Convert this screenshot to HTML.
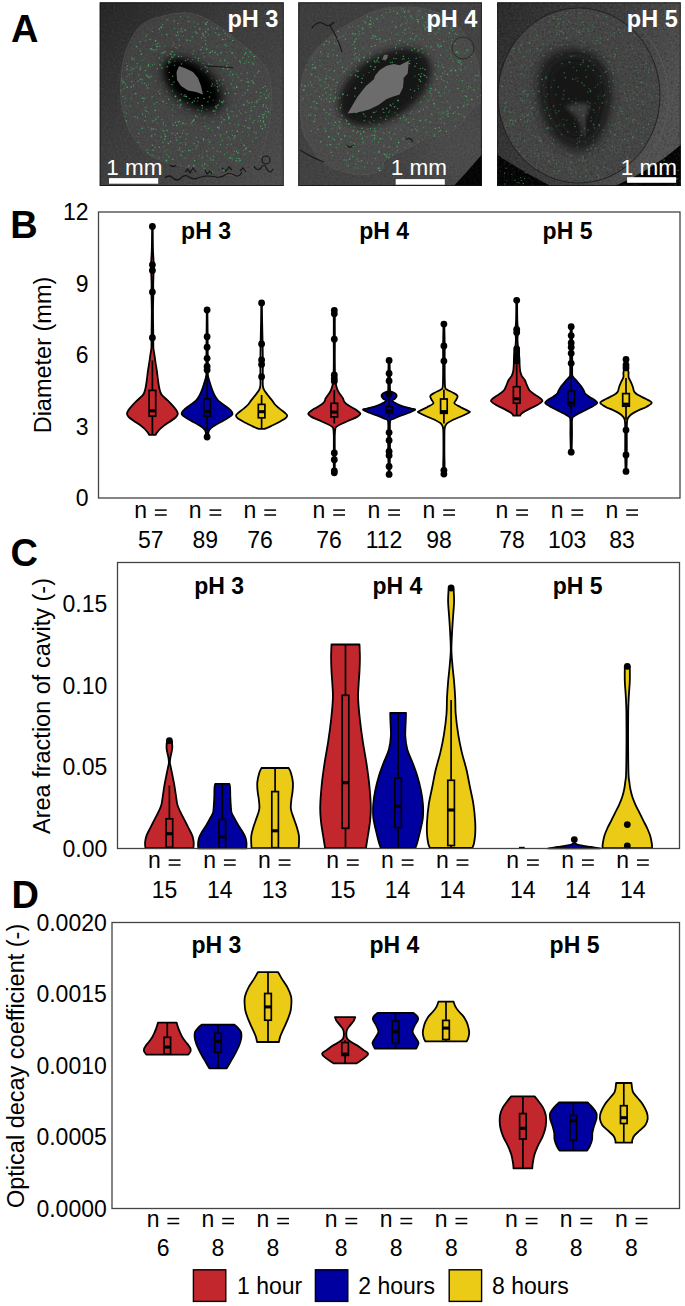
<!DOCTYPE html>
<html><head><meta charset="utf-8"><title>Figure</title>
<style>
html,body{margin:0;padding:0;background:#fff;overflow:hidden;}
svg{display:block;}
text{font-family:"Liberation Sans", sans-serif;}
</style></head>
<body>
<svg width="685" height="1306" viewBox="0 0 685 1306">
<rect width="685" height="1306" fill="#fff"/>
<defs>
<filter id="bl2" x="-50%" y="-50%" width="200%" height="200%"><feGaussianBlur stdDeviation="2"/></filter>
<filter id="bl3" x="-50%" y="-50%" width="200%" height="200%"><feGaussianBlur stdDeviation="3"/></filter>
<filter id="bl5" x="-50%" y="-50%" width="200%" height="200%"><feGaussianBlur stdDeviation="5"/></filter>
<filter id="bl8" x="-50%" y="-50%" width="200%" height="200%"><feGaussianBlur stdDeviation="8"/></filter>
<filter id="bl12" x="-50%" y="-50%" width="200%" height="200%"><feGaussianBlur stdDeviation="12"/></filter>
<filter id="bl1" x="-50%" y="-50%" width="200%" height="200%"><feGaussianBlur stdDeviation="1"/></filter>
<filter id="noise" x="0" y="0" width="100%" height="100%">
 <feTurbulence type="fractalNoise" baseFrequency="0.45" numOctaves="2" seed="3" result="t"/>
 <feColorMatrix type="matrix" values="0 0 0 0 0  0 0 0 0 0  0 0 0 0 0  0 0 0 -1.2 0.62"/>
</filter>
<filter id="noiseL" x="0" y="0" width="100%" height="100%">
 <feTurbulence type="fractalNoise" baseFrequency="0.5" numOctaves="2" seed="9" result="t"/>
 <feColorMatrix type="matrix" values="0 0 0 0 1  0 0 0 0 1  0 0 0 0 1  0 0 0 -1.2 0.62"/>
</filter>
<clipPath id="ca1"><rect x="99.6" y="2.3" width="184.2" height="183.7"/></clipPath>
<clipPath id="ca2"><rect x="298.2" y="2.3" width="183.7" height="183.7"/></clipPath>
<clipPath id="ca3"><rect x="497.1" y="2.3" width="183.7" height="183.7"/></clipPath>
<linearGradient id="g1" x1="0" y1="0" x2="1" y2="1"><stop offset="0" stop-color="#262626"/><stop offset="0.4" stop-color="#3c3c3c"/><stop offset="1" stop-color="#4e4e4e"/></linearGradient>
<linearGradient id="g2" x1="0" y1="0" x2="1" y2="1"><stop offset="0" stop-color="#3e3e3e"/><stop offset="1" stop-color="#474747"/></linearGradient>
<linearGradient id="g3" x1="0" y1="0" x2="1" y2="0.4"><stop offset="0" stop-color="#2c2c2c"/><stop offset="0.6" stop-color="#3e3e3e"/><stop offset="1" stop-color="#525252"/></linearGradient>
<radialGradient id="rd1" cx="0.5" cy="0.5" r="0.5"><stop offset="0" stop-color="#4a4a4a"/><stop offset="1" stop-color="#444"/></radialGradient>
</defs>
<g clip-path="url(#ca1)">
<rect x="99" y="2" width="186" height="185" fill="url(#g1)"/>
<path d="M163.40,16.10 C171.68,14.27 182.53,11.62 192.00,13.50 C201.47,15.38 212.45,22.75 220.20,27.40 C227.95,32.05 232.63,36.72 238.50,41.40 C244.37,46.08 250.70,50.80 255.40,55.50 C260.10,60.20 264.12,64.43 266.70,69.60 C269.28,74.77 270.20,80.15 270.90,86.50 C271.60,92.85 271.37,100.65 270.90,107.70 C270.43,114.75 269.52,121.77 268.10,128.80 C266.68,135.83 264.52,144.03 262.40,149.90 C260.28,155.77 260.08,159.77 255.40,164.00 C250.72,168.23 241.87,173.97 234.30,175.30 C226.73,176.63 218.30,173.42 210.00,172.00 C201.70,170.58 192.27,168.60 184.50,166.80 C176.73,165.00 169.73,163.55 163.40,161.20 C157.07,158.85 151.67,156.93 146.50,152.70 C141.33,148.47 135.92,141.43 132.40,135.80 C128.88,130.17 127.28,124.77 125.40,118.90 C123.52,113.03 121.82,107.17 121.10,100.60 C120.38,94.03 120.62,86.53 121.10,79.50 C121.58,72.47 122.35,64.98 124.00,58.40 C125.65,51.82 127.95,45.65 131.00,40.00 C134.05,34.35 136.90,28.48 142.30,24.50 C147.70,20.52 155.12,17.93 163.40,16.10 Z" fill="#484848" opacity="0.75" filter="url(#bl1)"/>
<path d="M163.40,16.10 C171.68,14.27 182.53,11.62 192.00,13.50 C201.47,15.38 212.45,22.75 220.20,27.40 C227.95,32.05 232.63,36.72 238.50,41.40 C244.37,46.08 250.70,50.80 255.40,55.50 C260.10,60.20 264.12,64.43 266.70,69.60 C269.28,74.77 270.20,80.15 270.90,86.50 C271.60,92.85 271.37,100.65 270.90,107.70 C270.43,114.75 269.52,121.77 268.10,128.80 C266.68,135.83 264.52,144.03 262.40,149.90 C260.28,155.77 260.08,159.77 255.40,164.00 C250.72,168.23 241.87,173.97 234.30,175.30 C226.73,176.63 218.30,173.42 210.00,172.00 C201.70,170.58 192.27,168.60 184.50,166.80 C176.73,165.00 169.73,163.55 163.40,161.20 C157.07,158.85 151.67,156.93 146.50,152.70 C141.33,148.47 135.92,141.43 132.40,135.80 C128.88,130.17 127.28,124.77 125.40,118.90 C123.52,113.03 121.82,107.17 121.10,100.60 C120.38,94.03 120.62,86.53 121.10,79.50 C121.58,72.47 122.35,64.98 124.00,58.40 C125.65,51.82 127.95,45.65 131.00,40.00 C134.05,34.35 136.90,28.48 142.30,24.50 C147.70,20.52 155.12,17.93 163.40,16.10 Z" fill="none" stroke="#5c5c5c" stroke-width="1" opacity="0.6"/>
<rect x="99" y="2" width="186" height="185" filter="url(#noise)" opacity="0.3"/>
<rect x="99" y="2" width="186" height="185" filter="url(#noiseL)" opacity="0.12"/>
<ellipse cx="193" cy="85" rx="38" ry="23" transform="rotate(40 193 85)" fill="#222222" filter="url(#bl5)"/>
<ellipse cx="192" cy="84" rx="32" ry="17" transform="rotate(40 192 84)" fill="#060606" filter="url(#bl3)"/>
<path d="M179,66 L186,68.5 L193,72 L198,78 L201,86 L203,94.5 L196,92 L188,90.5 L181,86 L177,80 L176.5,72 Z" fill="#6a6a6a"/>
<path d="M205,66 L233,67.5" stroke="#151515" stroke-width="1" fill="none"/>
<path d="M165,178 q4,-4 8,0 t8,0 t8,-1 t9,1 t9,-2 t9,1 t9,-2 t9,0 t8,-3 M254,166 q3,6 7,2 q3,-6 6,1 q3,6 6,0 M170,165 q3,3 6,0 M185,172 l3,-3 l2,4 l3,-5 l3,4 M205,170 l2,4 l3,-3 l2,3 M222,168 l4,3 l3,-4 l3,3 M240,171 l3,-3 l3,4 M262,160 a4,4 0 1,0 8,0 a4,4 0 1,0 -8,0" stroke="#0e0e0e" stroke-width="1.2" fill="none" opacity="0.85"/>
<g opacity="0.80"><circle cx="182.8" cy="123.5" r="0.56" fill="rgb(68,181,99)"/><circle cx="206.1" cy="72.3" r="0.57" fill="rgb(67,177,97)"/><circle cx="181.3" cy="94.3" r="0.68" fill="rgb(63,167,91)"/><circle cx="199.3" cy="155.8" r="0.80" fill="rgb(54,143,78)"/><circle cx="221.6" cy="122.2" r="0.72" fill="rgb(68,180,99)"/><circle cx="249.8" cy="118.8" r="0.84" fill="rgb(54,143,78)"/><circle cx="263.4" cy="116.9" r="0.68" fill="rgb(60,158,86)"/><circle cx="140.4" cy="79.3" r="0.79" fill="rgb(66,175,96)"/><circle cx="220.4" cy="151.7" r="0.61" fill="rgb(68,180,99)"/><circle cx="248.5" cy="134.8" r="0.57" fill="rgb(66,176,96)"/><circle cx="213.1" cy="160.1" r="0.78" fill="rgb(63,167,91)"/><circle cx="124.7" cy="111.9" r="0.64" fill="rgb(61,163,89)"/><circle cx="213.5" cy="29.1" r="0.57" fill="rgb(58,155,85)"/><circle cx="179.4" cy="149.8" r="0.77" fill="rgb(61,161,88)"/><circle cx="232.2" cy="130.8" r="0.65" fill="rgb(71,188,103)"/><circle cx="241.1" cy="73.3" r="0.57" fill="rgb(69,182,100)"/><circle cx="132.9" cy="69.0" r="0.64" fill="rgb(72,192,105)"/><circle cx="176.3" cy="35.5" r="0.79" fill="rgb(67,177,97)"/><circle cx="217.1" cy="105.5" r="0.69" fill="rgb(59,157,86)"/><circle cx="177.7" cy="32.1" r="0.80" fill="rgb(69,183,100)"/><circle cx="185.8" cy="144.7" r="0.65" fill="rgb(69,182,100)"/><circle cx="238.2" cy="77.2" r="0.59" fill="rgb(68,179,98)"/><circle cx="258.1" cy="121.0" r="0.77" fill="rgb(56,148,81)"/><circle cx="137.7" cy="142.0" r="0.57" fill="rgb(64,171,94)"/><circle cx="142.5" cy="114.1" r="0.59" fill="rgb(74,196,107)"/><circle cx="144.9" cy="120.7" r="0.67" fill="rgb(70,185,101)"/><circle cx="150.9" cy="154.8" r="0.60" fill="rgb(58,154,84)"/><circle cx="212.4" cy="130.3" r="0.55" fill="rgb(58,154,84)"/><circle cx="211.8" cy="64.4" r="0.55" fill="rgb(60,158,86)"/><circle cx="155.7" cy="119.3" r="0.65" fill="rgb(66,176,96)"/><circle cx="245.7" cy="148.9" r="0.74" fill="rgb(76,200,110)"/><circle cx="250.2" cy="52.3" r="0.75" fill="rgb(74,195,107)"/><circle cx="151.3" cy="76.2" r="0.58" fill="rgb(62,165,90)"/><circle cx="227.7" cy="110.4" r="0.58" fill="rgb(57,150,82)"/><circle cx="145.2" cy="70.5" r="0.66" fill="rgb(76,200,110)"/><circle cx="266.2" cy="107.2" r="0.66" fill="rgb(68,179,98)"/><circle cx="146.7" cy="35.1" r="0.66" fill="rgb(67,178,97)"/><circle cx="246.2" cy="147.7" r="0.69" fill="rgb(64,169,92)"/><circle cx="185.1" cy="123.8" r="0.65" fill="rgb(71,187,102)"/><circle cx="202.1" cy="105.6" r="0.84" fill="rgb(76,200,110)"/><circle cx="155.2" cy="147.0" r="0.56" fill="rgb(75,198,108)"/><circle cx="122.0" cy="80.7" r="0.58" fill="rgb(74,195,107)"/><circle cx="226.9" cy="46.3" r="0.60" fill="rgb(75,198,108)"/><circle cx="203.6" cy="35.7" r="0.70" fill="rgb(71,189,103)"/><circle cx="157.0" cy="46.5" r="0.85" fill="rgb(72,190,104)"/><circle cx="223.2" cy="30.9" r="0.61" fill="rgb(58,154,84)"/><circle cx="131.1" cy="98.2" r="0.79" fill="rgb(53,141,77)"/><circle cx="163.1" cy="101.3" r="0.84" fill="rgb(67,178,97)"/><circle cx="126.4" cy="120.8" r="0.84" fill="rgb(61,162,89)"/><circle cx="172.5" cy="123.9" r="0.69" fill="rgb(58,154,84)"/><circle cx="168.3" cy="143.5" r="0.73" fill="rgb(74,197,108)"/><circle cx="268.5" cy="95.9" r="0.79" fill="rgb(61,162,89)"/><circle cx="249.2" cy="128.8" r="0.67" fill="rgb(75,198,108)"/><circle cx="187.9" cy="59.5" r="0.60" fill="rgb(74,196,107)"/><circle cx="206.7" cy="49.1" r="0.83" fill="rgb(72,191,105)"/><circle cx="186.9" cy="40.1" r="0.83" fill="rgb(71,187,102)"/><circle cx="191.1" cy="61.6" r="0.56" fill="rgb(56,148,81)"/><circle cx="152.4" cy="64.8" r="0.59" fill="rgb(68,181,99)"/><circle cx="171.2" cy="54.5" r="0.71" fill="rgb(66,175,96)"/><circle cx="263.3" cy="104.8" r="0.74" fill="rgb(70,186,102)"/><circle cx="123.6" cy="81.8" r="0.85" fill="rgb(63,167,91)"/><circle cx="220.1" cy="167.1" r="0.63" fill="rgb(53,141,77)"/><circle cx="186.1" cy="133.8" r="0.65" fill="rgb(67,177,97)"/><circle cx="129.3" cy="74.4" r="0.82" fill="rgb(54,143,78)"/><circle cx="164.8" cy="139.1" r="0.79" fill="rgb(67,177,97)"/><circle cx="127.3" cy="87.2" r="0.70" fill="rgb(74,196,107)"/><circle cx="142.1" cy="83.2" r="0.81" fill="rgb(53,141,77)"/><circle cx="205.8" cy="31.9" r="0.79" fill="rgb(71,189,103)"/><circle cx="220.5" cy="144.8" r="0.59" fill="rgb(70,186,102)"/><circle cx="254.1" cy="120.6" r="0.72" fill="rgb(65,173,95)"/><circle cx="201.3" cy="68.9" r="0.57" fill="rgb(66,175,96)"/><circle cx="201.6" cy="110.7" r="0.70" fill="rgb(55,146,80)"/><circle cx="134.7" cy="68.0" r="0.57" fill="rgb(75,198,108)"/><circle cx="169.3" cy="72.4" r="0.69" fill="rgb(59,157,86)"/><circle cx="144.6" cy="83.2" r="0.62" fill="rgb(76,200,110)"/><circle cx="125.6" cy="83.8" r="0.63" fill="rgb(75,199,109)"/><circle cx="127.3" cy="65.9" r="0.68" fill="rgb(73,193,106)"/><circle cx="154.8" cy="120.7" r="0.57" fill="rgb(60,160,88)"/><circle cx="197.2" cy="117.1" r="0.64" fill="rgb(69,182,100)"/><circle cx="244.2" cy="145.3" r="0.76" fill="rgb(76,200,110)"/><circle cx="153.4" cy="129.1" r="0.80" fill="rgb(69,182,100)"/><circle cx="222.4" cy="140.7" r="0.67" fill="rgb(65,172,94)"/><circle cx="156.1" cy="118.2" r="0.77" fill="rgb(55,145,79)"/><circle cx="252.1" cy="102.5" r="0.76" fill="rgb(63,168,92)"/><circle cx="155.1" cy="134.2" r="0.70" fill="rgb(60,158,86)"/><circle cx="265.4" cy="127.0" r="0.62" fill="rgb(72,190,104)"/><circle cx="211.7" cy="78.3" r="0.56" fill="rgb(59,157,86)"/><circle cx="203.2" cy="53.1" r="0.80" fill="rgb(56,148,81)"/><circle cx="232.6" cy="40.4" r="0.63" fill="rgb(76,200,110)"/><circle cx="239.1" cy="158.4" r="0.70" fill="rgb(66,176,96)"/><circle cx="177.3" cy="133.3" r="0.76" fill="rgb(72,191,105)"/><circle cx="177.8" cy="105.0" r="0.56" fill="rgb(76,200,110)"/><circle cx="228.9" cy="117.1" r="0.81" fill="rgb(67,178,97)"/><circle cx="260.5" cy="126.0" r="0.55" fill="rgb(64,169,92)"/><circle cx="245.1" cy="93.1" r="0.63" fill="rgb(75,198,108)"/><circle cx="234.0" cy="138.2" r="0.83" fill="rgb(58,155,85)"/><circle cx="234.2" cy="86.9" r="0.61" fill="rgb(57,151,83)"/><circle cx="180.1" cy="136.9" r="0.61" fill="rgb(71,188,103)"/><circle cx="137.3" cy="117.5" r="0.65" fill="rgb(59,157,86)"/><circle cx="233.8" cy="99.7" r="0.56" fill="rgb(53,140,77)"/><circle cx="158.5" cy="91.4" r="0.58" fill="rgb(63,168,92)"/><circle cx="217.0" cy="46.1" r="0.71" fill="rgb(64,171,94)"/><circle cx="183.5" cy="130.6" r="0.65" fill="rgb(58,154,84)"/><circle cx="227.6" cy="35.1" r="0.59" fill="rgb(68,180,99)"/><circle cx="145.7" cy="40.5" r="0.60" fill="rgb(63,167,91)"/><circle cx="256.1" cy="133.1" r="0.70" fill="rgb(74,195,107)"/><circle cx="253.8" cy="83.5" r="0.64" fill="rgb(69,184,101)"/><circle cx="166.8" cy="103.2" r="0.55" fill="rgb(63,168,92)"/><circle cx="167.4" cy="130.4" r="0.65" fill="rgb(66,175,96)"/><circle cx="265.7" cy="111.5" r="0.66" fill="rgb(58,153,84)"/><circle cx="242.9" cy="95.3" r="0.63" fill="rgb(64,170,93)"/><circle cx="174.9" cy="61.1" r="0.55" fill="rgb(71,189,103)"/><circle cx="194.0" cy="119.5" r="0.73" fill="rgb(62,165,90)"/><circle cx="163.3" cy="122.7" r="0.62" fill="rgb(68,180,99)"/><circle cx="148.5" cy="64.4" r="0.60" fill="rgb(71,188,103)"/><circle cx="141.4" cy="54.1" r="0.85" fill="rgb(70,186,102)"/><circle cx="234.2" cy="151.3" r="0.59" fill="rgb(68,181,99)"/><circle cx="225.1" cy="33.2" r="0.74" fill="rgb(65,172,94)"/><circle cx="189.1" cy="21.5" r="0.82" fill="rgb(56,148,81)"/><circle cx="197.0" cy="33.2" r="0.79" fill="rgb(72,192,105)"/><circle cx="222.8" cy="39.4" r="0.76" fill="rgb(74,197,108)"/><circle cx="254.6" cy="77.1" r="0.56" fill="rgb(55,145,79)"/><circle cx="226.6" cy="131.5" r="0.66" fill="rgb(55,146,80)"/><circle cx="179.7" cy="100.6" r="0.74" fill="rgb(53,141,77)"/><circle cx="173.6" cy="43.0" r="0.69" fill="rgb(53,140,77)"/><circle cx="262.4" cy="128.8" r="0.71" fill="rgb(74,197,108)"/><circle cx="192.8" cy="54.0" r="0.80" fill="rgb(54,144,79)"/><circle cx="202.3" cy="166.0" r="0.77" fill="rgb(58,154,84)"/><circle cx="248.8" cy="86.2" r="0.57" fill="rgb(62,164,90)"/><circle cx="230.5" cy="71.6" r="0.74" fill="rgb(53,142,78)"/><circle cx="219.0" cy="128.0" r="0.76" fill="rgb(71,187,102)"/><circle cx="143.4" cy="101.3" r="0.58" fill="rgb(69,183,100)"/><circle cx="206.7" cy="151.2" r="0.70" fill="rgb(70,185,101)"/><circle cx="145.4" cy="107.3" r="0.85" fill="rgb(55,147,80)"/><circle cx="155.6" cy="81.1" r="0.83" fill="rgb(55,145,79)"/><circle cx="247.2" cy="101.1" r="0.70" fill="rgb(72,192,105)"/><circle cx="214.8" cy="85.5" r="0.59" fill="rgb(55,145,79)"/><circle cx="122.7" cy="82.9" r="0.73" fill="rgb(56,148,81)"/><circle cx="168.8" cy="63.1" r="0.76" fill="rgb(55,147,80)"/><circle cx="184.1" cy="96.1" r="0.83" fill="rgb(53,140,77)"/><circle cx="175.8" cy="47.5" r="0.59" fill="rgb(70,186,102)"/><circle cx="172.2" cy="133.3" r="0.65" fill="rgb(73,193,106)"/><circle cx="176.0" cy="137.6" r="0.59" fill="rgb(62,165,90)"/><circle cx="253.4" cy="64.1" r="0.77" fill="rgb(74,197,108)"/><circle cx="195.6" cy="115.9" r="0.85" fill="rgb(62,164,90)"/><circle cx="157.3" cy="68.8" r="0.78" fill="rgb(63,167,91)"/><circle cx="220.5" cy="60.6" r="0.80" fill="rgb(54,143,78)"/><circle cx="196.2" cy="137.3" r="0.64" fill="rgb(65,172,94)"/><circle cx="205.8" cy="23.1" r="0.82" fill="rgb(63,167,91)"/><circle cx="218.9" cy="34.7" r="0.81" fill="rgb(75,198,108)"/><circle cx="163.7" cy="82.7" r="0.56" fill="rgb(55,145,79)"/><circle cx="190.4" cy="40.3" r="0.59" fill="rgb(71,188,103)"/><circle cx="232.1" cy="53.2" r="0.83" fill="rgb(75,198,108)"/><circle cx="232.4" cy="135.4" r="0.63" fill="rgb(61,161,88)"/><circle cx="193.6" cy="165.4" r="0.63" fill="rgb(68,181,99)"/><circle cx="172.8" cy="57.6" r="0.75" fill="rgb(66,175,96)"/><circle cx="240.5" cy="139.9" r="0.61" fill="rgb(54,144,79)"/><circle cx="240.5" cy="62.8" r="0.69" fill="rgb(58,154,84)"/><circle cx="163.1" cy="157.0" r="0.59" fill="rgb(63,167,91)"/><circle cx="204.1" cy="118.1" r="0.72" fill="rgb(61,161,88)"/><circle cx="176.5" cy="140.1" r="0.72" fill="rgb(72,191,105)"/><circle cx="246.0" cy="48.8" r="0.66" fill="rgb(63,166,91)"/><circle cx="195.1" cy="57.4" r="0.65" fill="rgb(59,157,86)"/><circle cx="233.0" cy="111.4" r="0.59" fill="rgb(61,163,89)"/><circle cx="135.7" cy="93.6" r="0.80" fill="rgb(74,195,107)"/><circle cx="256.1" cy="137.7" r="0.67" fill="rgb(62,164,90)"/><circle cx="209.5" cy="97.0" r="0.78" fill="rgb(70,185,101)"/><circle cx="175.5" cy="96.4" r="0.83" fill="rgb(75,199,109)"/><circle cx="233.3" cy="87.9" r="0.62" fill="rgb(55,146,80)"/><circle cx="239.2" cy="161.0" r="0.83" fill="rgb(55,146,80)"/><circle cx="185.2" cy="30.1" r="0.82" fill="rgb(71,188,103)"/><circle cx="253.7" cy="131.8" r="0.78" fill="rgb(53,140,77)"/><circle cx="170.4" cy="59.2" r="0.74" fill="rgb(56,148,81)"/><circle cx="146.5" cy="85.4" r="0.58" fill="rgb(71,188,103)"/><circle cx="245.7" cy="120.4" r="0.61" fill="rgb(67,177,97)"/><circle cx="191.4" cy="167.7" r="0.55" fill="rgb(53,140,77)"/><circle cx="179.6" cy="147.8" r="0.74" fill="rgb(60,160,88)"/><circle cx="235.0" cy="57.3" r="0.71" fill="rgb(58,155,85)"/><circle cx="243.9" cy="104.6" r="0.64" fill="rgb(68,181,99)"/><circle cx="249.1" cy="102.9" r="0.74" fill="rgb(69,183,100)"/><circle cx="227.7" cy="114.1" r="0.83" fill="rgb(63,167,91)"/><circle cx="198.0" cy="110.0" r="0.77" fill="rgb(61,161,88)"/><circle cx="165.0" cy="134.3" r="0.79" fill="rgb(53,140,77)"/><circle cx="192.3" cy="36.9" r="0.70" fill="rgb(58,153,84)"/><circle cx="216.4" cy="163.3" r="0.62" fill="rgb(57,152,83)"/><circle cx="207.8" cy="165.4" r="0.58" fill="rgb(60,158,86)"/><circle cx="153.7" cy="50.1" r="0.62" fill="rgb(74,197,108)"/><circle cx="142.2" cy="128.3" r="0.73" fill="rgb(76,200,110)"/><circle cx="211.6" cy="86.0" r="0.84" fill="rgb(53,141,77)"/><circle cx="206.9" cy="109.5" r="0.61" fill="rgb(54,143,78)"/><circle cx="135.1" cy="116.5" r="0.77" fill="rgb(60,160,88)"/><circle cx="269.3" cy="93.8" r="0.61" fill="rgb(61,161,88)"/><circle cx="164.3" cy="46.4" r="0.56" fill="rgb(64,169,92)"/><circle cx="172.1" cy="51.7" r="0.85" fill="rgb(61,163,89)"/><circle cx="172.5" cy="104.6" r="0.63" fill="rgb(55,145,79)"/><circle cx="249.2" cy="151.5" r="0.66" fill="rgb(58,153,84)"/><circle cx="201.0" cy="49.8" r="0.68" fill="rgb(72,191,105)"/><circle cx="245.8" cy="112.2" r="0.71" fill="rgb(61,163,89)"/><circle cx="155.2" cy="110.4" r="0.82" fill="rgb(71,187,102)"/><circle cx="243.8" cy="104.9" r="0.74" fill="rgb(72,191,105)"/><circle cx="157.5" cy="123.3" r="0.57" fill="rgb(64,169,92)"/><circle cx="229.8" cy="75.0" r="0.57" fill="rgb(71,187,102)"/><circle cx="159.9" cy="64.6" r="0.84" fill="rgb(61,161,88)"/><circle cx="167.1" cy="66.8" r="0.76" fill="rgb(70,185,101)"/><circle cx="232.8" cy="74.5" r="0.78" fill="rgb(70,186,102)"/><circle cx="248.4" cy="62.3" r="0.57" fill="rgb(76,200,110)"/><circle cx="207.4" cy="71.1" r="0.84" fill="rgb(70,185,101)"/><circle cx="241.3" cy="80.4" r="0.82" fill="rgb(59,156,85)"/><circle cx="207.0" cy="67.6" r="0.60" fill="rgb(64,171,94)"/><circle cx="217.2" cy="28.3" r="0.76" fill="rgb(72,192,105)"/><circle cx="217.5" cy="127.4" r="0.65" fill="rgb(74,195,107)"/><circle cx="152.6" cy="150.3" r="0.70" fill="rgb(55,145,79)"/><circle cx="172.4" cy="115.6" r="0.57" fill="rgb(63,166,91)"/><circle cx="251.2" cy="107.9" r="0.60" fill="rgb(60,160,88)"/><circle cx="173.9" cy="106.8" r="0.63" fill="rgb(54,144,79)"/><circle cx="216.4" cy="107.8" r="0.85" fill="rgb(64,171,94)"/><circle cx="227.1" cy="89.1" r="0.68" fill="rgb(56,148,81)"/><circle cx="150.6" cy="48.8" r="0.71" fill="rgb(71,187,102)"/><circle cx="205.9" cy="24.3" r="0.80" fill="rgb(71,189,103)"/><circle cx="180.5" cy="154.4" r="0.63" fill="rgb(61,163,89)"/><circle cx="192.7" cy="149.2" r="0.62" fill="rgb(57,151,83)"/><circle cx="236.8" cy="158.3" r="0.61" fill="rgb(67,177,97)"/><circle cx="231.0" cy="111.3" r="0.70" fill="rgb(58,155,85)"/><circle cx="204.0" cy="168.2" r="0.69" fill="rgb(68,181,99)"/><circle cx="223.1" cy="68.5" r="0.82" fill="rgb(63,168,92)"/><circle cx="235.9" cy="106.1" r="0.57" fill="rgb(55,147,80)"/><circle cx="140.2" cy="51.0" r="0.83" fill="rgb(57,152,83)"/><circle cx="146.9" cy="149.9" r="0.73" fill="rgb(63,168,92)"/><circle cx="205.7" cy="29.0" r="0.58" fill="rgb(53,140,77)"/><circle cx="146.8" cy="58.3" r="0.56" fill="rgb(58,153,84)"/><circle cx="187.4" cy="109.5" r="0.56" fill="rgb(59,156,85)"/><circle cx="187.9" cy="17.1" r="0.55" fill="rgb(72,192,105)"/><circle cx="166.8" cy="154.7" r="0.74" fill="rgb(57,151,83)"/><circle cx="207.9" cy="101.8" r="0.71" fill="rgb(64,171,94)"/><circle cx="218.3" cy="105.1" r="0.75" fill="rgb(62,165,90)"/><circle cx="227.3" cy="144.5" r="0.60" fill="rgb(68,181,99)"/><circle cx="179.6" cy="45.6" r="0.75" fill="rgb(60,158,86)"/><circle cx="181.0" cy="104.2" r="0.72" fill="rgb(71,187,102)"/><circle cx="165.4" cy="136.4" r="0.78" fill="rgb(74,195,107)"/><circle cx="215.7" cy="32.7" r="0.77" fill="rgb(62,165,90)"/><circle cx="197.7" cy="101.0" r="0.60" fill="rgb(74,197,108)"/><circle cx="213.3" cy="111.1" r="0.81" fill="rgb(66,176,96)"/><circle cx="166.3" cy="103.0" r="0.57" fill="rgb(53,140,77)"/><circle cx="238.7" cy="152.5" r="0.58" fill="rgb(62,165,90)"/><circle cx="162.7" cy="60.3" r="0.60" fill="rgb(65,172,94)"/><circle cx="178.4" cy="121.9" r="0.83" fill="rgb(57,150,82)"/><circle cx="237.3" cy="131.3" r="0.79" fill="rgb(72,191,105)"/><circle cx="210.1" cy="52.6" r="0.83" fill="rgb(73,193,106)"/><circle cx="248.2" cy="86.3" r="0.73" fill="rgb(54,143,78)"/><circle cx="181.2" cy="28.9" r="0.60" fill="rgb(74,197,108)"/><circle cx="204.0" cy="57.3" r="0.73" fill="rgb(62,165,90)"/><circle cx="213.4" cy="148.2" r="0.62" fill="rgb(66,176,96)"/><circle cx="151.8" cy="129.8" r="0.66" fill="rgb(62,164,90)"/><circle cx="240.2" cy="160.2" r="0.82" fill="rgb(72,192,105)"/><circle cx="251.1" cy="110.7" r="0.75" fill="rgb(71,188,103)"/><circle cx="174.7" cy="54.4" r="0.73" fill="rgb(62,164,90)"/><circle cx="138.8" cy="74.9" r="0.74" fill="rgb(60,159,87)"/><circle cx="182.4" cy="133.2" r="0.75" fill="rgb(62,164,90)"/><circle cx="148.5" cy="112.8" r="0.55" fill="rgb(53,141,77)"/><circle cx="247.6" cy="90.1" r="0.78" fill="rgb(63,168,92)"/><circle cx="205.6" cy="40.5" r="0.79" fill="rgb(57,151,83)"/><circle cx="180.0" cy="107.5" r="0.68" fill="rgb(61,162,89)"/><circle cx="238.4" cy="124.7" r="0.75" fill="rgb(65,172,94)"/><circle cx="222.5" cy="102.5" r="0.77" fill="rgb(75,199,109)"/><circle cx="205.4" cy="37.2" r="0.78" fill="rgb(54,143,78)"/><circle cx="244.5" cy="54.4" r="0.59" fill="rgb(72,190,104)"/><circle cx="188.3" cy="21.4" r="0.59" fill="rgb(57,152,83)"/><circle cx="226.7" cy="66.0" r="0.82" fill="rgb(72,191,105)"/><circle cx="230.3" cy="157.7" r="0.62" fill="rgb(75,199,109)"/><circle cx="225.6" cy="39.5" r="0.60" fill="rgb(59,156,85)"/><circle cx="227.7" cy="69.0" r="0.69" fill="rgb(72,192,105)"/><circle cx="138.0" cy="102.9" r="0.70" fill="rgb(68,179,98)"/><circle cx="189.9" cy="109.3" r="0.67" fill="rgb(57,151,83)"/><circle cx="169.8" cy="62.3" r="0.82" fill="rgb(60,160,88)"/><circle cx="228.9" cy="158.4" r="0.78" fill="rgb(55,147,80)"/><circle cx="263.2" cy="117.8" r="0.69" fill="rgb(74,195,107)"/><circle cx="133.5" cy="85.9" r="0.58" fill="rgb(74,197,108)"/><circle cx="256.3" cy="92.1" r="0.77" fill="rgb(62,165,90)"/><circle cx="163.8" cy="131.3" r="0.72" fill="rgb(61,163,89)"/><circle cx="153.6" cy="150.2" r="0.62" fill="rgb(63,168,92)"/><circle cx="140.3" cy="41.8" r="0.80" fill="rgb(60,158,86)"/><circle cx="194.6" cy="160.5" r="0.73" fill="rgb(74,195,107)"/><circle cx="174.1" cy="55.7" r="0.77" fill="rgb(53,140,77)"/><circle cx="203.3" cy="138.5" r="0.68" fill="rgb(68,180,99)"/><circle cx="124.3" cy="88.8" r="0.70" fill="rgb(56,148,81)"/><circle cx="249.9" cy="115.7" r="0.58" fill="rgb(60,159,87)"/><circle cx="173.6" cy="125.4" r="0.64" fill="rgb(67,177,97)"/><circle cx="226.7" cy="132.0" r="0.69" fill="rgb(73,193,106)"/><circle cx="244.7" cy="154.4" r="0.76" fill="rgb(58,155,85)"/><circle cx="177.7" cy="101.3" r="0.81" fill="rgb(56,149,81)"/><circle cx="205.7" cy="44.1" r="0.84" fill="rgb(59,156,85)"/><circle cx="260.6" cy="120.7" r="0.66" fill="rgb(74,197,108)"/><circle cx="165.1" cy="51.7" r="0.71" fill="rgb(75,199,109)"/><circle cx="165.2" cy="96.5" r="0.56" fill="rgb(53,140,77)"/><circle cx="148.5" cy="84.7" r="0.60" fill="rgb(58,155,85)"/><circle cx="216.9" cy="81.0" r="0.72" fill="rgb(68,179,98)"/><circle cx="222.7" cy="83.8" r="0.71" fill="rgb(57,152,83)"/><circle cx="157.8" cy="43.5" r="0.79" fill="rgb(63,166,91)"/><circle cx="215.3" cy="135.6" r="0.74" fill="rgb(60,159,87)"/><circle cx="260.6" cy="92.4" r="0.76" fill="rgb(64,170,93)"/><circle cx="265.8" cy="98.0" r="0.82" fill="rgb(71,187,102)"/><circle cx="249.8" cy="127.2" r="0.62" fill="rgb(57,151,83)"/><circle cx="224.9" cy="119.3" r="0.59" fill="rgb(53,142,78)"/><circle cx="232.5" cy="80.2" r="0.63" fill="rgb(54,143,78)"/><circle cx="148.7" cy="77.0" r="0.83" fill="rgb(72,190,104)"/><circle cx="236.7" cy="87.2" r="0.84" fill="rgb(75,199,109)"/><circle cx="210.7" cy="170.3" r="0.60" fill="rgb(53,140,77)"/><circle cx="204.9" cy="126.3" r="0.65" fill="rgb(75,198,108)"/><circle cx="227.8" cy="62.9" r="0.66" fill="rgb(58,155,85)"/><circle cx="265.3" cy="86.4" r="0.69" fill="rgb(66,174,95)"/><circle cx="229.9" cy="37.1" r="0.56" fill="rgb(73,194,106)"/><circle cx="231.3" cy="84.1" r="0.64" fill="rgb(74,196,107)"/><circle cx="210.2" cy="157.9" r="0.72" fill="rgb(54,144,79)"/><circle cx="202.5" cy="108.1" r="0.58" fill="rgb(55,147,80)"/><circle cx="236.3" cy="74.2" r="0.76" fill="rgb(56,149,81)"/><circle cx="223.7" cy="100.9" r="0.74" fill="rgb(68,181,99)"/><circle cx="174.7" cy="28.5" r="0.81" fill="rgb(54,144,79)"/><circle cx="198.5" cy="58.5" r="0.71" fill="rgb(72,192,105)"/><circle cx="159.4" cy="29.0" r="0.82" fill="rgb(71,188,103)"/><circle cx="219.4" cy="85.8" r="0.61" fill="rgb(58,153,84)"/><circle cx="268.4" cy="111.9" r="0.79" fill="rgb(75,198,108)"/><circle cx="150.1" cy="39.4" r="0.74" fill="rgb(68,180,99)"/><circle cx="168.6" cy="99.3" r="0.78" fill="rgb(72,190,104)"/><circle cx="208.0" cy="139.5" r="0.63" fill="rgb(63,167,91)"/><circle cx="259.2" cy="116.4" r="0.65" fill="rgb(75,198,108)"/><circle cx="248.6" cy="81.9" r="0.64" fill="rgb(73,194,106)"/><circle cx="194.2" cy="22.2" r="0.68" fill="rgb(53,141,77)"/><circle cx="202.5" cy="47.2" r="0.56" fill="rgb(70,185,101)"/><circle cx="137.2" cy="67.0" r="0.58" fill="rgb(72,192,105)"/><circle cx="209.3" cy="64.4" r="0.71" fill="rgb(53,140,77)"/><circle cx="180.3" cy="164.0" r="0.55" fill="rgb(54,143,78)"/><circle cx="142.8" cy="98.3" r="0.80" fill="rgb(72,190,104)"/><circle cx="253.3" cy="82.1" r="0.70" fill="rgb(73,193,106)"/><circle cx="169.3" cy="79.6" r="0.61" fill="rgb(72,192,105)"/><circle cx="179.3" cy="40.0" r="0.83" fill="rgb(55,147,80)"/><circle cx="201.6" cy="37.9" r="0.72" fill="rgb(69,184,101)"/><circle cx="230.4" cy="123.6" r="0.67" fill="rgb(55,146,80)"/><circle cx="139.4" cy="142.6" r="0.68" fill="rgb(55,145,79)"/><circle cx="167.8" cy="55.3" r="0.63" fill="rgb(60,159,87)"/><circle cx="239.8" cy="61.2" r="0.84" fill="rgb(62,164,90)"/><circle cx="145.7" cy="36.7" r="0.71" fill="rgb(56,148,81)"/><circle cx="197.9" cy="23.9" r="0.56" fill="rgb(68,181,99)"/><circle cx="148.2" cy="66.0" r="0.80" fill="rgb(74,195,107)"/><circle cx="161.7" cy="34.9" r="0.69" fill="rgb(57,150,82)"/><circle cx="181.6" cy="56.4" r="0.59" fill="rgb(58,154,84)"/><circle cx="126.5" cy="113.2" r="0.70" fill="rgb(58,155,85)"/><circle cx="188.8" cy="165.8" r="0.80" fill="rgb(72,192,105)"/><circle cx="212.9" cy="121.7" r="0.77" fill="rgb(58,155,85)"/><circle cx="160.2" cy="65.8" r="0.65" fill="rgb(58,155,85)"/><circle cx="223.9" cy="170.2" r="0.85" fill="rgb(70,186,102)"/><circle cx="227.5" cy="152.2" r="0.67" fill="rgb(57,152,83)"/><circle cx="263.4" cy="87.6" r="0.64" fill="rgb(70,186,102)"/><circle cx="192.3" cy="121.8" r="0.58" fill="rgb(75,198,108)"/><circle cx="208.8" cy="144.2" r="0.55" fill="rgb(53,142,78)"/><circle cx="226.6" cy="52.1" r="0.70" fill="rgb(58,154,84)"/><circle cx="161.2" cy="53.7" r="0.63" fill="rgb(56,149,81)"/><circle cx="178.4" cy="35.1" r="0.68" fill="rgb(68,181,99)"/><circle cx="204.7" cy="164.1" r="0.81" fill="rgb(74,196,107)"/><circle cx="159.5" cy="46.3" r="0.75" fill="rgb(58,154,84)"/><circle cx="163.7" cy="52.1" r="0.63" fill="rgb(60,160,88)"/><circle cx="174.1" cy="21.1" r="0.78" fill="rgb(58,155,85)"/><circle cx="182.2" cy="31.7" r="0.80" fill="rgb(59,156,85)"/><circle cx="185.4" cy="96.2" r="0.67" fill="rgb(73,194,106)"/><circle cx="162.8" cy="24.5" r="0.82" fill="rgb(57,151,83)"/><circle cx="192.3" cy="102.5" r="0.70" fill="rgb(73,193,106)"/><circle cx="210.7" cy="92.5" r="0.62" fill="rgb(66,174,95)"/><circle cx="180.4" cy="16.8" r="0.71" fill="rgb(57,152,83)"/><circle cx="242.4" cy="131.9" r="0.61" fill="rgb(66,174,95)"/><circle cx="186.5" cy="96.6" r="0.80" fill="rgb(72,190,104)"/><circle cx="147.8" cy="87.9" r="0.69" fill="rgb(76,200,110)"/><circle cx="228.5" cy="92.9" r="0.78" fill="rgb(65,172,94)"/><circle cx="250.2" cy="151.6" r="0.74" fill="rgb(61,162,89)"/><circle cx="195.3" cy="145.7" r="0.55" fill="rgb(54,143,78)"/><circle cx="153.0" cy="121.0" r="0.75" fill="rgb(69,184,101)"/><circle cx="174.0" cy="81.9" r="0.77" fill="rgb(60,159,87)"/><circle cx="247.3" cy="73.1" r="0.85" fill="rgb(58,154,84)"/><circle cx="246.1" cy="81.4" r="0.59" fill="rgb(57,150,82)"/><circle cx="207.4" cy="22.2" r="0.61" fill="rgb(68,180,99)"/><circle cx="155.6" cy="40.8" r="0.84" fill="rgb(72,192,105)"/><circle cx="159.3" cy="147.3" r="0.79" fill="rgb(72,192,105)"/><circle cx="199.8" cy="29.0" r="0.80" fill="rgb(71,189,103)"/><circle cx="153.1" cy="154.8" r="0.76" fill="rgb(59,157,86)"/><circle cx="167.1" cy="19.9" r="0.61" fill="rgb(69,183,100)"/><circle cx="260.6" cy="96.2" r="0.66" fill="rgb(59,157,86)"/><circle cx="171.7" cy="56.7" r="0.68" fill="rgb(64,171,94)"/><circle cx="155.9" cy="44.4" r="0.60" fill="rgb(61,163,89)"/><circle cx="180.5" cy="143.1" r="0.80" fill="rgb(55,145,79)"/><circle cx="251.8" cy="54.5" r="0.71" fill="rgb(56,148,81)"/><circle cx="163.4" cy="146.7" r="0.55" fill="rgb(69,182,100)"/><circle cx="254.7" cy="75.2" r="0.73" fill="rgb(59,156,85)"/><circle cx="134.1" cy="59.1" r="0.78" fill="rgb(57,151,83)"/><circle cx="179.1" cy="121.3" r="0.67" fill="rgb(74,197,108)"/><circle cx="138.1" cy="81.2" r="0.73" fill="rgb(69,184,101)"/><circle cx="208.1" cy="29.2" r="0.71" fill="rgb(74,197,108)"/><circle cx="168.9" cy="61.2" r="0.76" fill="rgb(64,171,94)"/><circle cx="131.8" cy="81.4" r="0.75" fill="rgb(63,168,92)"/><circle cx="215.4" cy="113.9" r="0.62" fill="rgb(63,166,91)"/><circle cx="230.2" cy="139.2" r="0.70" fill="rgb(54,143,78)"/><circle cx="248.7" cy="56.6" r="0.70" fill="rgb(58,155,85)"/><circle cx="127.6" cy="76.3" r="0.60" fill="rgb(53,140,77)"/><circle cx="168.8" cy="156.8" r="0.75" fill="rgb(64,171,94)"/><circle cx="221.1" cy="52.7" r="0.85" fill="rgb(63,166,91)"/><circle cx="181.5" cy="63.9" r="0.74" fill="rgb(61,163,89)"/><circle cx="254.4" cy="106.4" r="0.77" fill="rgb(69,183,100)"/><circle cx="264.3" cy="94.5" r="0.70" fill="rgb(55,146,80)"/><circle cx="124.3" cy="102.5" r="0.61" fill="rgb(53,142,78)"/><circle cx="172.6" cy="109.8" r="0.81" fill="rgb(55,146,80)"/><circle cx="161.1" cy="137.1" r="0.72" fill="rgb(65,173,95)"/><circle cx="230.5" cy="72.1" r="0.68" fill="rgb(61,161,88)"/><circle cx="130.8" cy="70.2" r="0.66" fill="rgb(60,158,86)"/><circle cx="152.1" cy="96.9" r="0.81" fill="rgb(59,157,86)"/><circle cx="176.8" cy="125.6" r="0.79" fill="rgb(64,171,94)"/><circle cx="175.2" cy="135.3" r="0.59" fill="rgb(60,159,87)"/><circle cx="218.2" cy="90.9" r="0.67" fill="rgb(53,142,78)"/><circle cx="150.4" cy="77.5" r="0.56" fill="rgb(66,176,96)"/><circle cx="194.1" cy="101.1" r="0.80" fill="rgb(57,152,83)"/><circle cx="130.3" cy="106.2" r="0.79" fill="rgb(54,143,78)"/><circle cx="246.2" cy="60.6" r="0.59" fill="rgb(68,179,98)"/><circle cx="166.9" cy="34.6" r="0.75" fill="rgb(74,196,107)"/><circle cx="210.5" cy="160.1" r="0.74" fill="rgb(64,169,92)"/><circle cx="224.5" cy="154.3" r="0.56" fill="rgb(74,195,107)"/><circle cx="170.2" cy="53.7" r="0.59" fill="rgb(72,192,105)"/><circle cx="172.7" cy="159.4" r="0.64" fill="rgb(74,195,107)"/><circle cx="158.2" cy="116.8" r="0.72" fill="rgb(63,167,91)"/><circle cx="132.0" cy="58.0" r="0.72" fill="rgb(64,171,94)"/><circle cx="221.4" cy="101.9" r="0.68" fill="rgb(72,191,105)"/><circle cx="179.8" cy="45.8" r="0.55" fill="rgb(54,144,79)"/><circle cx="151.6" cy="136.1" r="0.75" fill="rgb(76,200,110)"/><circle cx="233.4" cy="154.6" r="0.58" fill="rgb(66,175,96)"/><circle cx="174.5" cy="65.2" r="0.74" fill="rgb(56,149,81)"/><circle cx="189.4" cy="98.5" r="0.59" fill="rgb(69,182,100)"/><circle cx="218.1" cy="89.9" r="0.59" fill="rgb(74,195,107)"/><circle cx="156.7" cy="102.4" r="0.62" fill="rgb(66,176,96)"/><circle cx="192.6" cy="59.7" r="0.66" fill="rgb(54,143,78)"/><circle cx="194.9" cy="26.7" r="0.77" fill="rgb(56,149,81)"/><circle cx="248.0" cy="127.8" r="0.70" fill="rgb(70,185,101)"/><circle cx="161.3" cy="27.3" r="0.84" fill="rgb(75,198,108)"/><circle cx="257.0" cy="101.1" r="0.74" fill="rgb(72,192,105)"/><circle cx="163.4" cy="124.5" r="0.60" fill="rgb(67,178,97)"/><circle cx="230.0" cy="51.2" r="0.64" fill="rgb(54,143,78)"/><circle cx="257.5" cy="72.9" r="0.75" fill="rgb(64,170,93)"/><circle cx="237.6" cy="152.8" r="0.84" fill="rgb(61,163,89)"/><circle cx="231.0" cy="158.0" r="0.67" fill="rgb(64,170,93)"/><circle cx="208.3" cy="34.7" r="0.63" fill="rgb(60,158,86)"/><circle cx="151.8" cy="49.2" r="0.80" fill="rgb(72,191,105)"/><circle cx="166.8" cy="150.5" r="0.80" fill="rgb(53,140,77)"/><circle cx="162.0" cy="68.0" r="0.84" fill="rgb(63,167,91)"/><circle cx="197.2" cy="146.0" r="0.73" fill="rgb(62,164,90)"/><circle cx="195.4" cy="98.3" r="0.63" fill="rgb(59,156,85)"/><circle cx="236.1" cy="160.7" r="0.82" fill="rgb(71,188,103)"/><circle cx="262.9" cy="114.7" r="0.82" fill="rgb(72,191,105)"/><circle cx="225.1" cy="93.6" r="0.79" fill="rgb(73,194,106)"/><circle cx="132.0" cy="73.6" r="0.65" fill="rgb(64,171,94)"/><circle cx="244.7" cy="126.1" r="0.66" fill="rgb(72,191,105)"/><circle cx="211.2" cy="27.3" r="0.64" fill="rgb(58,154,84)"/><circle cx="240.7" cy="113.2" r="0.61" fill="rgb(70,185,101)"/><circle cx="194.0" cy="166.0" r="0.67" fill="rgb(72,190,104)"/><circle cx="142.1" cy="79.9" r="0.78" fill="rgb(61,162,89)"/><circle cx="202.2" cy="157.1" r="0.63" fill="rgb(74,197,108)"/><circle cx="217.5" cy="54.8" r="0.73" fill="rgb(65,172,94)"/><circle cx="208.4" cy="128.4" r="0.79" fill="rgb(57,151,83)"/><circle cx="181.7" cy="155.4" r="0.67" fill="rgb(61,162,89)"/><circle cx="166.8" cy="91.6" r="0.83" fill="rgb(53,142,78)"/><circle cx="125.3" cy="98.2" r="0.74" fill="rgb(61,163,89)"/><circle cx="203.0" cy="63.5" r="0.56" fill="rgb(67,178,97)"/><circle cx="184.7" cy="157.7" r="0.56" fill="rgb(55,146,80)"/><circle cx="266.6" cy="90.4" r="0.73" fill="rgb(64,171,94)"/><circle cx="212.6" cy="171.8" r="0.68" fill="rgb(59,157,86)"/><circle cx="258.8" cy="71.3" r="0.73" fill="rgb(72,192,105)"/><circle cx="243.5" cy="150.2" r="0.61" fill="rgb(61,161,88)"/><circle cx="205.3" cy="116.5" r="0.56" fill="rgb(54,143,78)"/><circle cx="152.4" cy="145.3" r="0.83" fill="rgb(64,171,94)"/><circle cx="212.3" cy="83.9" r="0.74" fill="rgb(67,178,97)"/><circle cx="252.4" cy="62.6" r="0.63" fill="rgb(55,145,79)"/><circle cx="140.1" cy="69.1" r="0.75" fill="rgb(75,198,108)"/><circle cx="156.2" cy="129.2" r="0.66" fill="rgb(57,150,82)"/><circle cx="202.0" cy="164.3" r="0.56" fill="rgb(57,151,83)"/><circle cx="194.3" cy="143.6" r="0.72" fill="rgb(74,197,108)"/><circle cx="267.8" cy="108.7" r="0.79" fill="rgb(59,156,85)"/><circle cx="180.7" cy="31.2" r="0.57" fill="rgb(64,170,93)"/><circle cx="236.5" cy="151.2" r="0.61" fill="rgb(76,200,110)"/><circle cx="195.3" cy="32.0" r="0.78" fill="rgb(63,168,92)"/><circle cx="230.1" cy="123.7" r="0.67" fill="rgb(59,156,85)"/><circle cx="162.9" cy="130.7" r="0.62" fill="rgb(63,168,92)"/><circle cx="234.9" cy="147.9" r="0.69" fill="rgb(53,140,77)"/><circle cx="253.9" cy="56.7" r="0.83" fill="rgb(57,150,82)"/><circle cx="228.5" cy="137.2" r="0.83" fill="rgb(55,146,80)"/><circle cx="187.6" cy="103.0" r="0.69" fill="rgb(54,144,79)"/><circle cx="159.1" cy="157.9" r="0.58" fill="rgb(64,170,93)"/><circle cx="166.8" cy="130.2" r="0.57" fill="rgb(71,187,102)"/><circle cx="183.2" cy="35.6" r="0.68" fill="rgb(56,149,81)"/><circle cx="225.0" cy="137.8" r="0.60" fill="rgb(58,155,85)"/><circle cx="180.2" cy="124.0" r="0.58" fill="rgb(64,171,94)"/><circle cx="145.2" cy="110.5" r="0.84" fill="rgb(56,149,81)"/><circle cx="263.4" cy="122.1" r="0.83" fill="rgb(69,182,100)"/><circle cx="131.4" cy="67.4" r="0.63" fill="rgb(55,147,80)"/><circle cx="209.7" cy="142.2" r="0.85" fill="rgb(59,156,85)"/><circle cx="217.2" cy="83.4" r="0.67" fill="rgb(60,158,86)"/><circle cx="232.3" cy="158.7" r="0.59" fill="rgb(60,158,86)"/><circle cx="163.7" cy="53.0" r="0.65" fill="rgb(65,172,94)"/><circle cx="198.1" cy="97.8" r="0.83" fill="rgb(73,193,106)"/><circle cx="185.7" cy="142.9" r="0.82" fill="rgb(53,142,78)"/><circle cx="207.4" cy="155.8" r="0.80" fill="rgb(56,148,81)"/><circle cx="159.9" cy="89.7" r="0.61" fill="rgb(57,151,83)"/><circle cx="215.7" cy="106.6" r="0.77" fill="rgb(67,178,97)"/><circle cx="198.3" cy="60.8" r="0.73" fill="rgb(56,148,81)"/><circle cx="178.0" cy="23.7" r="0.64" fill="rgb(67,177,97)"/><circle cx="259.1" cy="99.3" r="0.67" fill="rgb(65,173,95)"/><circle cx="212.4" cy="50.9" r="0.74" fill="rgb(73,193,106)"/><circle cx="217.5" cy="86.7" r="0.82" fill="rgb(63,166,91)"/><circle cx="125.8" cy="106.2" r="0.62" fill="rgb(59,157,86)"/><circle cx="126.4" cy="63.5" r="0.60" fill="rgb(53,142,78)"/><circle cx="155.6" cy="140.8" r="0.66" fill="rgb(53,140,77)"/><circle cx="236.9" cy="116.2" r="0.79" fill="rgb(58,155,85)"/><circle cx="224.6" cy="60.2" r="0.81" fill="rgb(70,185,101)"/><circle cx="132.1" cy="59.2" r="0.81" fill="rgb(60,158,86)"/><circle cx="247.2" cy="78.6" r="0.56" fill="rgb(65,172,94)"/><circle cx="205.4" cy="66.7" r="0.84" fill="rgb(58,155,85)"/><circle cx="201.3" cy="129.5" r="0.64" fill="rgb(55,146,80)"/><circle cx="126.2" cy="67.7" r="0.58" fill="rgb(53,141,77)"/><circle cx="185.4" cy="60.6" r="0.80" fill="rgb(53,141,77)"/><circle cx="162.2" cy="52.7" r="0.76" fill="rgb(58,155,85)"/><circle cx="252.6" cy="141.1" r="0.60" fill="rgb(70,185,101)"/><circle cx="188.5" cy="150.3" r="0.70" fill="rgb(67,177,97)"/><circle cx="191.1" cy="123.2" r="0.82" fill="rgb(62,165,90)"/><circle cx="161.0" cy="84.9" r="0.59" fill="rgb(58,154,84)"/><circle cx="137.1" cy="63.7" r="0.83" fill="rgb(57,150,82)"/><circle cx="256.2" cy="102.6" r="0.68" fill="rgb(69,184,101)"/><circle cx="225.4" cy="44.7" r="0.84" fill="rgb(62,165,90)"/><circle cx="239.4" cy="110.9" r="0.62" fill="rgb(62,165,90)"/><circle cx="170.4" cy="141.6" r="0.79" fill="rgb(66,176,96)"/><circle cx="254.6" cy="56.4" r="0.72" fill="rgb(73,194,106)"/><circle cx="182.8" cy="123.0" r="0.83" fill="rgb(69,183,100)"/><circle cx="196.2" cy="148.3" r="0.55" fill="rgb(68,180,99)"/><circle cx="221.5" cy="117.5" r="0.68" fill="rgb(60,160,88)"/><circle cx="185.0" cy="94.6" r="0.68" fill="rgb(56,148,81)"/><circle cx="180.3" cy="100.1" r="0.84" fill="rgb(74,196,107)"/><circle cx="264.5" cy="114.1" r="0.63" fill="rgb(68,179,98)"/><circle cx="178.7" cy="56.4" r="0.79" fill="rgb(66,174,95)"/><circle cx="219.5" cy="100.8" r="0.71" fill="rgb(55,147,80)"/><circle cx="186.2" cy="139.1" r="0.60" fill="rgb(68,181,99)"/><circle cx="265.1" cy="124.7" r="0.70" fill="rgb(75,198,108)"/><circle cx="190.0" cy="150.6" r="0.83" fill="rgb(66,174,95)"/><circle cx="145.5" cy="116.6" r="0.64" fill="rgb(74,196,107)"/><circle cx="162.0" cy="119.4" r="0.77" fill="rgb(58,155,85)"/><circle cx="193.5" cy="51.1" r="0.73" fill="rgb(64,169,92)"/><circle cx="140.6" cy="66.8" r="0.71" fill="rgb(57,152,83)"/><circle cx="147.9" cy="152.5" r="0.73" fill="rgb(60,159,87)"/><circle cx="154.5" cy="103.9" r="0.65" fill="rgb(58,155,85)"/><circle cx="217.1" cy="151.2" r="0.67" fill="rgb(67,177,97)"/><circle cx="223.2" cy="79.9" r="0.62" fill="rgb(76,200,110)"/><circle cx="146.1" cy="75.0" r="0.81" fill="rgb(60,158,86)"/><circle cx="199.8" cy="114.1" r="0.60" fill="rgb(53,141,77)"/><circle cx="260.8" cy="126.2" r="0.75" fill="rgb(63,168,92)"/><circle cx="127.0" cy="87.0" r="0.77" fill="rgb(61,162,89)"/><circle cx="223.9" cy="119.7" r="0.77" fill="rgb(69,183,100)"/><circle cx="220.9" cy="134.3" r="0.59" fill="rgb(61,162,89)"/><circle cx="213.5" cy="156.2" r="0.80" fill="rgb(59,157,86)"/><circle cx="131.1" cy="87.1" r="0.83" fill="rgb(71,187,102)"/><circle cx="235.4" cy="93.8" r="0.76" fill="rgb(68,180,99)"/><circle cx="219.3" cy="80.1" r="0.58" fill="rgb(74,195,107)"/><circle cx="148.3" cy="127.4" r="0.70" fill="rgb(55,147,80)"/><circle cx="251.9" cy="80.6" r="0.80" fill="rgb(63,166,91)"/><circle cx="185.0" cy="158.5" r="0.66" fill="rgb(55,147,80)"/><circle cx="146.9" cy="111.4" r="0.66" fill="rgb(70,186,102)"/><circle cx="162.8" cy="142.5" r="0.67" fill="rgb(67,178,97)"/><circle cx="166.5" cy="160.4" r="0.85" fill="rgb(73,194,106)"/><circle cx="165.5" cy="125.6" r="0.64" fill="rgb(66,174,95)"/><circle cx="231.3" cy="144.1" r="0.62" fill="rgb(67,177,97)"/><circle cx="215.0" cy="52.6" r="0.73" fill="rgb(73,193,106)"/><circle cx="198.0" cy="141.8" r="0.82" fill="rgb(63,167,91)"/><circle cx="207.7" cy="91.4" r="0.72" fill="rgb(59,156,85)"/><circle cx="123.1" cy="96.3" r="0.64" fill="rgb(71,189,103)"/><circle cx="159.4" cy="57.9" r="0.71" fill="rgb(72,192,105)"/><circle cx="177.2" cy="48.0" r="0.56" fill="rgb(61,162,89)"/><circle cx="173.1" cy="45.6" r="0.75" fill="rgb(53,140,77)"/><circle cx="172.4" cy="90.9" r="0.70" fill="rgb(61,163,89)"/><circle cx="152.4" cy="31.5" r="0.81" fill="rgb(56,149,81)"/><circle cx="247.7" cy="82.3" r="0.78" fill="rgb(63,168,92)"/><circle cx="242.9" cy="57.8" r="0.71" fill="rgb(69,184,101)"/><circle cx="208.6" cy="64.0" r="0.66" fill="rgb(60,160,88)"/><circle cx="233.7" cy="115.8" r="0.58" fill="rgb(57,151,83)"/><circle cx="245.8" cy="53.1" r="0.83" fill="rgb(72,192,105)"/><circle cx="121.2" cy="90.5" r="0.60" fill="rgb(68,180,99)"/><circle cx="182.5" cy="151.8" r="0.82" fill="rgb(65,172,94)"/><circle cx="180.1" cy="105.5" r="0.73" fill="rgb(66,176,96)"/><circle cx="138.7" cy="133.4" r="0.76" fill="rgb(60,159,87)"/><circle cx="127.2" cy="69.4" r="0.80" fill="rgb(62,165,90)"/><circle cx="142.8" cy="60.4" r="0.60" fill="rgb(57,152,83)"/><circle cx="202.8" cy="33.7" r="0.74" fill="rgb(74,195,107)"/><circle cx="121.6" cy="78.9" r="0.61" fill="rgb(66,176,96)"/><circle cx="172.7" cy="76.3" r="0.78" fill="rgb(65,173,95)"/><circle cx="214.8" cy="111.1" r="0.83" fill="rgb(57,150,82)"/><circle cx="144.1" cy="98.4" r="0.79" fill="rgb(63,167,91)"/><circle cx="203.9" cy="98.5" r="0.72" fill="rgb(71,189,103)"/><circle cx="218.9" cy="126.5" r="0.60" fill="rgb(59,157,86)"/><circle cx="193.5" cy="120.7" r="0.83" fill="rgb(74,197,108)"/><circle cx="226.7" cy="108.8" r="0.67" fill="rgb(68,179,98)"/><circle cx="263.5" cy="121.1" r="0.78" fill="rgb(67,177,97)"/><circle cx="213.1" cy="100.2" r="0.62" fill="rgb(58,155,85)"/><circle cx="266.5" cy="116.6" r="0.60" fill="rgb(73,194,106)"/><circle cx="266.7" cy="98.0" r="0.64" fill="rgb(64,169,92)"/><circle cx="136.5" cy="46.7" r="0.84" fill="rgb(64,171,94)"/><circle cx="253.0" cy="122.8" r="0.77" fill="rgb(69,183,100)"/><circle cx="203.6" cy="139.9" r="0.76" fill="rgb(74,196,107)"/><circle cx="266.1" cy="105.7" r="0.60" fill="rgb(55,145,79)"/><circle cx="175.3" cy="122.5" r="0.64" fill="rgb(74,196,107)"/><circle cx="172.1" cy="84.5" r="0.81" fill="rgb(66,174,95)"/><circle cx="164.5" cy="151.8" r="0.68" fill="rgb(55,147,80)"/><circle cx="244.3" cy="63.3" r="0.61" fill="rgb(62,164,90)"/><circle cx="188.2" cy="134.0" r="0.63" fill="rgb(53,142,78)"/><circle cx="263.3" cy="106.6" r="0.76" fill="rgb(58,155,85)"/><circle cx="229.0" cy="118.4" r="0.79" fill="rgb(73,193,106)"/><circle cx="147.1" cy="76.0" r="0.79" fill="rgb(72,190,104)"/><circle cx="220.4" cy="136.0" r="0.67" fill="rgb(70,186,102)"/><circle cx="156.2" cy="49.6" r="0.84" fill="rgb(60,159,87)"/><circle cx="159.8" cy="93.8" r="0.75" fill="rgb(63,168,92)"/><circle cx="154.5" cy="64.1" r="0.71" fill="rgb(61,163,89)"/><circle cx="151.3" cy="128.2" r="0.81" fill="rgb(56,148,81)"/><circle cx="235.0" cy="135.9" r="0.81" fill="rgb(66,174,95)"/></g>
<rect x="100.1" y="2.8" width="183.2" height="182.7" fill="none" stroke="#111" stroke-width="1" opacity="0.8"/>
</g>
<g clip-path="url(#ca2)">
<rect x="297.5" y="2" width="186" height="185" fill="url(#g2)"/>
<ellipse cx="462" cy="150" rx="40" ry="32" fill="#4c4c4c" filter="url(#bl12)"/>
<path d="M390.00,7.40 C396.90,7.05 410.17,6.23 420.00,8.00 C429.83,9.77 441.00,12.67 449.00,18.00 C457.00,23.33 463.17,32.17 468.00,40.00 C472.83,47.83 475.67,55.33 478.00,65.00 C480.33,74.67 482.33,91.15 482.00,98.00 C481.67,104.85 478.35,103.42 476.00,106.10 C473.65,108.78 470.60,110.97 467.90,114.10 C465.20,117.23 462.93,121.77 459.80,124.90 C456.67,128.03 452.90,130.88 449.10,132.90 C445.30,134.92 440.58,136.55 437.00,137.00 C433.42,137.45 430.52,134.72 427.60,135.60 C424.68,136.48 423.53,139.83 419.50,142.30 C415.47,144.77 408.32,147.93 403.40,150.40 C398.48,152.87 393.23,155.08 390.00,157.10 C386.77,159.12 385.45,160.25 384.00,162.50 C382.55,164.75 384.45,168.58 381.30,170.60 C378.15,172.62 371.15,174.38 365.10,174.60 C359.05,174.82 351.70,173.70 345.00,171.90 C338.30,170.10 330.50,167.83 324.90,163.80 C319.30,159.77 315.22,153.73 311.40,147.70 C307.58,141.67 303.78,137.55 302.00,127.60 C300.22,117.65 300.02,98.18 300.70,88.00 C301.38,77.82 303.87,72.55 306.10,66.50 C308.33,60.45 310.97,55.97 314.10,51.70 C317.23,47.43 320.87,44.48 324.90,40.90 C328.93,37.32 333.83,33.33 338.30,30.20 C342.77,27.07 346.78,24.78 351.70,22.10 C356.62,19.42 363.32,16.10 367.80,14.10 C372.28,12.10 374.90,11.22 378.60,10.10 C382.30,8.98 383.10,7.75 390.00,7.40 Z" fill="#4b4b4b"/>
<path d="M390.00,7.40 C396.90,7.05 410.17,6.23 420.00,8.00 C429.83,9.77 441.00,12.67 449.00,18.00 C457.00,23.33 463.17,32.17 468.00,40.00 C472.83,47.83 475.67,55.33 478.00,65.00 C480.33,74.67 482.33,91.15 482.00,98.00 C481.67,104.85 478.35,103.42 476.00,106.10 C473.65,108.78 470.60,110.97 467.90,114.10 C465.20,117.23 462.93,121.77 459.80,124.90 C456.67,128.03 452.90,130.88 449.10,132.90 C445.30,134.92 440.58,136.55 437.00,137.00 C433.42,137.45 430.52,134.72 427.60,135.60 C424.68,136.48 423.53,139.83 419.50,142.30 C415.47,144.77 408.32,147.93 403.40,150.40 C398.48,152.87 393.23,155.08 390.00,157.10 C386.77,159.12 385.45,160.25 384.00,162.50 C382.55,164.75 384.45,168.58 381.30,170.60 C378.15,172.62 371.15,174.38 365.10,174.60 C359.05,174.82 351.70,173.70 345.00,171.90 C338.30,170.10 330.50,167.83 324.90,163.80 C319.30,159.77 315.22,153.73 311.40,147.70 C307.58,141.67 303.78,137.55 302.00,127.60 C300.22,117.65 300.02,98.18 300.70,88.00 C301.38,77.82 303.87,72.55 306.10,66.50 C308.33,60.45 310.97,55.97 314.10,51.70 C317.23,47.43 320.87,44.48 324.90,40.90 C328.93,37.32 333.83,33.33 338.30,30.20 C342.77,27.07 346.78,24.78 351.70,22.10 C356.62,19.42 363.32,16.10 367.80,14.10 C372.28,12.10 374.90,11.22 378.60,10.10 C382.30,8.98 383.10,7.75 390.00,7.40 Z" fill="none" stroke="#5a5a5a" stroke-width="0.9" opacity="0.7"/>
<path d="M483,153 Q467,172 452,188 L484,188 Z" fill="#050505"/>
<rect x="297.5" y="2" width="186" height="185" filter="url(#noise)" opacity="0.3"/>
<rect x="297.5" y="2" width="186" height="185" filter="url(#noiseL)" opacity="0.12"/>
<ellipse cx="385" cy="87" rx="52" ry="32" transform="rotate(-34 385 87)" fill="#1c1c1c" filter="url(#bl3)"/>
<ellipse cx="385" cy="87" rx="45" ry="25" transform="rotate(-34 385 87)" fill="#151515" filter="url(#bl2)"/>
<path d="M347.6,113.6 L357.5,96.7 L365.7,86.2 L373.9,79.2 L375,75.7 L379.7,69.9 L386.7,65.8 L393.7,64 L399.6,65.2 L402,64 L408.9,60.5 L407.7,73.4 L403.6,78 L403.6,80.4 L403,87.4 L399.6,94.4 L392.6,96.7 L386.7,99.1 L378.5,104.9 L369.2,109.6 L357.5,112.5 Z" fill="#6c6c6c"/>
<path d="M382,60 L384,55 L388,54.7 L387,59 Z" fill="#666"/>
<path d="M312,28 q6,-8 12,-4 q5,4 10,-2 M330,26 q8,12 12,26 M300,150 q12,8 24,12 M405,140 q5,-4 8,2 M346,145 q4,4 8,0" stroke="#141414" stroke-width="1.3" fill="none" opacity="0.85"/>
<circle cx="463" cy="48" r="11" fill="none" stroke="#1e1e1e" stroke-width="0.9" opacity="0.8"/>
<g opacity="0.80"><circle cx="383.9" cy="17.0" r="0.75" fill="rgb(53,141,77)"/><circle cx="344.3" cy="71.5" r="0.76" fill="rgb(62,164,90)"/><circle cx="363.4" cy="20.6" r="0.65" fill="rgb(58,154,84)"/><circle cx="375.2" cy="67.1" r="0.82" fill="rgb(66,175,96)"/><circle cx="418.2" cy="21.4" r="0.57" fill="rgb(57,152,83)"/><circle cx="374.6" cy="128.5" r="0.80" fill="rgb(56,148,81)"/><circle cx="346.8" cy="121.1" r="0.82" fill="rgb(73,194,106)"/><circle cx="404.5" cy="12.1" r="0.81" fill="rgb(74,195,107)"/><circle cx="426.6" cy="77.2" r="0.75" fill="rgb(61,163,89)"/><circle cx="362.8" cy="47.9" r="0.56" fill="rgb(63,166,91)"/><circle cx="373.1" cy="35.6" r="0.67" fill="rgb(73,194,106)"/><circle cx="414.9" cy="76.2" r="0.58" fill="rgb(60,158,86)"/><circle cx="458.3" cy="53.0" r="0.75" fill="rgb(70,185,101)"/><circle cx="331.7" cy="128.4" r="0.61" fill="rgb(63,167,91)"/><circle cx="372.4" cy="140.6" r="0.72" fill="rgb(53,142,78)"/><circle cx="350.7" cy="75.0" r="0.76" fill="rgb(64,171,94)"/><circle cx="389.2" cy="147.0" r="0.72" fill="rgb(69,183,100)"/><circle cx="419.3" cy="79.8" r="0.78" fill="rgb(71,188,103)"/><circle cx="386.7" cy="108.2" r="0.73" fill="rgb(73,194,106)"/><circle cx="357.1" cy="159.1" r="0.77" fill="rgb(61,162,89)"/><circle cx="328.6" cy="136.5" r="0.62" fill="rgb(73,193,106)"/><circle cx="337.4" cy="82.4" r="0.68" fill="rgb(76,200,110)"/><circle cx="460.3" cy="61.0" r="0.76" fill="rgb(71,187,102)"/><circle cx="429.6" cy="34.0" r="0.57" fill="rgb(65,172,94)"/><circle cx="371.8" cy="38.3" r="0.80" fill="rgb(65,172,94)"/><circle cx="402.4" cy="32.5" r="0.56" fill="rgb(57,152,83)"/><circle cx="366.8" cy="18.0" r="0.60" fill="rgb(59,156,85)"/><circle cx="395.1" cy="134.2" r="0.60" fill="rgb(54,143,78)"/><circle cx="374.9" cy="112.2" r="0.64" fill="rgb(68,180,99)"/><circle cx="369.5" cy="54.6" r="0.55" fill="rgb(58,155,85)"/><circle cx="378.9" cy="62.1" r="0.66" fill="rgb(68,181,99)"/><circle cx="364.6" cy="167.1" r="0.73" fill="rgb(56,149,81)"/><circle cx="435.2" cy="128.4" r="0.60" fill="rgb(76,200,110)"/><circle cx="355.4" cy="34.1" r="0.80" fill="rgb(64,169,92)"/><circle cx="356.3" cy="112.5" r="0.64" fill="rgb(69,184,101)"/><circle cx="364.3" cy="120.7" r="0.82" fill="rgb(54,143,78)"/><circle cx="380.8" cy="117.7" r="0.68" fill="rgb(60,159,87)"/><circle cx="430.7" cy="122.6" r="0.72" fill="rgb(64,169,92)"/><circle cx="374.1" cy="152.5" r="0.55" fill="rgb(53,142,78)"/><circle cx="470.6" cy="87.4" r="0.77" fill="rgb(55,145,79)"/><circle cx="352.2" cy="154.6" r="0.58" fill="rgb(59,156,85)"/><circle cx="330.5" cy="94.9" r="0.79" fill="rgb(57,152,83)"/><circle cx="367.0" cy="136.9" r="0.74" fill="rgb(55,145,79)"/><circle cx="364.5" cy="56.1" r="0.57" fill="rgb(58,155,85)"/><circle cx="363.3" cy="110.8" r="0.61" fill="rgb(61,163,89)"/><circle cx="424.8" cy="75.5" r="0.77" fill="rgb(72,190,104)"/><circle cx="364.3" cy="153.0" r="0.61" fill="rgb(62,164,90)"/><circle cx="414.7" cy="48.2" r="0.59" fill="rgb(61,163,89)"/><circle cx="464.7" cy="53.4" r="0.62" fill="rgb(59,156,85)"/><circle cx="458.0" cy="107.4" r="0.83" fill="rgb(68,180,99)"/><circle cx="449.4" cy="91.0" r="0.83" fill="rgb(54,143,78)"/><circle cx="326.0" cy="93.1" r="0.85" fill="rgb(57,150,82)"/><circle cx="332.8" cy="50.6" r="0.76" fill="rgb(56,149,81)"/><circle cx="422.6" cy="139.5" r="0.58" fill="rgb(62,165,90)"/><circle cx="450.1" cy="105.0" r="0.62" fill="rgb(57,152,83)"/><circle cx="326.5" cy="41.3" r="0.68" fill="rgb(65,172,94)"/><circle cx="375.5" cy="158.6" r="0.76" fill="rgb(65,172,94)"/><circle cx="480.8" cy="95.6" r="0.82" fill="rgb(57,151,83)"/><circle cx="416.6" cy="130.7" r="0.79" fill="rgb(63,168,92)"/><circle cx="359.6" cy="33.9" r="0.58" fill="rgb(64,170,93)"/><circle cx="363.1" cy="142.6" r="0.82" fill="rgb(66,174,95)"/><circle cx="451.2" cy="28.2" r="0.74" fill="rgb(67,178,97)"/><circle cx="359.0" cy="31.6" r="0.72" fill="rgb(60,159,87)"/><circle cx="341.9" cy="115.5" r="0.74" fill="rgb(69,182,100)"/><circle cx="374.6" cy="138.4" r="0.74" fill="rgb(74,196,107)"/><circle cx="416.1" cy="58.3" r="0.68" fill="rgb(71,187,102)"/><circle cx="455.3" cy="126.2" r="0.72" fill="rgb(61,163,89)"/><circle cx="442.7" cy="73.2" r="0.72" fill="rgb(58,155,85)"/><circle cx="361.6" cy="82.5" r="0.80" fill="rgb(74,195,107)"/><circle cx="367.5" cy="61.3" r="0.63" fill="rgb(69,182,100)"/><circle cx="322.7" cy="95.3" r="0.71" fill="rgb(58,154,84)"/><circle cx="365.1" cy="22.1" r="0.73" fill="rgb(75,198,108)"/><circle cx="442.5" cy="117.2" r="0.79" fill="rgb(54,144,79)"/><circle cx="434.4" cy="136.0" r="0.76" fill="rgb(65,172,94)"/><circle cx="392.3" cy="62.3" r="0.70" fill="rgb(70,186,102)"/><circle cx="317.2" cy="108.5" r="0.60" fill="rgb(66,174,95)"/><circle cx="457.9" cy="75.2" r="0.58" fill="rgb(71,189,103)"/><circle cx="340.4" cy="138.8" r="0.62" fill="rgb(62,165,90)"/><circle cx="355.8" cy="69.1" r="0.59" fill="rgb(60,159,87)"/><circle cx="400.3" cy="118.5" r="0.81" fill="rgb(70,186,102)"/><circle cx="347.3" cy="153.4" r="0.55" fill="rgb(69,183,100)"/><circle cx="389.4" cy="132.6" r="0.77" fill="rgb(65,172,94)"/><circle cx="465.0" cy="67.8" r="0.79" fill="rgb(53,142,78)"/><circle cx="357.8" cy="131.4" r="0.79" fill="rgb(60,160,88)"/><circle cx="370.0" cy="52.8" r="0.76" fill="rgb(57,152,83)"/><circle cx="314.9" cy="118.9" r="0.58" fill="rgb(64,171,94)"/><circle cx="403.4" cy="56.3" r="0.83" fill="rgb(66,175,96)"/><circle cx="443.8" cy="41.4" r="0.59" fill="rgb(73,193,106)"/><circle cx="438.9" cy="47.0" r="0.78" fill="rgb(69,184,101)"/><circle cx="383.8" cy="147.3" r="0.65" fill="rgb(53,141,77)"/><circle cx="448.5" cy="36.6" r="0.57" fill="rgb(53,142,78)"/><circle cx="337.3" cy="44.1" r="0.67" fill="rgb(67,178,97)"/><circle cx="354.8" cy="96.1" r="0.68" fill="rgb(73,194,106)"/><circle cx="336.0" cy="85.6" r="0.61" fill="rgb(65,173,95)"/><circle cx="446.5" cy="50.7" r="0.61" fill="rgb(53,142,78)"/><circle cx="424.0" cy="25.3" r="0.72" fill="rgb(61,161,88)"/><circle cx="349.3" cy="123.7" r="0.65" fill="rgb(53,140,77)"/><circle cx="347.4" cy="95.2" r="0.69" fill="rgb(58,155,85)"/><circle cx="410.5" cy="89.5" r="0.77" fill="rgb(56,149,81)"/><circle cx="426.3" cy="132.4" r="0.70" fill="rgb(54,144,79)"/><circle cx="385.7" cy="154.9" r="0.73" fill="rgb(65,173,95)"/><circle cx="466.3" cy="49.9" r="0.81" fill="rgb(55,146,80)"/><circle cx="402.1" cy="24.2" r="0.58" fill="rgb(68,180,99)"/><circle cx="412.3" cy="17.9" r="0.81" fill="rgb(58,155,85)"/><circle cx="461.4" cy="64.6" r="0.84" fill="rgb(60,159,87)"/><circle cx="360.9" cy="134.0" r="0.74" fill="rgb(73,194,106)"/><circle cx="350.7" cy="141.9" r="0.65" fill="rgb(62,165,90)"/><circle cx="369.6" cy="24.2" r="0.85" fill="rgb(74,196,107)"/><circle cx="335.6" cy="97.0" r="0.79" fill="rgb(58,155,85)"/><circle cx="426.7" cy="90.3" r="0.55" fill="rgb(58,153,84)"/><circle cx="433.7" cy="49.5" r="0.67" fill="rgb(63,168,92)"/><circle cx="403.4" cy="9.9" r="0.57" fill="rgb(67,177,97)"/><circle cx="374.8" cy="135.8" r="0.72" fill="rgb(70,186,102)"/><circle cx="426.9" cy="107.5" r="0.57" fill="rgb(75,199,109)"/><circle cx="445.8" cy="87.0" r="0.76" fill="rgb(71,189,103)"/><circle cx="418.5" cy="50.2" r="0.63" fill="rgb(57,151,83)"/><circle cx="415.4" cy="128.8" r="0.56" fill="rgb(70,185,101)"/><circle cx="449.8" cy="107.8" r="0.73" fill="rgb(74,197,108)"/><circle cx="439.7" cy="39.4" r="0.62" fill="rgb(57,152,83)"/><circle cx="422.0" cy="101.7" r="0.57" fill="rgb(54,143,78)"/><circle cx="422.4" cy="17.0" r="0.77" fill="rgb(61,161,88)"/><circle cx="438.8" cy="92.4" r="0.81" fill="rgb(68,181,99)"/><circle cx="403.4" cy="138.2" r="0.56" fill="rgb(71,187,102)"/><circle cx="319.4" cy="96.7" r="0.65" fill="rgb(72,191,105)"/><circle cx="446.4" cy="110.3" r="0.58" fill="rgb(53,142,78)"/><circle cx="329.5" cy="42.3" r="0.67" fill="rgb(67,178,97)"/><circle cx="471.0" cy="61.9" r="0.83" fill="rgb(53,141,77)"/><circle cx="458.7" cy="114.0" r="0.80" fill="rgb(70,186,102)"/><circle cx="397.9" cy="100.7" r="0.59" fill="rgb(58,153,84)"/><circle cx="414.4" cy="40.1" r="0.75" fill="rgb(66,174,95)"/><circle cx="415.0" cy="66.2" r="0.72" fill="rgb(67,178,97)"/><circle cx="415.7" cy="36.9" r="0.78" fill="rgb(53,142,78)"/><circle cx="361.6" cy="160.6" r="0.69" fill="rgb(70,185,101)"/><circle cx="379.2" cy="151.5" r="0.63" fill="rgb(76,200,110)"/><circle cx="389.7" cy="154.5" r="0.75" fill="rgb(55,146,80)"/><circle cx="399.4" cy="40.4" r="0.62" fill="rgb(68,180,99)"/><circle cx="424.2" cy="96.4" r="0.71" fill="rgb(54,143,78)"/><circle cx="386.9" cy="157.1" r="0.59" fill="rgb(71,187,102)"/><circle cx="423.6" cy="74.8" r="0.66" fill="rgb(53,141,77)"/><circle cx="375.7" cy="36.3" r="0.70" fill="rgb(74,195,107)"/><circle cx="355.6" cy="53.4" r="0.67" fill="rgb(72,191,105)"/><circle cx="464.7" cy="102.4" r="0.57" fill="rgb(53,140,77)"/><circle cx="355.4" cy="48.3" r="0.66" fill="rgb(74,195,107)"/><circle cx="398.7" cy="142.6" r="0.83" fill="rgb(75,198,108)"/><circle cx="459.5" cy="68.2" r="0.56" fill="rgb(58,154,84)"/><circle cx="467.8" cy="100.3" r="0.62" fill="rgb(58,155,85)"/><circle cx="359.6" cy="54.7" r="0.61" fill="rgb(64,171,94)"/><circle cx="358.0" cy="76.8" r="0.83" fill="rgb(74,195,107)"/><circle cx="401.8" cy="8.6" r="0.80" fill="rgb(56,148,81)"/><circle cx="380.2" cy="138.9" r="0.81" fill="rgb(64,171,94)"/><circle cx="391.1" cy="139.1" r="0.73" fill="rgb(68,179,98)"/><circle cx="324.0" cy="109.8" r="0.78" fill="rgb(74,196,107)"/><circle cx="437.9" cy="32.4" r="0.78" fill="rgb(53,142,78)"/><circle cx="416.7" cy="63.5" r="0.59" fill="rgb(74,195,107)"/><circle cx="461.1" cy="63.5" r="0.58" fill="rgb(72,191,105)"/><circle cx="421.4" cy="73.6" r="0.66" fill="rgb(71,187,102)"/><circle cx="391.5" cy="33.1" r="0.58" fill="rgb(62,165,90)"/><circle cx="344.0" cy="159.9" r="0.67" fill="rgb(70,185,101)"/><circle cx="346.4" cy="160.0" r="0.62" fill="rgb(67,177,97)"/><circle cx="411.0" cy="22.9" r="0.59" fill="rgb(53,142,78)"/><circle cx="333.4" cy="54.7" r="0.58" fill="rgb(69,184,101)"/><circle cx="356.0" cy="163.8" r="0.84" fill="rgb(55,147,80)"/><circle cx="456.6" cy="79.7" r="0.60" fill="rgb(53,140,77)"/><circle cx="377.0" cy="61.0" r="0.71" fill="rgb(71,187,102)"/><circle cx="457.9" cy="88.4" r="0.70" fill="rgb(73,193,106)"/><circle cx="438.4" cy="66.4" r="0.81" fill="rgb(58,153,84)"/><circle cx="433.9" cy="84.0" r="0.63" fill="rgb(54,144,79)"/><circle cx="411.9" cy="130.2" r="0.84" fill="rgb(54,144,79)"/><circle cx="397.6" cy="108.6" r="0.72" fill="rgb(72,190,104)"/><circle cx="362.8" cy="27.4" r="0.63" fill="rgb(66,174,95)"/><circle cx="362.4" cy="138.6" r="0.77" fill="rgb(74,195,107)"/><circle cx="384.0" cy="145.8" r="0.68" fill="rgb(66,174,95)"/><circle cx="447.4" cy="82.1" r="0.81" fill="rgb(62,164,90)"/><circle cx="419.9" cy="15.0" r="0.55" fill="rgb(68,180,99)"/><circle cx="388.9" cy="157.4" r="0.85" fill="rgb(62,164,90)"/><circle cx="425.3" cy="29.4" r="0.80" fill="rgb(55,145,79)"/><circle cx="409.6" cy="11.8" r="0.67" fill="rgb(54,143,78)"/><circle cx="320.0" cy="65.7" r="0.71" fill="rgb(63,168,92)"/><circle cx="354.7" cy="167.8" r="0.69" fill="rgb(53,140,77)"/><circle cx="353.1" cy="44.4" r="0.73" fill="rgb(61,161,88)"/><circle cx="435.5" cy="89.6" r="0.79" fill="rgb(68,180,99)"/><circle cx="428.4" cy="53.9" r="0.67" fill="rgb(54,144,79)"/><circle cx="320.0" cy="80.1" r="0.80" fill="rgb(69,183,100)"/><circle cx="395.5" cy="47.7" r="0.69" fill="rgb(73,193,106)"/><circle cx="379.2" cy="30.6" r="0.72" fill="rgb(64,170,93)"/><circle cx="414.6" cy="90.9" r="0.71" fill="rgb(71,188,103)"/><circle cx="324.9" cy="81.8" r="0.66" fill="rgb(72,192,105)"/><circle cx="374.4" cy="61.6" r="0.69" fill="rgb(69,182,100)"/><circle cx="337.9" cy="31.3" r="0.75" fill="rgb(74,197,108)"/><circle cx="435.2" cy="65.3" r="0.80" fill="rgb(61,163,89)"/><circle cx="417.2" cy="126.1" r="0.66" fill="rgb(55,146,80)"/><circle cx="356.4" cy="38.5" r="0.69" fill="rgb(60,159,87)"/><circle cx="440.2" cy="119.1" r="0.76" fill="rgb(63,168,92)"/><circle cx="330.6" cy="109.4" r="0.60" fill="rgb(72,191,105)"/><circle cx="434.9" cy="134.5" r="0.62" fill="rgb(69,182,100)"/><circle cx="354.1" cy="127.0" r="0.63" fill="rgb(62,164,90)"/><circle cx="386.7" cy="156.2" r="0.77" fill="rgb(60,159,87)"/><circle cx="382.9" cy="138.8" r="0.63" fill="rgb(58,155,85)"/><circle cx="329.3" cy="114.4" r="0.81" fill="rgb(64,171,94)"/><circle cx="408.9" cy="143.8" r="0.64" fill="rgb(72,190,104)"/><circle cx="408.1" cy="11.0" r="0.68" fill="rgb(70,185,101)"/><circle cx="338.9" cy="144.2" r="0.84" fill="rgb(60,158,86)"/><circle cx="325.9" cy="118.8" r="0.66" fill="rgb(59,156,85)"/><circle cx="338.4" cy="133.7" r="0.74" fill="rgb(75,199,109)"/><circle cx="475.1" cy="80.0" r="0.66" fill="rgb(67,177,97)"/><circle cx="364.3" cy="48.9" r="0.57" fill="rgb(54,144,79)"/><circle cx="336.7" cy="108.9" r="0.70" fill="rgb(63,166,91)"/><circle cx="456.1" cy="48.0" r="0.58" fill="rgb(53,141,77)"/><circle cx="372.6" cy="37.5" r="0.60" fill="rgb(64,170,93)"/><circle cx="444.2" cy="112.3" r="0.70" fill="rgb(56,148,81)"/><circle cx="425.1" cy="28.9" r="0.61" fill="rgb(71,187,102)"/><circle cx="305.5" cy="69.8" r="0.72" fill="rgb(60,158,86)"/><circle cx="400.7" cy="17.0" r="0.58" fill="rgb(55,147,80)"/><circle cx="431.1" cy="38.5" r="0.58" fill="rgb(53,140,77)"/><circle cx="358.4" cy="26.0" r="0.81" fill="rgb(64,170,93)"/><circle cx="315.4" cy="68.1" r="0.73" fill="rgb(73,193,106)"/><circle cx="474.1" cy="90.1" r="0.74" fill="rgb(74,195,107)"/><circle cx="373.8" cy="124.5" r="0.61" fill="rgb(53,140,77)"/><circle cx="326.6" cy="76.2" r="0.64" fill="rgb(55,145,79)"/><circle cx="329.2" cy="70.2" r="0.75" fill="rgb(63,166,91)"/><circle cx="375.0" cy="130.7" r="0.79" fill="rgb(62,164,90)"/><circle cx="420.0" cy="57.2" r="0.59" fill="rgb(57,152,83)"/><circle cx="458.9" cy="62.6" r="0.73" fill="rgb(70,185,101)"/><circle cx="336.3" cy="147.8" r="0.69" fill="rgb(57,152,83)"/><circle cx="371.0" cy="24.3" r="0.64" fill="rgb(70,186,102)"/><circle cx="333.4" cy="79.8" r="0.80" fill="rgb(66,176,96)"/><circle cx="433.1" cy="99.8" r="0.64" fill="rgb(63,168,92)"/><circle cx="370.8" cy="17.2" r="0.73" fill="rgb(67,177,97)"/><circle cx="325.8" cy="131.4" r="0.81" fill="rgb(58,153,84)"/><circle cx="447.6" cy="110.9" r="0.59" fill="rgb(68,180,99)"/><circle cx="416.5" cy="35.9" r="0.83" fill="rgb(53,140,77)"/><circle cx="314.7" cy="62.5" r="0.62" fill="rgb(64,171,94)"/><circle cx="376.3" cy="18.7" r="0.61" fill="rgb(72,191,105)"/><circle cx="409.5" cy="63.4" r="0.76" fill="rgb(75,198,108)"/><circle cx="328.5" cy="85.1" r="0.79" fill="rgb(57,152,83)"/><circle cx="447.4" cy="74.4" r="0.80" fill="rgb(69,182,100)"/><circle cx="374.4" cy="36.6" r="0.60" fill="rgb(63,167,91)"/><circle cx="462.9" cy="115.7" r="0.60" fill="rgb(53,142,78)"/><circle cx="315.4" cy="115.5" r="0.72" fill="rgb(74,195,107)"/><circle cx="362.2" cy="148.8" r="0.64" fill="rgb(56,149,81)"/><circle cx="387.6" cy="153.9" r="0.60" fill="rgb(58,153,84)"/><circle cx="418.8" cy="10.9" r="0.84" fill="rgb(62,165,90)"/><circle cx="374.0" cy="120.7" r="0.62" fill="rgb(60,158,86)"/><circle cx="314.4" cy="107.1" r="0.65" fill="rgb(63,167,91)"/><circle cx="346.5" cy="146.3" r="0.85" fill="rgb(58,153,84)"/><circle cx="453.0" cy="68.1" r="0.70" fill="rgb(60,158,86)"/><circle cx="471.8" cy="99.4" r="0.83" fill="rgb(74,196,107)"/><circle cx="444.4" cy="123.6" r="0.64" fill="rgb(74,195,107)"/><circle cx="321.9" cy="53.8" r="0.59" fill="rgb(57,152,83)"/><circle cx="379.5" cy="170.6" r="0.82" fill="rgb(73,194,106)"/><circle cx="346.7" cy="68.9" r="0.73" fill="rgb(67,177,97)"/><circle cx="443.9" cy="80.8" r="0.60" fill="rgb(76,200,110)"/><circle cx="379.2" cy="124.5" r="0.68" fill="rgb(61,162,89)"/><circle cx="383.8" cy="112.4" r="0.69" fill="rgb(66,175,96)"/><circle cx="390.4" cy="62.4" r="0.73" fill="rgb(57,150,82)"/><circle cx="370.8" cy="66.4" r="0.80" fill="rgb(66,176,96)"/><circle cx="385.5" cy="40.3" r="0.83" fill="rgb(69,182,100)"/><circle cx="349.6" cy="159.0" r="0.80" fill="rgb(74,195,107)"/><circle cx="375.5" cy="132.0" r="0.81" fill="rgb(55,146,80)"/><circle cx="439.0" cy="131.2" r="0.71" fill="rgb(66,174,95)"/><circle cx="370.5" cy="128.6" r="0.71" fill="rgb(66,176,96)"/><circle cx="335.3" cy="88.8" r="0.64" fill="rgb(57,152,83)"/><circle cx="456.8" cy="51.6" r="0.70" fill="rgb(66,174,95)"/><circle cx="451.3" cy="70.3" r="0.76" fill="rgb(72,190,104)"/><circle cx="423.5" cy="109.3" r="0.63" fill="rgb(73,193,106)"/><circle cx="447.6" cy="101.3" r="0.58" fill="rgb(65,173,95)"/><circle cx="362.1" cy="78.5" r="0.72" fill="rgb(69,182,100)"/><circle cx="407.5" cy="21.0" r="0.80" fill="rgb(54,143,78)"/><circle cx="438.9" cy="112.9" r="0.56" fill="rgb(55,146,80)"/><circle cx="334.6" cy="43.2" r="0.64" fill="rgb(72,192,105)"/><circle cx="358.0" cy="71.2" r="0.83" fill="rgb(60,160,88)"/><circle cx="341.1" cy="119.5" r="0.79" fill="rgb(55,145,79)"/><circle cx="396.3" cy="52.9" r="0.62" fill="rgb(75,199,109)"/><circle cx="346.7" cy="164.3" r="0.79" fill="rgb(53,140,77)"/><circle cx="326.6" cy="98.6" r="0.65" fill="rgb(71,189,103)"/><circle cx="455.9" cy="118.8" r="0.61" fill="rgb(54,144,79)"/><circle cx="380.0" cy="41.8" r="0.79" fill="rgb(57,150,82)"/><circle cx="310.2" cy="94.5" r="0.59" fill="rgb(64,171,94)"/><circle cx="433.1" cy="18.5" r="0.57" fill="rgb(74,197,108)"/><circle cx="311.1" cy="106.9" r="0.73" fill="rgb(69,183,100)"/><circle cx="314.2" cy="121.5" r="0.83" fill="rgb(72,190,104)"/><circle cx="311.7" cy="85.0" r="0.71" fill="rgb(67,177,97)"/><circle cx="420.5" cy="81.4" r="0.79" fill="rgb(72,190,104)"/><circle cx="395.6" cy="128.6" r="0.72" fill="rgb(64,169,92)"/><circle cx="441.1" cy="46.2" r="0.76" fill="rgb(75,199,109)"/><circle cx="376.8" cy="39.4" r="0.67" fill="rgb(72,190,104)"/><circle cx="334.4" cy="37.5" r="0.80" fill="rgb(61,161,88)"/><circle cx="353.1" cy="146.4" r="0.68" fill="rgb(73,193,106)"/><circle cx="374.0" cy="134.9" r="0.55" fill="rgb(67,178,97)"/><circle cx="328.6" cy="123.3" r="0.59" fill="rgb(64,169,92)"/><circle cx="341.7" cy="126.9" r="0.64" fill="rgb(53,142,78)"/><circle cx="431.8" cy="114.2" r="0.82" fill="rgb(69,184,101)"/><circle cx="334.6" cy="125.3" r="0.59" fill="rgb(58,155,85)"/><circle cx="408.5" cy="58.3" r="0.65" fill="rgb(59,157,86)"/><circle cx="413.0" cy="119.3" r="0.82" fill="rgb(61,162,89)"/><circle cx="339.8" cy="128.0" r="0.70" fill="rgb(74,196,107)"/><circle cx="430.9" cy="88.3" r="0.84" fill="rgb(73,193,106)"/><circle cx="392.8" cy="154.9" r="0.63" fill="rgb(69,182,100)"/><circle cx="373.5" cy="112.6" r="0.77" fill="rgb(66,175,96)"/><circle cx="392.5" cy="21.6" r="0.83" fill="rgb(56,148,81)"/><circle cx="450.0" cy="48.1" r="0.70" fill="rgb(54,144,79)"/><circle cx="367.8" cy="129.3" r="0.66" fill="rgb(60,158,86)"/><circle cx="352.3" cy="33.7" r="0.83" fill="rgb(62,164,90)"/><circle cx="354.5" cy="41.7" r="0.84" fill="rgb(69,184,101)"/><circle cx="363.1" cy="33.0" r="0.64" fill="rgb(63,168,92)"/><circle cx="355.2" cy="88.4" r="0.77" fill="rgb(67,178,97)"/><circle cx="442.2" cy="101.6" r="0.55" fill="rgb(56,148,81)"/><circle cx="435.2" cy="73.8" r="0.73" fill="rgb(57,152,83)"/><circle cx="329.0" cy="137.0" r="0.84" fill="rgb(68,181,99)"/><circle cx="359.5" cy="61.0" r="0.71" fill="rgb(71,189,103)"/><circle cx="311.1" cy="131.2" r="0.58" fill="rgb(68,181,99)"/><circle cx="461.0" cy="70.0" r="0.84" fill="rgb(64,171,94)"/><circle cx="371.8" cy="22.6" r="0.65" fill="rgb(59,157,86)"/><circle cx="423.4" cy="39.2" r="0.79" fill="rgb(54,143,78)"/><circle cx="371.3" cy="117.0" r="0.79" fill="rgb(65,173,95)"/><circle cx="438.3" cy="108.8" r="0.60" fill="rgb(65,173,95)"/><circle cx="382.9" cy="109.2" r="0.84" fill="rgb(60,159,87)"/><circle cx="400.3" cy="40.7" r="0.61" fill="rgb(69,184,101)"/><circle cx="358.4" cy="167.9" r="0.74" fill="rgb(57,152,83)"/><circle cx="443.5" cy="67.4" r="0.63" fill="rgb(69,183,100)"/><circle cx="346.1" cy="123.6" r="0.63" fill="rgb(64,170,93)"/><circle cx="310.9" cy="114.9" r="0.60" fill="rgb(68,180,99)"/><circle cx="378.8" cy="152.2" r="0.72" fill="rgb(69,182,100)"/><circle cx="352.8" cy="26.2" r="0.67" fill="rgb(59,157,86)"/><circle cx="379.2" cy="38.7" r="0.64" fill="rgb(72,191,105)"/><circle cx="358.9" cy="59.4" r="0.55" fill="rgb(71,189,103)"/><circle cx="315.7" cy="76.7" r="0.66" fill="rgb(60,159,87)"/><circle cx="435.1" cy="74.9" r="0.82" fill="rgb(58,155,85)"/><circle cx="324.1" cy="44.5" r="0.79" fill="rgb(73,193,106)"/><circle cx="430.0" cy="121.3" r="0.60" fill="rgb(68,181,99)"/><circle cx="377.6" cy="18.8" r="0.78" fill="rgb(55,147,80)"/><circle cx="320.7" cy="141.7" r="0.80" fill="rgb(71,187,102)"/><circle cx="338.4" cy="126.3" r="0.65" fill="rgb(61,161,88)"/><circle cx="325.9" cy="78.8" r="0.83" fill="rgb(69,182,100)"/><circle cx="380.8" cy="129.1" r="0.57" fill="rgb(69,183,100)"/><circle cx="335.3" cy="122.2" r="0.72" fill="rgb(73,194,106)"/><circle cx="396.5" cy="146.7" r="0.72" fill="rgb(58,153,84)"/><circle cx="378.4" cy="168.3" r="0.81" fill="rgb(72,190,104)"/><circle cx="420.2" cy="120.6" r="0.78" fill="rgb(73,194,106)"/><circle cx="303.8" cy="90.7" r="0.56" fill="rgb(74,197,108)"/><circle cx="478.1" cy="75.6" r="0.81" fill="rgb(62,164,90)"/><circle cx="370.4" cy="27.3" r="0.76" fill="rgb(59,157,86)"/><circle cx="400.6" cy="25.5" r="0.63" fill="rgb(65,172,94)"/><circle cx="401.0" cy="130.1" r="0.66" fill="rgb(55,146,80)"/><circle cx="312.3" cy="57.3" r="0.66" fill="rgb(55,145,79)"/><circle cx="418.7" cy="49.8" r="0.69" fill="rgb(53,140,77)"/><circle cx="396.4" cy="34.4" r="0.57" fill="rgb(65,172,94)"/><circle cx="326.4" cy="112.2" r="0.56" fill="rgb(72,191,105)"/><circle cx="329.9" cy="77.3" r="0.62" fill="rgb(64,170,93)"/><circle cx="354.1" cy="55.0" r="0.71" fill="rgb(61,161,88)"/><circle cx="411.9" cy="50.2" r="0.72" fill="rgb(72,191,105)"/><circle cx="381.0" cy="51.9" r="0.56" fill="rgb(57,151,83)"/><circle cx="331.1" cy="89.4" r="0.84" fill="rgb(54,144,79)"/><circle cx="386.9" cy="116.1" r="0.67" fill="rgb(55,147,80)"/><circle cx="320.6" cy="86.1" r="0.75" fill="rgb(58,154,84)"/><circle cx="344.7" cy="135.8" r="0.85" fill="rgb(69,182,100)"/><circle cx="448.3" cy="116.5" r="0.68" fill="rgb(56,148,81)"/><circle cx="475.7" cy="75.7" r="0.69" fill="rgb(68,179,98)"/><circle cx="369.2" cy="122.1" r="0.60" fill="rgb(62,165,90)"/><circle cx="405.0" cy="16.6" r="0.61" fill="rgb(71,187,102)"/><circle cx="384.3" cy="154.3" r="0.80" fill="rgb(69,184,101)"/><circle cx="367.6" cy="163.2" r="0.83" fill="rgb(53,141,77)"/><circle cx="377.6" cy="20.0" r="0.66" fill="rgb(54,144,79)"/><circle cx="317.8" cy="129.3" r="0.77" fill="rgb(68,181,99)"/><circle cx="358.7" cy="59.1" r="0.74" fill="rgb(61,162,89)"/><circle cx="343.6" cy="71.9" r="0.64" fill="rgb(61,162,89)"/><circle cx="428.0" cy="100.8" r="0.68" fill="rgb(61,162,89)"/><circle cx="467.4" cy="104.2" r="0.58" fill="rgb(71,189,103)"/><circle cx="419.3" cy="111.7" r="0.82" fill="rgb(71,189,103)"/><circle cx="363.8" cy="131.9" r="0.80" fill="rgb(74,197,108)"/><circle cx="412.0" cy="111.2" r="0.63" fill="rgb(66,176,96)"/><circle cx="349.1" cy="123.5" r="0.56" fill="rgb(69,182,100)"/><circle cx="456.2" cy="52.2" r="0.79" fill="rgb(76,200,110)"/><circle cx="310.6" cy="82.1" r="0.67" fill="rgb(70,186,102)"/><circle cx="423.0" cy="18.8" r="0.59" fill="rgb(56,148,81)"/><circle cx="426.1" cy="13.7" r="0.69" fill="rgb(55,145,79)"/><circle cx="358.7" cy="151.2" r="0.69" fill="rgb(74,196,107)"/><circle cx="401.4" cy="10.8" r="0.62" fill="rgb(53,140,77)"/><circle cx="438.2" cy="61.7" r="0.58" fill="rgb(55,146,80)"/><circle cx="455.3" cy="33.5" r="0.69" fill="rgb(63,168,92)"/><circle cx="328.0" cy="56.3" r="0.82" fill="rgb(70,185,101)"/><circle cx="396.1" cy="27.0" r="0.57" fill="rgb(70,186,102)"/><circle cx="333.8" cy="100.9" r="0.81" fill="rgb(69,183,100)"/><circle cx="468.7" cy="86.4" r="0.76" fill="rgb(64,170,93)"/><circle cx="450.9" cy="55.4" r="0.76" fill="rgb(54,144,79)"/><circle cx="417.8" cy="14.8" r="0.67" fill="rgb(53,140,77)"/><circle cx="410.8" cy="16.0" r="0.77" fill="rgb(68,180,99)"/><circle cx="363.9" cy="57.5" r="0.84" fill="rgb(75,198,108)"/><circle cx="434.0" cy="103.6" r="0.84" fill="rgb(75,199,109)"/><circle cx="325.4" cy="68.7" r="0.63" fill="rgb(63,166,91)"/><circle cx="398.1" cy="100.4" r="0.84" fill="rgb(71,188,103)"/><circle cx="396.2" cy="11.3" r="0.61" fill="rgb(55,146,80)"/><circle cx="404.0" cy="58.9" r="0.65" fill="rgb(65,172,94)"/><circle cx="327.5" cy="145.0" r="0.81" fill="rgb(54,144,79)"/><circle cx="312.7" cy="64.5" r="0.72" fill="rgb(65,172,94)"/><circle cx="328.9" cy="41.8" r="0.57" fill="rgb(66,174,95)"/><circle cx="455.0" cy="112.0" r="0.69" fill="rgb(60,158,86)"/><circle cx="358.1" cy="35.1" r="0.56" fill="rgb(58,153,84)"/><circle cx="430.8" cy="23.8" r="0.61" fill="rgb(64,169,92)"/><circle cx="370.5" cy="20.6" r="0.68" fill="rgb(69,182,100)"/><circle cx="338.7" cy="76.6" r="0.58" fill="rgb(55,146,80)"/><circle cx="418.4" cy="88.4" r="0.64" fill="rgb(59,157,86)"/><circle cx="393.8" cy="58.4" r="0.72" fill="rgb(67,178,97)"/><circle cx="370.5" cy="123.1" r="0.57" fill="rgb(55,145,79)"/><circle cx="337.0" cy="55.4" r="0.85" fill="rgb(64,169,92)"/><circle cx="452.9" cy="61.3" r="0.82" fill="rgb(58,153,84)"/><circle cx="382.1" cy="15.6" r="0.56" fill="rgb(75,198,108)"/><circle cx="464.2" cy="117.3" r="0.75" fill="rgb(69,182,100)"/><circle cx="426.5" cy="45.9" r="0.57" fill="rgb(74,196,107)"/><circle cx="354.4" cy="59.8" r="0.76" fill="rgb(59,156,85)"/><circle cx="390.2" cy="137.6" r="0.56" fill="rgb(61,162,89)"/><circle cx="363.6" cy="114.1" r="0.84" fill="rgb(57,150,82)"/><circle cx="397.5" cy="13.5" r="0.78" fill="rgb(71,188,103)"/><circle cx="384.0" cy="133.0" r="0.71" fill="rgb(63,166,91)"/><circle cx="354.4" cy="143.8" r="0.83" fill="rgb(61,162,89)"/><circle cx="352.7" cy="156.7" r="0.62" fill="rgb(71,189,103)"/><circle cx="376.8" cy="111.0" r="0.58" fill="rgb(57,150,82)"/><circle cx="414.5" cy="48.6" r="0.65" fill="rgb(68,180,99)"/><circle cx="420.5" cy="102.7" r="0.60" fill="rgb(64,169,92)"/><circle cx="318.2" cy="77.8" r="0.62" fill="rgb(66,174,95)"/><circle cx="468.1" cy="50.3" r="0.76" fill="rgb(65,173,95)"/><circle cx="418.0" cy="85.8" r="0.62" fill="rgb(58,153,84)"/><circle cx="393.8" cy="11.0" r="0.63" fill="rgb(70,185,101)"/><circle cx="418.2" cy="141.3" r="0.60" fill="rgb(69,183,100)"/><circle cx="437.5" cy="76.5" r="0.62" fill="rgb(62,165,90)"/><circle cx="390.3" cy="105.1" r="0.81" fill="rgb(69,184,101)"/><circle cx="345.3" cy="39.2" r="0.74" fill="rgb(68,181,99)"/><circle cx="328.4" cy="53.7" r="0.57" fill="rgb(67,178,97)"/><circle cx="382.4" cy="29.3" r="0.66" fill="rgb(54,144,79)"/><circle cx="410.4" cy="113.3" r="0.74" fill="rgb(64,171,94)"/><circle cx="305.0" cy="85.9" r="0.78" fill="rgb(75,198,108)"/><circle cx="403.7" cy="115.2" r="0.67" fill="rgb(60,159,87)"/><circle cx="378.4" cy="57.6" r="0.81" fill="rgb(70,186,102)"/><circle cx="431.2" cy="46.9" r="0.80" fill="rgb(60,160,88)"/><circle cx="473.2" cy="105.8" r="0.58" fill="rgb(58,154,84)"/><circle cx="404.9" cy="139.7" r="0.63" fill="rgb(61,161,88)"/><circle cx="431.0" cy="93.3" r="0.58" fill="rgb(74,197,108)"/><circle cx="406.1" cy="23.3" r="0.75" fill="rgb(60,159,87)"/><circle cx="405.7" cy="120.2" r="0.80" fill="rgb(55,146,80)"/><circle cx="434.4" cy="106.1" r="0.72" fill="rgb(55,145,79)"/><circle cx="394.9" cy="112.3" r="0.63" fill="rgb(53,140,77)"/><circle cx="471.7" cy="56.3" r="0.66" fill="rgb(61,162,89)"/><circle cx="385.1" cy="59.8" r="0.77" fill="rgb(72,190,104)"/><circle cx="365.2" cy="116.2" r="0.58" fill="rgb(69,182,100)"/><circle cx="378.5" cy="142.2" r="0.56" fill="rgb(71,188,103)"/><circle cx="397.7" cy="12.7" r="0.74" fill="rgb(58,155,85)"/><circle cx="306.5" cy="105.0" r="0.58" fill="rgb(54,143,78)"/><circle cx="350.9" cy="127.0" r="0.56" fill="rgb(60,158,86)"/><circle cx="315.8" cy="108.9" r="0.67" fill="rgb(55,145,79)"/><circle cx="303.0" cy="98.7" r="0.62" fill="rgb(75,198,108)"/><circle cx="441.3" cy="112.1" r="0.62" fill="rgb(64,170,93)"/><circle cx="327.1" cy="87.5" r="0.72" fill="rgb(58,153,84)"/><circle cx="452.9" cy="30.3" r="0.66" fill="rgb(73,194,106)"/><circle cx="447.2" cy="111.5" r="0.62" fill="rgb(54,143,78)"/><circle cx="397.2" cy="114.8" r="0.69" fill="rgb(59,156,85)"/><circle cx="467.9" cy="66.0" r="0.57" fill="rgb(56,148,81)"/><circle cx="341.4" cy="104.9" r="0.63" fill="rgb(58,153,84)"/><circle cx="372.7" cy="34.9" r="0.60" fill="rgb(59,156,85)"/><circle cx="465.2" cy="95.7" r="0.82" fill="rgb(65,172,94)"/><circle cx="343.7" cy="35.7" r="0.71" fill="rgb(53,142,78)"/><circle cx="397.5" cy="150.7" r="0.59" fill="rgb(67,178,97)"/><circle cx="353.3" cy="130.8" r="0.83" fill="rgb(74,196,107)"/><circle cx="385.9" cy="12.4" r="0.75" fill="rgb(61,163,89)"/><circle cx="346.1" cy="33.3" r="0.73" fill="rgb(53,141,77)"/><circle cx="394.6" cy="106.8" r="0.84" fill="rgb(63,168,92)"/><circle cx="418.0" cy="51.3" r="0.72" fill="rgb(60,160,88)"/><circle cx="445.2" cy="71.0" r="0.60" fill="rgb(69,183,100)"/><circle cx="350.2" cy="136.6" r="0.69" fill="rgb(54,144,79)"/><circle cx="301.6" cy="84.9" r="0.75" fill="rgb(64,171,94)"/><circle cx="361.1" cy="161.0" r="0.62" fill="rgb(59,157,86)"/><circle cx="441.6" cy="79.4" r="0.60" fill="rgb(63,166,91)"/><circle cx="324.8" cy="128.2" r="0.66" fill="rgb(66,176,96)"/><circle cx="462.7" cy="91.1" r="0.73" fill="rgb(59,156,85)"/><circle cx="323.7" cy="100.8" r="0.59" fill="rgb(62,164,90)"/><circle cx="392.9" cy="120.5" r="0.59" fill="rgb(63,166,91)"/><circle cx="315.5" cy="51.8" r="0.60" fill="rgb(54,143,78)"/><circle cx="425.5" cy="22.5" r="0.82" fill="rgb(59,156,85)"/><circle cx="437.0" cy="79.2" r="0.76" fill="rgb(76,200,110)"/><circle cx="441.3" cy="122.5" r="0.58" fill="rgb(72,192,105)"/><circle cx="440.2" cy="96.0" r="0.78" fill="rgb(60,158,86)"/><circle cx="406.5" cy="119.2" r="0.71" fill="rgb(54,144,79)"/><circle cx="439.1" cy="28.9" r="0.76" fill="rgb(68,181,99)"/><circle cx="337.7" cy="62.7" r="0.75" fill="rgb(64,171,94)"/><circle cx="320.5" cy="51.7" r="0.71" fill="rgb(74,197,108)"/><circle cx="334.3" cy="70.9" r="0.82" fill="rgb(67,177,97)"/><circle cx="355.6" cy="75.5" r="0.84" fill="rgb(69,184,101)"/><circle cx="354.4" cy="48.2" r="0.63" fill="rgb(65,173,95)"/><circle cx="424.7" cy="27.0" r="0.74" fill="rgb(54,143,78)"/><circle cx="316.8" cy="103.3" r="0.83" fill="rgb(72,191,105)"/><circle cx="340.5" cy="107.8" r="0.76" fill="rgb(71,188,103)"/><circle cx="367.6" cy="62.1" r="0.79" fill="rgb(60,160,88)"/><circle cx="397.5" cy="146.5" r="0.71" fill="rgb(58,153,84)"/><circle cx="390.0" cy="39.2" r="0.66" fill="rgb(70,185,101)"/><circle cx="349.3" cy="27.3" r="0.85" fill="rgb(56,148,81)"/><circle cx="440.8" cy="130.6" r="0.67" fill="rgb(74,196,107)"/><circle cx="342.4" cy="67.4" r="0.78" fill="rgb(70,185,101)"/><circle cx="358.3" cy="161.4" r="0.56" fill="rgb(69,184,101)"/><circle cx="374.4" cy="60.5" r="0.59" fill="rgb(61,163,89)"/><circle cx="356.8" cy="57.6" r="0.74" fill="rgb(66,175,96)"/><circle cx="339.8" cy="37.6" r="0.61" fill="rgb(71,189,103)"/><circle cx="396.1" cy="44.6" r="0.60" fill="rgb(59,156,85)"/><circle cx="448.0" cy="113.7" r="0.81" fill="rgb(69,182,100)"/><circle cx="356.2" cy="71.0" r="0.73" fill="rgb(53,140,77)"/><circle cx="332.3" cy="124.3" r="0.57" fill="rgb(53,141,77)"/><circle cx="429.3" cy="92.1" r="0.62" fill="rgb(69,184,101)"/><circle cx="408.8" cy="122.5" r="0.76" fill="rgb(74,197,108)"/><circle cx="425.8" cy="84.9" r="0.57" fill="rgb(61,161,88)"/><circle cx="362.1" cy="128.3" r="0.69" fill="rgb(71,187,102)"/><circle cx="389.8" cy="110.9" r="0.63" fill="rgb(55,145,79)"/><circle cx="388.7" cy="112.3" r="0.76" fill="rgb(54,143,78)"/><circle cx="383.8" cy="41.8" r="0.59" fill="rgb(64,171,94)"/><circle cx="418.1" cy="21.7" r="0.76" fill="rgb(73,193,106)"/><circle cx="332.5" cy="138.5" r="0.64" fill="rgb(58,154,84)"/><circle cx="447.8" cy="116.6" r="0.73" fill="rgb(54,144,79)"/><circle cx="418.2" cy="19.7" r="0.74" fill="rgb(58,154,84)"/><circle cx="419.6" cy="38.9" r="0.59" fill="rgb(63,167,91)"/><circle cx="393.7" cy="134.1" r="0.71" fill="rgb(63,167,91)"/><circle cx="392.9" cy="103.9" r="0.64" fill="rgb(65,172,94)"/><circle cx="342.2" cy="36.6" r="0.61" fill="rgb(68,179,98)"/><circle cx="478.2" cy="88.6" r="0.60" fill="rgb(56,148,81)"/><circle cx="427.2" cy="27.3" r="0.79" fill="rgb(69,184,101)"/><circle cx="372.1" cy="135.4" r="0.64" fill="rgb(70,186,102)"/><circle cx="399.0" cy="43.8" r="0.56" fill="rgb(60,158,86)"/><circle cx="355.4" cy="88.1" r="0.74" fill="rgb(75,199,109)"/><circle cx="391.5" cy="105.8" r="0.59" fill="rgb(60,160,88)"/><circle cx="324.6" cy="88.4" r="0.76" fill="rgb(61,163,89)"/><circle cx="340.3" cy="98.0" r="0.58" fill="rgb(54,144,79)"/><circle cx="442.8" cy="113.5" r="0.57" fill="rgb(64,170,93)"/><circle cx="412.8" cy="33.5" r="0.65" fill="rgb(63,168,92)"/><circle cx="314.2" cy="101.4" r="0.76" fill="rgb(71,189,103)"/><circle cx="311.7" cy="74.6" r="0.83" fill="rgb(70,186,102)"/><circle cx="369.1" cy="72.3" r="0.58" fill="rgb(64,169,92)"/><circle cx="420.7" cy="76.5" r="0.84" fill="rgb(73,194,106)"/><circle cx="418.9" cy="74.6" r="0.76" fill="rgb(64,169,92)"/><circle cx="463.8" cy="106.1" r="0.78" fill="rgb(73,194,106)"/><circle cx="398.9" cy="35.3" r="0.59" fill="rgb(55,145,79)"/><circle cx="365.8" cy="23.0" r="0.57" fill="rgb(71,187,102)"/><circle cx="371.9" cy="163.4" r="0.71" fill="rgb(56,148,81)"/><circle cx="375.1" cy="45.5" r="0.71" fill="rgb(72,192,105)"/><circle cx="409.9" cy="60.7" r="0.67" fill="rgb(57,151,83)"/><circle cx="418.1" cy="24.0" r="0.59" fill="rgb(61,163,89)"/><circle cx="425.8" cy="120.0" r="0.83" fill="rgb(71,187,102)"/><circle cx="380.3" cy="39.1" r="0.84" fill="rgb(58,154,84)"/><circle cx="351.8" cy="63.2" r="0.67" fill="rgb(64,169,92)"/><circle cx="390.4" cy="9.7" r="0.58" fill="rgb(64,171,94)"/><circle cx="411.8" cy="45.4" r="0.56" fill="rgb(58,155,85)"/><circle cx="308.3" cy="84.8" r="0.59" fill="rgb(69,184,101)"/><circle cx="422.8" cy="52.8" r="0.77" fill="rgb(57,151,83)"/><circle cx="435.2" cy="33.8" r="0.68" fill="rgb(69,182,100)"/><circle cx="428.2" cy="19.9" r="0.65" fill="rgb(66,176,96)"/><circle cx="401.8" cy="49.3" r="0.82" fill="rgb(53,142,78)"/><circle cx="441.2" cy="76.6" r="0.65" fill="rgb(73,194,106)"/><circle cx="456.8" cy="34.7" r="0.66" fill="rgb(60,159,87)"/><circle cx="356.9" cy="132.7" r="0.83" fill="rgb(55,147,80)"/><circle cx="466.4" cy="96.5" r="0.74" fill="rgb(71,188,103)"/><circle cx="451.7" cy="42.9" r="0.80" fill="rgb(58,155,85)"/><circle cx="420.3" cy="68.5" r="0.79" fill="rgb(56,149,81)"/><circle cx="329.3" cy="144.1" r="0.62" fill="rgb(56,148,81)"/><circle cx="373.8" cy="23.2" r="0.65" fill="rgb(54,143,78)"/><circle cx="438.1" cy="26.0" r="0.78" fill="rgb(74,196,107)"/><circle cx="447.1" cy="26.1" r="0.75" fill="rgb(74,195,107)"/><circle cx="437.7" cy="45.2" r="0.83" fill="rgb(64,169,92)"/><circle cx="329.6" cy="101.7" r="0.81" fill="rgb(71,187,102)"/><circle cx="403.0" cy="139.3" r="0.57" fill="rgb(58,155,85)"/><circle cx="341.6" cy="139.6" r="0.77" fill="rgb(64,171,94)"/><circle cx="410.9" cy="145.8" r="0.64" fill="rgb(62,165,90)"/><circle cx="335.0" cy="98.6" r="0.74" fill="rgb(68,180,99)"/><circle cx="440.8" cy="55.2" r="0.65" fill="rgb(74,197,108)"/><circle cx="432.9" cy="29.0" r="0.72" fill="rgb(61,162,89)"/><circle cx="446.5" cy="131.2" r="0.82" fill="rgb(73,193,106)"/><circle cx="446.9" cy="114.7" r="0.81" fill="rgb(53,140,77)"/><circle cx="369.8" cy="57.6" r="0.71" fill="rgb(61,163,89)"/><circle cx="458.1" cy="60.7" r="0.59" fill="rgb(74,195,107)"/><circle cx="340.1" cy="60.8" r="0.59" fill="rgb(70,185,101)"/><circle cx="430.4" cy="90.7" r="0.80" fill="rgb(60,158,86)"/><circle cx="404.3" cy="41.7" r="0.79" fill="rgb(58,154,84)"/><circle cx="331.2" cy="152.3" r="0.68" fill="rgb(71,187,102)"/><circle cx="334.3" cy="139.8" r="0.68" fill="rgb(75,199,109)"/><circle cx="348.3" cy="165.9" r="0.77" fill="rgb(65,172,94)"/><circle cx="315.8" cy="90.9" r="0.73" fill="rgb(56,149,81)"/><circle cx="330.6" cy="144.8" r="0.79" fill="rgb(74,197,108)"/><circle cx="315.0" cy="67.5" r="0.72" fill="rgb(74,195,107)"/><circle cx="411.5" cy="97.6" r="0.56" fill="rgb(65,172,94)"/><circle cx="303.8" cy="89.8" r="0.76" fill="rgb(74,197,108)"/><circle cx="404.6" cy="147.4" r="0.72" fill="rgb(56,149,81)"/><circle cx="410.7" cy="38.7" r="0.76" fill="rgb(67,178,97)"/><circle cx="355.7" cy="66.0" r="0.70" fill="rgb(58,153,84)"/><circle cx="444.6" cy="92.8" r="0.60" fill="rgb(70,185,101)"/><circle cx="404.8" cy="29.9" r="0.71" fill="rgb(58,154,84)"/><circle cx="425.1" cy="69.4" r="0.77" fill="rgb(67,177,97)"/><circle cx="439.2" cy="127.8" r="0.76" fill="rgb(67,178,97)"/><circle cx="379.1" cy="168.0" r="0.70" fill="rgb(75,199,109)"/><circle cx="449.4" cy="33.0" r="0.79" fill="rgb(74,197,108)"/><circle cx="375.8" cy="62.2" r="0.60" fill="rgb(64,169,92)"/><circle cx="325.5" cy="130.4" r="0.62" fill="rgb(57,152,83)"/><circle cx="428.4" cy="53.8" r="0.64" fill="rgb(63,167,91)"/><circle cx="413.6" cy="124.8" r="0.59" fill="rgb(55,145,79)"/><circle cx="363.6" cy="75.0" r="0.61" fill="rgb(60,158,86)"/><circle cx="330.5" cy="98.2" r="0.70" fill="rgb(67,177,97)"/><circle cx="450.4" cy="71.2" r="0.69" fill="rgb(57,152,83)"/><circle cx="326.0" cy="87.6" r="0.57" fill="rgb(58,154,84)"/><circle cx="346.0" cy="119.9" r="0.65" fill="rgb(63,167,91)"/><circle cx="367.5" cy="16.2" r="0.60" fill="rgb(68,181,99)"/><circle cx="436.8" cy="42.6" r="0.56" fill="rgb(53,140,77)"/><circle cx="404.6" cy="33.7" r="0.74" fill="rgb(65,172,94)"/><circle cx="442.1" cy="65.1" r="0.74" fill="rgb(63,167,91)"/><circle cx="362.7" cy="29.0" r="0.81" fill="rgb(69,183,100)"/><circle cx="409.0" cy="27.9" r="0.62" fill="rgb(69,183,100)"/><circle cx="402.5" cy="59.1" r="0.67" fill="rgb(66,175,96)"/><circle cx="403.9" cy="117.3" r="0.82" fill="rgb(74,197,108)"/><circle cx="462.4" cy="80.8" r="0.69" fill="rgb(72,191,105)"/><circle cx="335.6" cy="92.4" r="0.56" fill="rgb(74,197,108)"/><circle cx="313.0" cy="68.1" r="0.74" fill="rgb(60,160,88)"/><circle cx="338.5" cy="98.1" r="0.73" fill="rgb(62,164,90)"/><circle cx="312.9" cy="59.6" r="0.66" fill="rgb(53,141,77)"/><circle cx="348.8" cy="124.2" r="0.74" fill="rgb(75,198,108)"/><circle cx="477.6" cy="97.0" r="0.80" fill="rgb(60,158,86)"/><circle cx="431.1" cy="96.1" r="0.77" fill="rgb(54,143,78)"/><circle cx="423.6" cy="127.6" r="0.57" fill="rgb(58,154,84)"/><circle cx="455.5" cy="70.4" r="0.84" fill="rgb(75,199,109)"/><circle cx="396.1" cy="58.6" r="0.61" fill="rgb(73,193,106)"/><circle cx="390.0" cy="12.2" r="0.68" fill="rgb(62,164,90)"/><circle cx="337.8" cy="39.0" r="0.73" fill="rgb(57,151,83)"/><circle cx="421.4" cy="101.3" r="0.65" fill="rgb(53,141,77)"/><circle cx="378.1" cy="58.2" r="0.60" fill="rgb(64,169,92)"/><circle cx="332.7" cy="155.6" r="0.65" fill="rgb(63,167,91)"/><circle cx="339.3" cy="121.7" r="0.84" fill="rgb(64,170,93)"/><circle cx="468.3" cy="88.7" r="0.60" fill="rgb(57,151,83)"/><circle cx="455.1" cy="43.8" r="0.77" fill="rgb(68,180,99)"/><circle cx="453.4" cy="113.4" r="0.82" fill="rgb(69,183,100)"/><circle cx="405.1" cy="29.5" r="0.72" fill="rgb(74,196,107)"/><circle cx="308.6" cy="114.9" r="0.74" fill="rgb(67,178,97)"/><circle cx="355.8" cy="39.6" r="0.81" fill="rgb(56,149,81)"/><circle cx="450.3" cy="58.5" r="0.70" fill="rgb(56,149,81)"/><circle cx="377.2" cy="59.9" r="0.55" fill="rgb(68,181,99)"/><circle cx="417.2" cy="19.6" r="0.83" fill="rgb(65,172,94)"/><circle cx="422.0" cy="48.6" r="0.75" fill="rgb(70,185,101)"/><circle cx="319.9" cy="60.2" r="0.65" fill="rgb(63,166,91)"/><circle cx="321.5" cy="99.3" r="0.60" fill="rgb(68,179,98)"/><circle cx="422.8" cy="68.2" r="0.61" fill="rgb(74,197,108)"/><circle cx="354.0" cy="33.8" r="0.85" fill="rgb(53,140,77)"/><circle cx="371.3" cy="46.6" r="0.72" fill="rgb(71,188,103)"/><circle cx="407.8" cy="44.2" r="0.81" fill="rgb(66,176,96)"/><circle cx="342.9" cy="94.2" r="0.85" fill="rgb(75,199,109)"/><circle cx="307.4" cy="94.9" r="0.59" fill="rgb(53,142,78)"/><circle cx="395.8" cy="26.8" r="0.64" fill="rgb(75,198,108)"/><circle cx="313.8" cy="87.6" r="0.58" fill="rgb(53,140,77)"/><circle cx="385.8" cy="119.3" r="0.68" fill="rgb(74,195,107)"/><circle cx="452.3" cy="39.6" r="0.77" fill="rgb(55,145,79)"/><circle cx="373.9" cy="69.6" r="0.80" fill="rgb(64,171,94)"/></g>
<rect x="298.7" y="2.8" width="182.7" height="182.7" fill="none" stroke="#111" stroke-width="1" opacity="0.8"/>
</g>
<g clip-path="url(#ca3)">
<rect x="496.5" y="2" width="186" height="185" fill="url(#g3)"/>
<path d="M495,153 Q522,172 555,188 L495,188 Z" fill="#050505"/>
<path d="M683,143 Q650,172 610,188 L683,188 Z" fill="#050505"/>
<g opacity="0.60"><circle cx="503.1" cy="191.1" r="0.63" fill="rgb(59,156,85)"/><circle cx="488.5" cy="202.4" r="0.70" fill="rgb(76,200,110)"/><circle cx="483.4" cy="181.3" r="0.79" fill="rgb(69,184,101)"/><circle cx="505.9" cy="168.1" r="0.65" fill="rgb(74,195,107)"/><circle cx="496.5" cy="165.9" r="0.56" fill="rgb(55,147,80)"/><circle cx="516.6" cy="165.7" r="0.57" fill="rgb(60,158,86)"/><circle cx="523.3" cy="183.6" r="0.83" fill="rgb(71,187,102)"/><circle cx="491.3" cy="203.5" r="0.62" fill="rgb(73,194,106)"/><circle cx="506.8" cy="180.8" r="0.56" fill="rgb(64,170,93)"/><circle cx="524.4" cy="195.9" r="0.56" fill="rgb(74,196,107)"/><circle cx="488.3" cy="188.8" r="0.57" fill="rgb(70,185,101)"/><circle cx="499.2" cy="207.2" r="0.61" fill="rgb(67,178,97)"/><circle cx="519.7" cy="202.1" r="0.74" fill="rgb(55,147,80)"/><circle cx="511.7" cy="174.2" r="0.60" fill="rgb(57,150,82)"/><circle cx="520.6" cy="177.7" r="0.62" fill="rgb(72,190,104)"/><circle cx="504.6" cy="191.2" r="0.82" fill="rgb(57,150,82)"/><circle cx="486.3" cy="169.0" r="0.57" fill="rgb(71,189,103)"/><circle cx="490.3" cy="198.2" r="0.61" fill="rgb(63,168,92)"/><circle cx="490.2" cy="193.6" r="0.75" fill="rgb(60,160,88)"/><circle cx="504.6" cy="173.0" r="0.69" fill="rgb(64,169,92)"/><circle cx="494.1" cy="182.9" r="0.60" fill="rgb(59,156,85)"/><circle cx="497.5" cy="168.0" r="0.82" fill="rgb(62,165,90)"/><circle cx="525.4" cy="172.9" r="0.70" fill="rgb(64,170,93)"/><circle cx="503.3" cy="200.1" r="0.70" fill="rgb(66,175,96)"/><circle cx="519.1" cy="182.7" r="0.82" fill="rgb(61,161,88)"/><circle cx="488.5" cy="203.1" r="0.70" fill="rgb(56,148,81)"/><circle cx="502.1" cy="199.1" r="0.71" fill="rgb(66,176,96)"/><circle cx="503.3" cy="188.9" r="0.69" fill="rgb(58,153,84)"/><circle cx="521.2" cy="180.5" r="0.72" fill="rgb(61,163,89)"/><circle cx="524.6" cy="178.4" r="0.69" fill="rgb(61,163,89)"/><circle cx="515.0" cy="180.2" r="0.75" fill="rgb(74,195,107)"/><circle cx="509.9" cy="194.7" r="0.64" fill="rgb(57,152,83)"/><circle cx="517.1" cy="182.6" r="0.57" fill="rgb(67,177,97)"/><circle cx="523.6" cy="186.1" r="0.70" fill="rgb(58,153,84)"/><circle cx="493.7" cy="166.5" r="0.75" fill="rgb(58,155,85)"/><circle cx="495.3" cy="163.0" r="0.75" fill="rgb(57,152,83)"/><circle cx="504.8" cy="184.0" r="0.84" fill="rgb(54,143,78)"/><circle cx="516.3" cy="191.9" r="0.72" fill="rgb(74,197,108)"/><circle cx="521.1" cy="185.9" r="0.76" fill="rgb(74,197,108)"/><circle cx="494.6" cy="182.8" r="0.61" fill="rgb(66,176,96)"/></g>
<g opacity="0.60"><circle cx="684.8" cy="200.6" r="0.61" fill="rgb(55,146,80)"/><circle cx="688.8" cy="193.2" r="0.70" fill="rgb(71,187,102)"/><circle cx="664.1" cy="202.0" r="0.85" fill="rgb(62,165,90)"/><circle cx="694.0" cy="183.2" r="0.84" fill="rgb(69,184,101)"/><circle cx="691.6" cy="193.8" r="0.70" fill="rgb(59,157,86)"/><circle cx="654.0" cy="190.2" r="0.84" fill="rgb(53,141,77)"/><circle cx="699.9" cy="179.1" r="0.71" fill="rgb(68,179,98)"/><circle cx="663.6" cy="190.1" r="0.72" fill="rgb(61,163,89)"/><circle cx="660.0" cy="198.4" r="0.71" fill="rgb(59,156,85)"/><circle cx="680.1" cy="188.3" r="0.73" fill="rgb(55,147,80)"/><circle cx="678.1" cy="170.5" r="0.72" fill="rgb(65,172,94)"/><circle cx="689.5" cy="190.0" r="0.71" fill="rgb(64,169,92)"/><circle cx="681.0" cy="180.6" r="0.59" fill="rgb(63,167,91)"/><circle cx="676.7" cy="179.1" r="0.80" fill="rgb(74,197,108)"/><circle cx="675.4" cy="187.6" r="0.73" fill="rgb(64,170,93)"/><circle cx="659.4" cy="187.4" r="0.62" fill="rgb(53,142,78)"/><circle cx="664.0" cy="160.0" r="0.85" fill="rgb(63,168,92)"/><circle cx="675.3" cy="184.8" r="0.60" fill="rgb(75,199,109)"/><circle cx="681.5" cy="183.0" r="0.78" fill="rgb(61,161,88)"/><circle cx="671.3" cy="186.0" r="0.64" fill="rgb(71,188,103)"/><circle cx="650.9" cy="178.2" r="0.76" fill="rgb(58,155,85)"/><circle cx="682.7" cy="194.5" r="0.82" fill="rgb(75,199,109)"/><circle cx="670.6" cy="164.2" r="0.73" fill="rgb(57,150,82)"/><circle cx="650.1" cy="180.3" r="0.74" fill="rgb(71,187,102)"/><circle cx="685.9" cy="196.5" r="0.64" fill="rgb(54,143,78)"/><circle cx="680.3" cy="181.3" r="0.77" fill="rgb(65,173,95)"/><circle cx="671.3" cy="162.5" r="0.62" fill="rgb(57,150,82)"/><circle cx="678.2" cy="192.3" r="0.58" fill="rgb(64,169,92)"/><circle cx="676.2" cy="179.1" r="0.75" fill="rgb(58,154,84)"/><circle cx="687.9" cy="189.5" r="0.76" fill="rgb(66,174,95)"/></g>
<ellipse cx="579" cy="95.5" rx="81" ry="87.5" fill="#454545"/>
<rect x="496.5" y="2" width="186" height="185" filter="url(#noise)" opacity="0.5"/>
<rect x="496.5" y="2" width="186" height="185" filter="url(#noiseL)" opacity="0.2"/>
<ellipse cx="579" cy="95.5" rx="81" ry="87.5" fill="none" stroke="#1e1e1e" stroke-width="0.9"/>
<path d="M640,28 Q672,60 668,110 Q660,150 640,165" fill="none" stroke="#5a5a5a" stroke-width="1"/>
<path d="M574,48 C598,48 612,68 612,93 C612,120 600,150 582,152 C562,154 546,134 540,112 C534,90 535,66 548,55 C555,50 564,48 574,48 Z" fill="#222222" filter="url(#bl5)"/>
<path d="M575,58 C596,58 605,74 605,94 C605,116 596,138 582,140 C566,142 555,127 550,110 C544,92 545,72 555,64 C561,60 568,58 575,58 Z" fill="#161616" filter="url(#bl5)"/>
<path d="M565,106 L578,103 L590,104 L585,120 L583,138 L579,120 Z" fill="#3a3a3a" filter="url(#bl2)"/>
<path d="M583.5,106 L585,137" stroke="#454545" stroke-width="1.2" filter="url(#bl1)"/>
<g opacity="0.50"><circle cx="624.7" cy="93.6" r="0.75" fill="rgb(59,157,86)"/><circle cx="571.6" cy="110.0" r="0.76" fill="rgb(63,166,91)"/><circle cx="550.7" cy="109.6" r="0.57" fill="rgb(54,144,79)"/><circle cx="593.5" cy="136.2" r="0.58" fill="rgb(68,180,99)"/><circle cx="523.8" cy="94.6" r="0.58" fill="rgb(57,152,83)"/><circle cx="631.8" cy="66.5" r="0.64" fill="rgb(63,168,92)"/><circle cx="644.2" cy="64.5" r="0.59" fill="rgb(64,170,93)"/><circle cx="626.7" cy="118.5" r="0.76" fill="rgb(69,182,100)"/><circle cx="559.5" cy="34.4" r="0.56" fill="rgb(70,186,102)"/><circle cx="563.7" cy="21.2" r="0.79" fill="rgb(55,147,80)"/><circle cx="581.3" cy="135.4" r="0.77" fill="rgb(76,200,110)"/><circle cx="541.0" cy="153.4" r="0.67" fill="rgb(61,163,89)"/><circle cx="593.9" cy="65.3" r="0.68" fill="rgb(63,168,92)"/><circle cx="602.9" cy="96.1" r="0.68" fill="rgb(70,186,102)"/><circle cx="586.0" cy="176.1" r="0.81" fill="rgb(69,182,100)"/><circle cx="573.5" cy="67.3" r="0.58" fill="rgb(62,164,90)"/><circle cx="584.6" cy="128.2" r="0.66" fill="rgb(74,195,107)"/><circle cx="634.6" cy="35.4" r="0.80" fill="rgb(60,160,88)"/><circle cx="578.6" cy="31.9" r="0.73" fill="rgb(75,199,109)"/><circle cx="641.2" cy="82.4" r="0.80" fill="rgb(76,200,110)"/><circle cx="535.9" cy="85.7" r="0.69" fill="rgb(58,153,84)"/><circle cx="553.8" cy="139.8" r="0.72" fill="rgb(65,172,94)"/><circle cx="641.1" cy="91.2" r="0.70" fill="rgb(69,182,100)"/><circle cx="527.9" cy="94.2" r="0.73" fill="rgb(69,182,100)"/><circle cx="620.2" cy="108.0" r="0.78" fill="rgb(55,147,80)"/><circle cx="559.0" cy="23.5" r="0.69" fill="rgb(65,173,95)"/><circle cx="558.1" cy="19.4" r="0.66" fill="rgb(66,174,95)"/><circle cx="566.4" cy="147.7" r="0.56" fill="rgb(70,185,101)"/><circle cx="577.1" cy="143.6" r="0.61" fill="rgb(69,183,100)"/><circle cx="533.9" cy="110.6" r="0.69" fill="rgb(60,159,87)"/><circle cx="619.6" cy="121.8" r="0.61" fill="rgb(68,181,99)"/><circle cx="586.1" cy="170.4" r="0.77" fill="rgb(68,181,99)"/><circle cx="577.3" cy="146.9" r="0.63" fill="rgb(53,141,77)"/><circle cx="623.0" cy="114.5" r="0.68" fill="rgb(53,142,78)"/><circle cx="521.1" cy="45.0" r="0.84" fill="rgb(74,195,107)"/><circle cx="591.7" cy="57.2" r="0.69" fill="rgb(61,161,88)"/><circle cx="566.1" cy="23.8" r="0.70" fill="rgb(57,151,83)"/><circle cx="551.0" cy="127.8" r="0.56" fill="rgb(64,171,94)"/><circle cx="610.2" cy="131.8" r="0.81" fill="rgb(63,166,91)"/><circle cx="531.4" cy="116.0" r="0.60" fill="rgb(60,160,88)"/><circle cx="536.9" cy="39.8" r="0.63" fill="rgb(61,162,89)"/><circle cx="643.4" cy="58.6" r="0.56" fill="rgb(61,161,88)"/><circle cx="587.5" cy="113.0" r="0.61" fill="rgb(63,167,91)"/><circle cx="585.9" cy="44.0" r="0.58" fill="rgb(55,147,80)"/><circle cx="571.4" cy="155.7" r="0.85" fill="rgb(67,178,97)"/><circle cx="628.3" cy="91.1" r="0.66" fill="rgb(57,151,83)"/><circle cx="627.1" cy="99.1" r="0.65" fill="rgb(71,188,103)"/><circle cx="589.3" cy="106.9" r="0.61" fill="rgb(70,185,101)"/><circle cx="643.3" cy="104.4" r="0.62" fill="rgb(68,179,98)"/><circle cx="633.2" cy="136.9" r="0.82" fill="rgb(73,194,106)"/><circle cx="585.3" cy="160.2" r="0.81" fill="rgb(66,176,96)"/><circle cx="622.2" cy="139.9" r="0.74" fill="rgb(65,173,95)"/><circle cx="533.8" cy="59.2" r="0.62" fill="rgb(55,147,80)"/><circle cx="505.7" cy="126.4" r="0.66" fill="rgb(75,198,108)"/><circle cx="601.0" cy="78.8" r="0.62" fill="rgb(62,165,90)"/><circle cx="603.2" cy="62.6" r="0.62" fill="rgb(67,177,97)"/><circle cx="541.0" cy="49.9" r="0.79" fill="rgb(66,175,96)"/><circle cx="570.6" cy="169.8" r="0.69" fill="rgb(64,170,93)"/><circle cx="643.1" cy="101.4" r="0.62" fill="rgb(64,169,92)"/><circle cx="529.7" cy="42.5" r="0.69" fill="rgb(73,193,106)"/><circle cx="609.4" cy="86.3" r="0.84" fill="rgb(55,146,80)"/><circle cx="582.8" cy="22.1" r="0.85" fill="rgb(76,200,110)"/><circle cx="624.2" cy="126.7" r="0.76" fill="rgb(58,153,84)"/><circle cx="647.5" cy="128.8" r="0.66" fill="rgb(57,151,83)"/><circle cx="527.7" cy="120.4" r="0.83" fill="rgb(60,158,86)"/><circle cx="551.3" cy="137.6" r="0.60" fill="rgb(70,185,101)"/><circle cx="523.6" cy="91.5" r="0.64" fill="rgb(61,163,89)"/><circle cx="543.1" cy="85.3" r="0.66" fill="rgb(62,164,90)"/><circle cx="547.3" cy="152.8" r="0.63" fill="rgb(66,176,96)"/><circle cx="583.5" cy="28.8" r="0.66" fill="rgb(70,185,101)"/><circle cx="627.2" cy="140.8" r="0.74" fill="rgb(66,174,95)"/><circle cx="621.1" cy="148.6" r="0.65" fill="rgb(55,147,80)"/><circle cx="511.9" cy="136.7" r="0.62" fill="rgb(61,163,89)"/><circle cx="657.9" cy="97.5" r="0.75" fill="rgb(57,152,83)"/><circle cx="531.5" cy="113.4" r="0.60" fill="rgb(58,154,84)"/><circle cx="570.0" cy="62.4" r="0.66" fill="rgb(75,198,108)"/><circle cx="577.6" cy="81.2" r="0.82" fill="rgb(58,154,84)"/><circle cx="557.5" cy="144.1" r="0.70" fill="rgb(53,142,78)"/><circle cx="544.4" cy="102.0" r="0.57" fill="rgb(57,151,83)"/><circle cx="594.6" cy="128.1" r="0.74" fill="rgb(72,191,105)"/><circle cx="619.6" cy="145.7" r="0.75" fill="rgb(57,150,82)"/><circle cx="608.1" cy="62.0" r="0.59" fill="rgb(66,174,95)"/><circle cx="517.3" cy="102.5" r="0.63" fill="rgb(56,148,81)"/><circle cx="567.8" cy="131.7" r="0.79" fill="rgb(68,179,98)"/><circle cx="646.1" cy="67.1" r="0.68" fill="rgb(69,182,100)"/><circle cx="607.7" cy="39.5" r="0.81" fill="rgb(71,188,103)"/><circle cx="520.5" cy="98.0" r="0.80" fill="rgb(57,150,82)"/><circle cx="564.2" cy="72.8" r="0.74" fill="rgb(68,179,98)"/><circle cx="524.1" cy="57.0" r="0.77" fill="rgb(65,172,94)"/><circle cx="571.0" cy="173.2" r="0.82" fill="rgb(57,151,83)"/><circle cx="590.5" cy="91.4" r="0.82" fill="rgb(68,179,98)"/><circle cx="512.1" cy="124.0" r="0.69" fill="rgb(69,184,101)"/><circle cx="581.4" cy="131.7" r="0.82" fill="rgb(60,160,88)"/><circle cx="572.2" cy="107.1" r="0.66" fill="rgb(61,161,88)"/><circle cx="589.0" cy="88.6" r="0.59" fill="rgb(70,186,102)"/><circle cx="602.0" cy="134.3" r="0.64" fill="rgb(59,157,86)"/><circle cx="576.7" cy="70.5" r="0.85" fill="rgb(58,153,84)"/><circle cx="513.4" cy="123.3" r="0.72" fill="rgb(59,157,86)"/><circle cx="598.2" cy="96.2" r="0.62" fill="rgb(60,158,86)"/><circle cx="642.8" cy="139.9" r="0.70" fill="rgb(66,175,96)"/><circle cx="519.1" cy="48.3" r="0.76" fill="rgb(62,164,90)"/><circle cx="510.7" cy="112.4" r="0.80" fill="rgb(64,169,92)"/><circle cx="613.4" cy="80.7" r="0.77" fill="rgb(59,157,86)"/><circle cx="598.2" cy="58.6" r="0.64" fill="rgb(69,184,101)"/><circle cx="602.4" cy="102.9" r="0.84" fill="rgb(63,168,92)"/><circle cx="540.9" cy="140.2" r="0.70" fill="rgb(65,172,94)"/><circle cx="529.9" cy="43.2" r="0.81" fill="rgb(72,191,105)"/><circle cx="556.5" cy="126.0" r="0.70" fill="rgb(61,162,89)"/><circle cx="644.0" cy="52.5" r="0.71" fill="rgb(57,150,82)"/><circle cx="621.9" cy="162.6" r="0.84" fill="rgb(64,170,93)"/><circle cx="598.3" cy="175.6" r="0.77" fill="rgb(68,181,99)"/><circle cx="536.0" cy="156.5" r="0.63" fill="rgb(55,146,80)"/><circle cx="563.0" cy="119.6" r="0.66" fill="rgb(60,158,86)"/><circle cx="546.5" cy="76.7" r="0.79" fill="rgb(63,167,91)"/><circle cx="609.2" cy="61.9" r="0.80" fill="rgb(72,190,104)"/><circle cx="521.0" cy="74.3" r="0.82" fill="rgb(68,180,99)"/><circle cx="569.1" cy="62.1" r="0.81" fill="rgb(69,183,100)"/><circle cx="593.7" cy="27.3" r="0.69" fill="rgb(72,192,105)"/><circle cx="612.8" cy="33.6" r="0.61" fill="rgb(63,167,91)"/><circle cx="619.9" cy="127.8" r="0.82" fill="rgb(65,172,94)"/><circle cx="552.8" cy="157.6" r="0.67" fill="rgb(63,167,91)"/><circle cx="599.0" cy="124.8" r="0.80" fill="rgb(66,176,96)"/><circle cx="611.0" cy="150.7" r="0.68" fill="rgb(57,152,83)"/><circle cx="506.8" cy="93.7" r="0.84" fill="rgb(53,141,77)"/><circle cx="615.4" cy="54.5" r="0.78" fill="rgb(74,196,107)"/><circle cx="526.6" cy="69.0" r="0.81" fill="rgb(58,153,84)"/><circle cx="641.5" cy="89.5" r="0.62" fill="rgb(67,178,97)"/><circle cx="521.9" cy="65.3" r="0.58" fill="rgb(61,163,89)"/><circle cx="606.4" cy="16.6" r="0.76" fill="rgb(57,150,82)"/><circle cx="612.4" cy="147.3" r="0.79" fill="rgb(70,186,102)"/><circle cx="634.6" cy="119.1" r="0.57" fill="rgb(74,197,108)"/><circle cx="579.2" cy="120.1" r="0.80" fill="rgb(59,156,85)"/><circle cx="576.3" cy="131.7" r="0.64" fill="rgb(53,140,77)"/><circle cx="532.2" cy="107.9" r="0.81" fill="rgb(72,190,104)"/><circle cx="520.3" cy="133.7" r="0.55" fill="rgb(74,195,107)"/><circle cx="566.6" cy="120.1" r="0.70" fill="rgb(69,184,101)"/><circle cx="616.1" cy="101.3" r="0.56" fill="rgb(61,162,89)"/><circle cx="581.2" cy="41.0" r="0.71" fill="rgb(75,199,109)"/><circle cx="587.4" cy="149.7" r="0.83" fill="rgb(68,179,98)"/><circle cx="526.7" cy="91.2" r="0.73" fill="rgb(63,167,91)"/><circle cx="511.5" cy="81.2" r="0.60" fill="rgb(59,157,86)"/><circle cx="517.0" cy="140.1" r="0.61" fill="rgb(63,166,91)"/><circle cx="614.0" cy="107.5" r="0.72" fill="rgb(76,200,110)"/><circle cx="580.8" cy="158.9" r="0.59" fill="rgb(74,195,107)"/><circle cx="549.2" cy="21.5" r="0.84" fill="rgb(63,167,91)"/><circle cx="641.3" cy="101.1" r="0.60" fill="rgb(68,180,99)"/><circle cx="604.2" cy="167.4" r="0.64" fill="rgb(74,195,107)"/><circle cx="563.3" cy="24.9" r="0.59" fill="rgb(58,153,84)"/><circle cx="575.9" cy="98.2" r="0.56" fill="rgb(60,158,86)"/><circle cx="537.0" cy="112.9" r="0.62" fill="rgb(67,178,97)"/><circle cx="594.8" cy="103.2" r="0.64" fill="rgb(55,145,79)"/><circle cx="590.0" cy="50.0" r="0.76" fill="rgb(66,174,95)"/><circle cx="591.5" cy="117.4" r="0.57" fill="rgb(68,181,99)"/><circle cx="590.5" cy="90.2" r="0.82" fill="rgb(70,186,102)"/><circle cx="561.6" cy="31.5" r="0.70" fill="rgb(68,180,99)"/><circle cx="555.2" cy="110.6" r="0.69" fill="rgb(65,173,95)"/><circle cx="526.5" cy="100.1" r="0.68" fill="rgb(55,146,80)"/><circle cx="589.7" cy="178.4" r="0.69" fill="rgb(60,160,88)"/><circle cx="567.5" cy="44.7" r="0.78" fill="rgb(65,173,95)"/><circle cx="574.3" cy="123.2" r="0.75" fill="rgb(53,142,78)"/><circle cx="573.0" cy="177.0" r="0.68" fill="rgb(56,149,81)"/><circle cx="582.3" cy="51.0" r="0.73" fill="rgb(56,149,81)"/><circle cx="593.5" cy="124.3" r="0.82" fill="rgb(59,157,86)"/><circle cx="583.4" cy="159.0" r="0.57" fill="rgb(63,166,91)"/><circle cx="530.4" cy="50.1" r="0.64" fill="rgb(72,190,104)"/><circle cx="521.9" cy="58.6" r="0.58" fill="rgb(54,144,79)"/><circle cx="594.6" cy="44.1" r="0.76" fill="rgb(65,172,94)"/><circle cx="627.1" cy="101.8" r="0.79" fill="rgb(56,148,81)"/><circle cx="590.0" cy="102.9" r="0.62" fill="rgb(65,172,94)"/><circle cx="599.7" cy="108.0" r="0.73" fill="rgb(57,152,83)"/><circle cx="617.4" cy="115.1" r="0.68" fill="rgb(63,166,91)"/><circle cx="541.1" cy="71.1" r="0.72" fill="rgb(54,143,78)"/><circle cx="636.6" cy="86.3" r="0.67" fill="rgb(69,182,100)"/><circle cx="519.0" cy="50.0" r="0.68" fill="rgb(55,146,80)"/><circle cx="546.1" cy="78.2" r="0.77" fill="rgb(73,193,106)"/><circle cx="569.3" cy="154.5" r="0.72" fill="rgb(57,151,83)"/><circle cx="631.9" cy="103.2" r="0.64" fill="rgb(60,160,88)"/><circle cx="569.2" cy="162.8" r="0.58" fill="rgb(55,145,79)"/><circle cx="533.2" cy="90.4" r="0.58" fill="rgb(61,163,89)"/><circle cx="523.0" cy="92.2" r="0.64" fill="rgb(70,186,102)"/><circle cx="580.2" cy="176.7" r="0.63" fill="rgb(65,172,94)"/><circle cx="653.1" cy="86.0" r="0.83" fill="rgb(63,167,91)"/><circle cx="575.8" cy="172.1" r="0.79" fill="rgb(68,179,98)"/><circle cx="617.7" cy="142.7" r="0.79" fill="rgb(56,148,81)"/><circle cx="558.2" cy="87.0" r="0.76" fill="rgb(74,195,107)"/><circle cx="537.1" cy="149.8" r="0.61" fill="rgb(75,199,109)"/><circle cx="514.1" cy="112.2" r="0.64" fill="rgb(55,146,80)"/><circle cx="589.7" cy="60.9" r="0.74" fill="rgb(68,181,99)"/><circle cx="572.7" cy="79.2" r="0.84" fill="rgb(57,152,83)"/><circle cx="528.1" cy="139.6" r="0.66" fill="rgb(57,152,83)"/><circle cx="556.4" cy="26.5" r="0.64" fill="rgb(68,181,99)"/><circle cx="551.8" cy="50.4" r="0.61" fill="rgb(62,165,90)"/><circle cx="652.7" cy="69.4" r="0.65" fill="rgb(71,189,103)"/><circle cx="564.8" cy="89.9" r="0.62" fill="rgb(55,145,79)"/><circle cx="575.9" cy="23.7" r="0.60" fill="rgb(76,200,110)"/><circle cx="534.7" cy="153.6" r="0.79" fill="rgb(74,197,108)"/><circle cx="535.4" cy="102.8" r="0.85" fill="rgb(61,163,89)"/><circle cx="605.1" cy="72.3" r="0.75" fill="rgb(66,174,95)"/><circle cx="594.0" cy="124.9" r="0.71" fill="rgb(66,176,96)"/><circle cx="506.2" cy="106.2" r="0.60" fill="rgb(65,173,95)"/><circle cx="571.3" cy="56.2" r="0.79" fill="rgb(73,194,106)"/><circle cx="620.7" cy="87.0" r="0.63" fill="rgb(55,145,79)"/><circle cx="572.1" cy="101.2" r="0.62" fill="rgb(63,167,91)"/><circle cx="527.7" cy="107.3" r="0.66" fill="rgb(68,180,99)"/><circle cx="656.4" cy="95.7" r="0.67" fill="rgb(58,154,84)"/><circle cx="582.6" cy="160.9" r="0.76" fill="rgb(64,169,92)"/><circle cx="530.2" cy="65.8" r="0.68" fill="rgb(58,155,85)"/><circle cx="583.4" cy="115.5" r="0.85" fill="rgb(66,176,96)"/><circle cx="600.1" cy="75.9" r="0.73" fill="rgb(73,194,106)"/><circle cx="537.2" cy="48.4" r="0.76" fill="rgb(74,196,107)"/><circle cx="511.2" cy="71.9" r="0.82" fill="rgb(56,149,81)"/><circle cx="533.8" cy="107.1" r="0.61" fill="rgb(57,150,82)"/><circle cx="563.5" cy="33.3" r="0.75" fill="rgb(71,189,103)"/><circle cx="552.3" cy="143.5" r="0.79" fill="rgb(57,152,83)"/><circle cx="537.8" cy="75.7" r="0.70" fill="rgb(75,199,109)"/><circle cx="563.6" cy="94.8" r="0.76" fill="rgb(59,156,85)"/><circle cx="636.7" cy="66.9" r="0.63" fill="rgb(69,182,100)"/><circle cx="527.3" cy="121.7" r="0.69" fill="rgb(63,168,92)"/><circle cx="581.7" cy="47.7" r="0.76" fill="rgb(55,147,80)"/><circle cx="591.0" cy="121.0" r="0.76" fill="rgb(71,187,102)"/><circle cx="601.0" cy="76.5" r="0.61" fill="rgb(56,148,81)"/><circle cx="562.0" cy="63.5" r="0.85" fill="rgb(61,161,88)"/><circle cx="512.7" cy="120.9" r="0.80" fill="rgb(68,180,99)"/><circle cx="586.4" cy="76.7" r="0.57" fill="rgb(63,168,92)"/><circle cx="568.9" cy="98.8" r="0.77" fill="rgb(64,170,93)"/><circle cx="555.8" cy="94.8" r="0.80" fill="rgb(58,154,84)"/><circle cx="590.2" cy="31.6" r="0.65" fill="rgb(58,155,85)"/><circle cx="544.2" cy="55.5" r="0.74" fill="rgb(54,143,78)"/><circle cx="534.1" cy="93.9" r="0.79" fill="rgb(67,178,97)"/><circle cx="545.2" cy="112.3" r="0.56" fill="rgb(53,140,77)"/><circle cx="619.0" cy="29.8" r="0.80" fill="rgb(73,194,106)"/><circle cx="553.9" cy="16.4" r="0.58" fill="rgb(73,193,106)"/><circle cx="546.9" cy="128.5" r="0.74" fill="rgb(62,164,90)"/><circle cx="513.9" cy="140.4" r="0.71" fill="rgb(64,171,94)"/><circle cx="539.7" cy="137.5" r="0.75" fill="rgb(62,165,90)"/><circle cx="527.1" cy="96.2" r="0.73" fill="rgb(65,172,94)"/><circle cx="624.7" cy="139.3" r="0.78" fill="rgb(74,195,107)"/><circle cx="604.1" cy="57.1" r="0.81" fill="rgb(67,178,97)"/><circle cx="557.9" cy="57.0" r="0.55" fill="rgb(75,198,108)"/><circle cx="505.1" cy="108.3" r="0.72" fill="rgb(61,162,89)"/><circle cx="547.9" cy="127.4" r="0.73" fill="rgb(71,188,103)"/><circle cx="620.4" cy="110.8" r="0.83" fill="rgb(58,155,85)"/><circle cx="510.0" cy="62.4" r="0.79" fill="rgb(66,176,96)"/><circle cx="551.2" cy="48.4" r="0.72" fill="rgb(74,196,107)"/><circle cx="567.7" cy="12.7" r="0.77" fill="rgb(68,179,98)"/><circle cx="554.0" cy="171.7" r="0.76" fill="rgb(53,142,78)"/><circle cx="587.8" cy="92.2" r="0.76" fill="rgb(60,160,88)"/><circle cx="558.1" cy="24.6" r="0.56" fill="rgb(58,155,85)"/><circle cx="536.8" cy="34.5" r="0.77" fill="rgb(58,155,85)"/><circle cx="614.6" cy="32.9" r="0.71" fill="rgb(70,185,101)"/><circle cx="543.5" cy="65.6" r="0.59" fill="rgb(67,177,97)"/><circle cx="603.4" cy="23.2" r="0.62" fill="rgb(55,146,80)"/><circle cx="530.2" cy="90.2" r="0.60" fill="rgb(61,162,89)"/><circle cx="510.2" cy="120.4" r="0.64" fill="rgb(71,189,103)"/><circle cx="539.5" cy="140.3" r="0.70" fill="rgb(72,190,104)"/><circle cx="608.4" cy="82.1" r="0.55" fill="rgb(73,193,106)"/><circle cx="612.3" cy="35.2" r="0.57" fill="rgb(71,187,102)"/><circle cx="564.1" cy="124.9" r="0.83" fill="rgb(56,148,81)"/><circle cx="563.7" cy="91.1" r="0.59" fill="rgb(74,196,107)"/><circle cx="596.9" cy="38.1" r="0.70" fill="rgb(56,149,81)"/><circle cx="593.3" cy="70.3" r="0.83" fill="rgb(74,196,107)"/><circle cx="593.0" cy="57.7" r="0.57" fill="rgb(53,140,77)"/><circle cx="613.3" cy="73.0" r="0.78" fill="rgb(74,197,108)"/><circle cx="588.1" cy="28.5" r="0.79" fill="rgb(73,193,106)"/><circle cx="656.5" cy="84.7" r="0.83" fill="rgb(56,148,81)"/><circle cx="553.6" cy="160.2" r="0.59" fill="rgb(69,183,100)"/><circle cx="555.4" cy="44.6" r="0.63" fill="rgb(72,191,105)"/><circle cx="551.0" cy="87.2" r="0.66" fill="rgb(74,195,107)"/><circle cx="617.0" cy="153.3" r="0.75" fill="rgb(53,141,77)"/><circle cx="629.2" cy="147.5" r="0.55" fill="rgb(71,189,103)"/><circle cx="548.9" cy="161.1" r="0.78" fill="rgb(75,198,108)"/><circle cx="509.2" cy="111.4" r="0.68" fill="rgb(57,150,82)"/><circle cx="620.8" cy="125.2" r="0.60" fill="rgb(57,151,83)"/><circle cx="640.4" cy="128.3" r="0.82" fill="rgb(55,145,79)"/><circle cx="556.2" cy="113.0" r="0.75" fill="rgb(64,169,92)"/><circle cx="614.4" cy="56.7" r="0.59" fill="rgb(63,168,92)"/><circle cx="550.8" cy="118.5" r="0.79" fill="rgb(67,177,97)"/><circle cx="563.4" cy="22.1" r="0.66" fill="rgb(66,174,95)"/><circle cx="622.7" cy="31.3" r="0.64" fill="rgb(54,144,79)"/><circle cx="565.4" cy="167.1" r="0.68" fill="rgb(58,153,84)"/><circle cx="546.9" cy="108.1" r="0.74" fill="rgb(74,196,107)"/><circle cx="530.7" cy="101.9" r="0.58" fill="rgb(75,198,108)"/><circle cx="593.5" cy="109.9" r="0.81" fill="rgb(63,168,92)"/><circle cx="577.4" cy="138.7" r="0.62" fill="rgb(55,146,80)"/><circle cx="559.8" cy="30.7" r="0.68" fill="rgb(65,172,94)"/><circle cx="633.7" cy="92.0" r="0.80" fill="rgb(62,164,90)"/><circle cx="624.1" cy="84.4" r="0.59" fill="rgb(68,181,99)"/><circle cx="534.5" cy="40.2" r="0.67" fill="rgb(75,199,109)"/><circle cx="607.2" cy="140.7" r="0.64" fill="rgb(56,148,81)"/><circle cx="528.0" cy="114.9" r="0.81" fill="rgb(75,198,108)"/><circle cx="588.4" cy="31.0" r="0.84" fill="rgb(68,179,98)"/><circle cx="627.7" cy="158.0" r="0.70" fill="rgb(68,180,99)"/><circle cx="645.2" cy="102.6" r="0.56" fill="rgb(72,191,105)"/><circle cx="620.2" cy="32.6" r="0.81" fill="rgb(61,163,89)"/><circle cx="615.3" cy="56.0" r="0.69" fill="rgb(53,141,77)"/><circle cx="549.3" cy="115.5" r="0.75" fill="rgb(72,191,105)"/><circle cx="631.6" cy="132.8" r="0.64" fill="rgb(58,154,84)"/><circle cx="593.1" cy="145.1" r="0.82" fill="rgb(69,182,100)"/><circle cx="638.2" cy="72.6" r="0.67" fill="rgb(61,163,89)"/><circle cx="585.6" cy="142.2" r="0.72" fill="rgb(55,147,80)"/><circle cx="505.0" cy="122.9" r="0.75" fill="rgb(63,166,91)"/><circle cx="522.2" cy="66.6" r="0.83" fill="rgb(58,155,85)"/><circle cx="530.1" cy="61.6" r="0.65" fill="rgb(63,167,91)"/><circle cx="519.6" cy="151.5" r="0.68" fill="rgb(70,186,102)"/><circle cx="637.8" cy="87.2" r="0.75" fill="rgb(58,153,84)"/><circle cx="586.3" cy="76.9" r="0.78" fill="rgb(60,159,87)"/><circle cx="608.5" cy="69.0" r="0.64" fill="rgb(71,189,103)"/><circle cx="619.9" cy="63.6" r="0.56" fill="rgb(54,144,79)"/><circle cx="638.0" cy="123.6" r="0.58" fill="rgb(69,184,101)"/><circle cx="611.9" cy="146.1" r="0.64" fill="rgb(71,187,102)"/><circle cx="632.6" cy="121.3" r="0.68" fill="rgb(68,181,99)"/><circle cx="594.7" cy="112.3" r="0.56" fill="rgb(60,160,88)"/><circle cx="573.8" cy="28.5" r="0.66" fill="rgb(59,157,86)"/><circle cx="619.6" cy="91.2" r="0.60" fill="rgb(64,169,92)"/><circle cx="600.3" cy="43.1" r="0.82" fill="rgb(70,185,101)"/><circle cx="580.6" cy="64.4" r="0.75" fill="rgb(70,185,101)"/><circle cx="532.7" cy="135.3" r="0.64" fill="rgb(57,152,83)"/><circle cx="552.1" cy="129.3" r="0.74" fill="rgb(58,155,85)"/><circle cx="615.9" cy="124.4" r="0.74" fill="rgb(58,154,84)"/><circle cx="575.8" cy="103.0" r="0.81" fill="rgb(69,184,101)"/><circle cx="592.6" cy="24.9" r="0.70" fill="rgb(60,159,87)"/><circle cx="545.7" cy="77.9" r="0.77" fill="rgb(58,153,84)"/><circle cx="538.5" cy="155.5" r="0.66" fill="rgb(66,176,96)"/><circle cx="554.1" cy="18.5" r="0.85" fill="rgb(55,145,79)"/><circle cx="652.8" cy="100.5" r="0.73" fill="rgb(53,141,77)"/><circle cx="556.8" cy="32.4" r="0.64" fill="rgb(68,181,99)"/><circle cx="597.1" cy="168.2" r="0.73" fill="rgb(66,175,96)"/><circle cx="598.8" cy="177.0" r="0.78" fill="rgb(64,170,93)"/><circle cx="589.8" cy="152.7" r="0.76" fill="rgb(53,140,77)"/><circle cx="561.9" cy="163.6" r="0.74" fill="rgb(56,148,81)"/><circle cx="515.6" cy="120.9" r="0.80" fill="rgb(69,182,100)"/><circle cx="566.9" cy="153.7" r="0.77" fill="rgb(57,151,83)"/><circle cx="593.2" cy="140.4" r="0.56" fill="rgb(61,161,88)"/><circle cx="557.1" cy="173.3" r="0.72" fill="rgb(57,152,83)"/><circle cx="610.4" cy="159.9" r="0.66" fill="rgb(55,147,80)"/><circle cx="513.3" cy="51.3" r="0.63" fill="rgb(60,159,87)"/><circle cx="538.1" cy="91.3" r="0.69" fill="rgb(74,196,107)"/><circle cx="632.8" cy="48.9" r="0.76" fill="rgb(69,183,100)"/><circle cx="542.0" cy="79.4" r="0.84" fill="rgb(76,200,110)"/><circle cx="574.0" cy="55.8" r="0.65" fill="rgb(58,154,84)"/><circle cx="595.5" cy="148.4" r="0.65" fill="rgb(74,197,108)"/><circle cx="570.9" cy="27.7" r="0.55" fill="rgb(60,158,86)"/><circle cx="612.3" cy="69.4" r="0.66" fill="rgb(58,153,84)"/><circle cx="549.1" cy="57.6" r="0.60" fill="rgb(65,172,94)"/><circle cx="579.0" cy="160.1" r="0.70" fill="rgb(63,168,92)"/><circle cx="541.1" cy="141.1" r="0.77" fill="rgb(72,192,105)"/><circle cx="537.0" cy="163.3" r="0.63" fill="rgb(72,190,104)"/><circle cx="602.3" cy="150.1" r="0.59" fill="rgb(75,198,108)"/><circle cx="625.4" cy="51.8" r="0.62" fill="rgb(55,146,80)"/><circle cx="579.6" cy="137.7" r="0.76" fill="rgb(57,152,83)"/><circle cx="583.3" cy="157.5" r="0.70" fill="rgb(73,193,106)"/><circle cx="610.0" cy="55.7" r="0.61" fill="rgb(54,143,78)"/><circle cx="542.9" cy="55.9" r="0.61" fill="rgb(64,170,93)"/><circle cx="575.1" cy="78.8" r="0.65" fill="rgb(59,157,86)"/><circle cx="522.6" cy="101.1" r="0.60" fill="rgb(74,196,107)"/><circle cx="585.8" cy="70.2" r="0.59" fill="rgb(68,179,98)"/><circle cx="548.0" cy="128.4" r="0.78" fill="rgb(67,177,97)"/><circle cx="504.1" cy="110.8" r="0.79" fill="rgb(61,161,88)"/><circle cx="597.5" cy="167.6" r="0.84" fill="rgb(53,141,77)"/><circle cx="606.4" cy="71.4" r="0.70" fill="rgb(66,174,95)"/><circle cx="643.5" cy="82.8" r="0.78" fill="rgb(64,169,92)"/><circle cx="578.8" cy="29.6" r="0.65" fill="rgb(55,146,80)"/><circle cx="599.3" cy="125.5" r="0.77" fill="rgb(66,175,96)"/><circle cx="552.1" cy="159.6" r="0.58" fill="rgb(63,166,91)"/><circle cx="537.4" cy="83.7" r="0.67" fill="rgb(68,180,99)"/><circle cx="596.8" cy="40.4" r="0.65" fill="rgb(72,191,105)"/><circle cx="607.6" cy="24.4" r="0.70" fill="rgb(57,152,83)"/><circle cx="643.4" cy="133.1" r="0.72" fill="rgb(69,183,100)"/><circle cx="604.5" cy="162.6" r="0.84" fill="rgb(54,144,79)"/><circle cx="636.6" cy="130.8" r="0.56" fill="rgb(70,186,102)"/><circle cx="619.2" cy="139.5" r="0.68" fill="rgb(64,171,94)"/><circle cx="520.0" cy="52.4" r="0.82" fill="rgb(59,157,86)"/><circle cx="528.7" cy="129.6" r="0.56" fill="rgb(65,173,95)"/><circle cx="630.5" cy="159.7" r="0.81" fill="rgb(71,187,102)"/><circle cx="579.6" cy="109.7" r="0.75" fill="rgb(68,180,99)"/><circle cx="554.2" cy="80.2" r="0.66" fill="rgb(63,166,91)"/><circle cx="620.7" cy="62.0" r="0.57" fill="rgb(69,184,101)"/><circle cx="604.5" cy="95.1" r="0.80" fill="rgb(67,177,97)"/><circle cx="577.1" cy="78.1" r="0.59" fill="rgb(69,184,101)"/><circle cx="583.4" cy="60.3" r="0.70" fill="rgb(71,189,103)"/><circle cx="588.2" cy="66.3" r="0.83" fill="rgb(74,196,107)"/><circle cx="575.0" cy="119.9" r="0.69" fill="rgb(55,147,80)"/><circle cx="543.2" cy="44.2" r="0.81" fill="rgb(74,196,107)"/><circle cx="546.0" cy="87.6" r="0.61" fill="rgb(65,173,95)"/><circle cx="624.0" cy="100.6" r="0.62" fill="rgb(60,160,88)"/><circle cx="611.2" cy="106.0" r="0.83" fill="rgb(55,145,79)"/><circle cx="505.3" cy="103.3" r="0.81" fill="rgb(69,184,101)"/><circle cx="591.3" cy="148.2" r="0.77" fill="rgb(71,188,103)"/><circle cx="595.0" cy="156.4" r="0.69" fill="rgb(67,178,97)"/><circle cx="563.0" cy="98.8" r="0.80" fill="rgb(66,175,96)"/><circle cx="605.3" cy="16.3" r="0.77" fill="rgb(55,147,80)"/><circle cx="553.8" cy="106.1" r="0.77" fill="rgb(71,187,102)"/><circle cx="537.3" cy="35.3" r="0.72" fill="rgb(65,173,95)"/><circle cx="618.0" cy="151.9" r="0.75" fill="rgb(54,143,78)"/><circle cx="531.9" cy="63.9" r="0.68" fill="rgb(71,188,103)"/><circle cx="621.8" cy="111.6" r="0.68" fill="rgb(68,180,99)"/><circle cx="525.1" cy="121.8" r="0.71" fill="rgb(61,163,89)"/><circle cx="603.3" cy="130.2" r="0.84" fill="rgb(60,159,87)"/><circle cx="587.7" cy="101.4" r="0.58" fill="rgb(70,186,102)"/><circle cx="546.0" cy="96.5" r="0.66" fill="rgb(55,147,80)"/><circle cx="579.7" cy="106.0" r="0.57" fill="rgb(74,195,107)"/><circle cx="560.6" cy="18.7" r="0.65" fill="rgb(69,183,100)"/><circle cx="648.7" cy="124.3" r="0.75" fill="rgb(73,193,106)"/><circle cx="511.0" cy="120.1" r="0.79" fill="rgb(74,195,107)"/><circle cx="530.7" cy="105.5" r="0.61" fill="rgb(58,154,84)"/><circle cx="604.0" cy="24.9" r="0.58" fill="rgb(61,163,89)"/><circle cx="513.8" cy="48.6" r="0.79" fill="rgb(70,185,101)"/><circle cx="645.9" cy="52.9" r="0.77" fill="rgb(63,167,91)"/><circle cx="643.6" cy="127.4" r="0.72" fill="rgb(69,182,100)"/><circle cx="597.2" cy="15.6" r="0.73" fill="rgb(71,188,103)"/><circle cx="628.1" cy="133.7" r="0.67" fill="rgb(63,166,91)"/><circle cx="512.1" cy="94.0" r="0.73" fill="rgb(55,147,80)"/><circle cx="544.8" cy="110.2" r="0.65" fill="rgb(74,197,108)"/><circle cx="512.8" cy="123.9" r="0.77" fill="rgb(57,151,83)"/><circle cx="501.8" cy="86.1" r="0.84" fill="rgb(70,186,102)"/><circle cx="550.2" cy="154.0" r="0.63" fill="rgb(55,147,80)"/><circle cx="609.4" cy="81.6" r="0.65" fill="rgb(65,172,94)"/><circle cx="606.2" cy="101.8" r="0.61" fill="rgb(66,175,96)"/><circle cx="616.9" cy="48.5" r="0.82" fill="rgb(56,149,81)"/><circle cx="539.3" cy="91.4" r="0.76" fill="rgb(67,177,97)"/><circle cx="515.4" cy="119.3" r="0.63" fill="rgb(60,158,86)"/><circle cx="509.2" cy="126.0" r="0.73" fill="rgb(57,150,82)"/><circle cx="509.6" cy="122.9" r="0.65" fill="rgb(70,186,102)"/><circle cx="524.6" cy="140.9" r="0.81" fill="rgb(62,165,90)"/><circle cx="609.9" cy="91.5" r="0.82" fill="rgb(61,163,89)"/><circle cx="511.3" cy="132.3" r="0.60" fill="rgb(59,156,85)"/><circle cx="618.5" cy="70.9" r="0.66" fill="rgb(58,153,84)"/><circle cx="575.1" cy="126.5" r="0.82" fill="rgb(74,196,107)"/><circle cx="650.5" cy="94.8" r="0.71" fill="rgb(65,172,94)"/><circle cx="587.9" cy="130.0" r="0.85" fill="rgb(61,161,88)"/><circle cx="584.1" cy="52.1" r="0.76" fill="rgb(69,183,100)"/><circle cx="560.1" cy="104.6" r="0.58" fill="rgb(59,156,85)"/><circle cx="612.3" cy="124.8" r="0.65" fill="rgb(64,171,94)"/><circle cx="579.4" cy="141.4" r="0.79" fill="rgb(59,157,86)"/><circle cx="549.9" cy="31.8" r="0.76" fill="rgb(54,143,78)"/><circle cx="626.9" cy="50.0" r="0.72" fill="rgb(55,147,80)"/><circle cx="637.8" cy="104.7" r="0.71" fill="rgb(74,195,107)"/><circle cx="605.4" cy="37.0" r="0.61" fill="rgb(63,167,91)"/><circle cx="520.9" cy="99.9" r="0.65" fill="rgb(72,191,105)"/><circle cx="654.0" cy="119.5" r="0.85" fill="rgb(59,156,85)"/><circle cx="584.3" cy="42.2" r="0.66" fill="rgb(71,189,103)"/><circle cx="612.0" cy="65.7" r="0.77" fill="rgb(55,146,80)"/><circle cx="648.6" cy="72.2" r="0.74" fill="rgb(67,178,97)"/><circle cx="561.6" cy="54.4" r="0.73" fill="rgb(59,157,86)"/><circle cx="586.0" cy="170.1" r="0.73" fill="rgb(55,145,79)"/><circle cx="558.9" cy="125.2" r="0.65" fill="rgb(63,167,91)"/><circle cx="571.5" cy="162.2" r="0.74" fill="rgb(74,195,107)"/><circle cx="547.9" cy="44.8" r="0.72" fill="rgb(57,151,83)"/><circle cx="625.6" cy="57.0" r="0.62" fill="rgb(53,141,77)"/><circle cx="524.7" cy="90.4" r="0.84" fill="rgb(66,175,96)"/><circle cx="526.4" cy="126.9" r="0.56" fill="rgb(57,150,82)"/><circle cx="584.2" cy="85.4" r="0.80" fill="rgb(60,160,88)"/><circle cx="598.1" cy="98.8" r="0.59" fill="rgb(57,151,83)"/><circle cx="559.0" cy="170.9" r="0.84" fill="rgb(69,184,101)"/><circle cx="547.6" cy="94.1" r="0.67" fill="rgb(74,197,108)"/><circle cx="614.9" cy="152.6" r="0.60" fill="rgb(60,160,88)"/><circle cx="529.0" cy="113.3" r="0.59" fill="rgb(57,151,83)"/><circle cx="535.0" cy="137.2" r="0.62" fill="rgb(66,175,96)"/><circle cx="531.0" cy="150.6" r="0.65" fill="rgb(65,173,95)"/><circle cx="646.1" cy="63.4" r="0.58" fill="rgb(75,198,108)"/><circle cx="579.5" cy="32.2" r="0.72" fill="rgb(68,180,99)"/><circle cx="608.5" cy="124.4" r="0.60" fill="rgb(55,146,80)"/><circle cx="544.3" cy="165.1" r="0.71" fill="rgb(53,141,77)"/><circle cx="632.5" cy="137.8" r="0.68" fill="rgb(72,190,104)"/><circle cx="617.1" cy="81.4" r="0.59" fill="rgb(54,143,78)"/><circle cx="583.8" cy="24.9" r="0.65" fill="rgb(61,163,89)"/><circle cx="534.9" cy="29.0" r="0.69" fill="rgb(64,169,92)"/><circle cx="596.5" cy="49.7" r="0.76" fill="rgb(60,160,88)"/><circle cx="614.6" cy="123.8" r="0.66" fill="rgb(54,143,78)"/><circle cx="561.5" cy="44.9" r="0.66" fill="rgb(74,195,107)"/><circle cx="521.7" cy="73.8" r="0.63" fill="rgb(63,168,92)"/><circle cx="632.0" cy="45.2" r="0.74" fill="rgb(60,159,87)"/><circle cx="556.9" cy="30.9" r="0.56" fill="rgb(63,167,91)"/><circle cx="600.1" cy="38.0" r="0.83" fill="rgb(66,175,96)"/><circle cx="610.9" cy="169.1" r="0.58" fill="rgb(66,174,95)"/><circle cx="601.2" cy="82.3" r="0.84" fill="rgb(56,148,81)"/><circle cx="520.7" cy="119.4" r="0.76" fill="rgb(73,193,106)"/><circle cx="595.3" cy="87.3" r="0.77" fill="rgb(53,140,77)"/><circle cx="581.0" cy="13.6" r="0.71" fill="rgb(62,164,90)"/><circle cx="583.0" cy="62.2" r="0.81" fill="rgb(65,173,95)"/><circle cx="582.4" cy="31.1" r="0.79" fill="rgb(64,170,93)"/><circle cx="651.2" cy="97.8" r="0.75" fill="rgb(58,154,84)"/><circle cx="556.4" cy="164.0" r="0.83" fill="rgb(64,171,94)"/><circle cx="629.9" cy="107.7" r="0.76" fill="rgb(56,148,81)"/><circle cx="522.6" cy="115.0" r="0.75" fill="rgb(72,191,105)"/><circle cx="547.8" cy="155.3" r="0.82" fill="rgb(70,185,101)"/><circle cx="566.6" cy="37.5" r="0.72" fill="rgb(73,194,106)"/><circle cx="633.5" cy="98.8" r="0.80" fill="rgb(73,193,106)"/><circle cx="524.0" cy="156.2" r="0.70" fill="rgb(68,181,99)"/><circle cx="625.7" cy="66.1" r="0.72" fill="rgb(55,145,79)"/><circle cx="561.4" cy="134.6" r="0.74" fill="rgb(63,168,92)"/><circle cx="524.5" cy="116.7" r="0.72" fill="rgb(73,194,106)"/><circle cx="537.8" cy="111.6" r="0.71" fill="rgb(67,178,97)"/><circle cx="506.5" cy="102.2" r="0.62" fill="rgb(70,186,102)"/><circle cx="532.9" cy="118.5" r="0.65" fill="rgb(65,172,94)"/><circle cx="615.0" cy="134.9" r="0.80" fill="rgb(69,182,100)"/><circle cx="614.9" cy="85.2" r="0.65" fill="rgb(58,154,84)"/><circle cx="544.6" cy="121.9" r="0.71" fill="rgb(53,140,77)"/><circle cx="558.7" cy="161.8" r="0.67" fill="rgb(66,175,96)"/><circle cx="569.3" cy="22.1" r="0.76" fill="rgb(66,176,96)"/><circle cx="566.9" cy="38.6" r="0.81" fill="rgb(64,169,92)"/><circle cx="558.9" cy="110.9" r="0.73" fill="rgb(76,200,110)"/><circle cx="607.6" cy="168.1" r="0.56" fill="rgb(74,196,107)"/><circle cx="565.8" cy="14.6" r="0.60" fill="rgb(74,195,107)"/><circle cx="570.0" cy="167.9" r="0.58" fill="rgb(67,178,97)"/><circle cx="625.9" cy="97.5" r="0.67" fill="rgb(61,162,89)"/><circle cx="579.8" cy="12.8" r="0.65" fill="rgb(74,196,107)"/><circle cx="617.1" cy="69.0" r="0.59" fill="rgb(60,159,87)"/><circle cx="582.0" cy="83.0" r="0.80" fill="rgb(73,194,106)"/><circle cx="632.7" cy="119.7" r="0.64" fill="rgb(70,186,102)"/><circle cx="589.6" cy="154.6" r="0.66" fill="rgb(53,140,77)"/><circle cx="636.8" cy="95.0" r="0.63" fill="rgb(61,161,88)"/><circle cx="654.9" cy="108.7" r="0.76" fill="rgb(59,156,85)"/><circle cx="565.5" cy="77.7" r="0.83" fill="rgb(66,175,96)"/><circle cx="648.9" cy="69.4" r="0.82" fill="rgb(59,156,85)"/><circle cx="581.2" cy="45.5" r="0.83" fill="rgb(53,141,77)"/><circle cx="577.6" cy="147.0" r="0.57" fill="rgb(67,177,97)"/><circle cx="524.6" cy="75.7" r="0.58" fill="rgb(64,169,92)"/><circle cx="597.5" cy="84.6" r="0.63" fill="rgb(69,184,101)"/><circle cx="642.1" cy="143.6" r="0.85" fill="rgb(71,187,102)"/></g>
<rect x="497.6" y="2.8" width="182.7" height="182.7" fill="none" stroke="#111" stroke-width="1" opacity="0.8"/>
</g>
<text x="278.40" y="26.80" font-size="23.5" text-anchor="end" font-weight="bold" fill="#fff">pH 3</text>
<text x="477.40" y="26.80" font-size="23.5" text-anchor="end" font-weight="bold" fill="#fff">pH 4</text>
<text x="677.80" y="26.80" font-size="23.5" text-anchor="end" font-weight="bold" fill="#fff">pH 5</text>
<text x="106.30" y="174.70" font-size="22.5" text-anchor="start" font-weight="normal" fill="#fff">1 mm</text>
<rect x="109.0" y="178.1" width="49.2" height="5.6" fill="#fff"/>
<text x="390.70" y="175.40" font-size="22.5" text-anchor="start" font-weight="normal" fill="#fff">1 mm</text>
<rect x="395.7" y="179.1" width="49.1" height="5.6" fill="#fff"/>
<text x="620.70" y="174.80" font-size="22.5" text-anchor="start" font-weight="normal" fill="#fff">1 mm</text>
<rect x="627.1" y="177.2" width="49.0" height="5.6" fill="#fff"/>
<text x="11.00" y="41.60" font-size="38.0" text-anchor="start" font-weight="bold" fill="#000">A</text>
<text x="10.20" y="238.10" font-size="38.0" text-anchor="start" font-weight="bold" fill="#000">B</text>
<text x="10.50" y="566.30" font-size="38.0" text-anchor="start" font-weight="bold" fill="#000">C</text>
<text x="11.60" y="907.50" font-size="38.0" text-anchor="start" font-weight="bold" fill="#000">D</text>
<rect x="98.50" y="212.00" width="581.50" height="286.00" fill="none" stroke="#444444" stroke-width="1.3"/>
<text x="88.50" y="506.20" font-size="23.0" text-anchor="end" font-weight="normal" fill="#000">0</text>
<text x="88.50" y="434.70" font-size="23.0" text-anchor="end" font-weight="normal" fill="#000">3</text>
<text x="88.50" y="363.20" font-size="23.0" text-anchor="end" font-weight="normal" fill="#000">6</text>
<text x="88.50" y="291.70" font-size="23.0" text-anchor="end" font-weight="normal" fill="#000">9</text>
<text x="88.50" y="220.20" font-size="23.0" text-anchor="end" font-weight="normal" fill="#000">12</text>
<text x="0.00" y="0.00" font-size="23.5" text-anchor="middle" font-weight="normal" fill="#000" transform="translate(51.2,355) rotate(-90)">Diameter (mm)</text>
<text x="206.00" y="238.90" font-size="23.0" text-anchor="middle" font-weight="bold" fill="#000">pH 3</text>
<text x="384.20" y="238.90" font-size="23.0" text-anchor="middle" font-weight="bold" fill="#000">pH 4</text>
<text x="567.50" y="238.90" font-size="23.0" text-anchor="middle" font-weight="bold" fill="#000">pH 5</text>
<text x="134.20" y="518.40" font-size="23.0" text-anchor="start" font-weight="normal" fill="#000">n</text><rect x="154.90" y="509.35" width="11.8" height="1.5" fill="#000"/><rect x="154.90" y="514.25" width="11.8" height="1.5" fill="#000"/>
<text x="150.70" y="547.60" font-size="23.0" text-anchor="middle" font-weight="normal" fill="#000">57</text>
<text x="188.80" y="518.40" font-size="23.0" text-anchor="start" font-weight="normal" fill="#000">n</text><rect x="209.50" y="509.35" width="11.8" height="1.5" fill="#000"/><rect x="209.50" y="514.25" width="11.8" height="1.5" fill="#000"/>
<text x="205.30" y="547.60" font-size="23.0" text-anchor="middle" font-weight="normal" fill="#000">89</text>
<text x="243.60" y="518.40" font-size="23.0" text-anchor="start" font-weight="normal" fill="#000">n</text><rect x="264.30" y="509.35" width="11.8" height="1.5" fill="#000"/><rect x="264.30" y="514.25" width="11.8" height="1.5" fill="#000"/>
<text x="260.10" y="547.60" font-size="23.0" text-anchor="middle" font-weight="normal" fill="#000">76</text>
<text x="312.50" y="518.40" font-size="23.0" text-anchor="start" font-weight="normal" fill="#000">n</text><rect x="333.20" y="509.35" width="11.8" height="1.5" fill="#000"/><rect x="333.20" y="514.25" width="11.8" height="1.5" fill="#000"/>
<text x="329.00" y="547.60" font-size="23.0" text-anchor="middle" font-weight="normal" fill="#000">76</text>
<text x="367.50" y="518.40" font-size="23.0" text-anchor="start" font-weight="normal" fill="#000">n</text><rect x="388.20" y="509.35" width="11.8" height="1.5" fill="#000"/><rect x="388.20" y="514.25" width="11.8" height="1.5" fill="#000"/>
<text x="384.00" y="547.60" font-size="23.0" text-anchor="middle" font-weight="normal" fill="#000">112</text>
<text x="422.50" y="518.40" font-size="23.0" text-anchor="start" font-weight="normal" fill="#000">n</text><rect x="443.20" y="509.35" width="11.8" height="1.5" fill="#000"/><rect x="443.20" y="514.25" width="11.8" height="1.5" fill="#000"/>
<text x="439.00" y="547.60" font-size="23.0" text-anchor="middle" font-weight="normal" fill="#000">98</text>
<text x="495.50" y="518.40" font-size="23.0" text-anchor="start" font-weight="normal" fill="#000">n</text><rect x="516.20" y="509.35" width="11.8" height="1.5" fill="#000"/><rect x="516.20" y="514.25" width="11.8" height="1.5" fill="#000"/>
<text x="512.00" y="547.60" font-size="23.0" text-anchor="middle" font-weight="normal" fill="#000">78</text>
<text x="550.70" y="518.40" font-size="23.0" text-anchor="start" font-weight="normal" fill="#000">n</text><rect x="571.40" y="509.35" width="11.8" height="1.5" fill="#000"/><rect x="571.40" y="514.25" width="11.8" height="1.5" fill="#000"/>
<text x="567.20" y="547.60" font-size="23.0" text-anchor="middle" font-weight="normal" fill="#000">103</text>
<text x="605.50" y="518.40" font-size="23.0" text-anchor="start" font-weight="normal" fill="#000">n</text><rect x="626.20" y="509.35" width="11.8" height="1.5" fill="#000"/><rect x="626.20" y="514.25" width="11.8" height="1.5" fill="#000"/>
<text x="622.00" y="547.60" font-size="23.0" text-anchor="middle" font-weight="normal" fill="#000">83</text>
<path d="M152.70,226.50 C152.75,230.42 152.82,243.58 153.00,250.00 C153.18,256.42 153.70,261.33 153.80,265.00 C153.90,268.67 153.70,268.67 153.60,272.00 C153.50,275.33 153.23,281.67 153.20,285.00 C153.17,288.33 153.43,287.83 153.40,292.00 C153.37,296.17 153.03,303.67 153.00,310.00 C152.97,316.33 153.15,325.00 153.20,330.00 C153.25,335.00 153.27,337.00 153.30,340.00 C153.33,343.00 153.25,345.77 153.40,348.00 C153.55,350.23 153.85,351.02 154.20,353.40 C154.55,355.78 155.05,359.33 155.50,362.30 C155.95,365.27 156.48,368.25 156.90,371.20 C157.32,374.15 157.63,377.33 158.00,380.00 C158.37,382.67 158.73,385.27 159.10,387.20 C159.47,389.13 159.72,390.27 160.20,391.60 C160.68,392.93 160.72,393.70 162.00,395.20 C163.28,396.70 166.08,398.82 167.90,400.60 C169.72,402.38 171.48,404.28 172.90,405.90 C174.32,407.52 175.58,408.97 176.40,410.30 C177.22,411.63 177.93,412.70 177.80,413.90 C177.67,415.10 177.00,416.17 175.60,417.50 C174.20,418.83 171.48,420.42 169.40,421.90 C167.32,423.38 164.82,425.05 163.10,426.40 C161.38,427.75 160.22,428.82 159.10,430.00 C157.98,431.18 156.97,432.70 156.40,433.50 C155.83,434.30 155.82,434.58 155.70,434.80 L149.10,434.80 C148.98,434.58 148.97,434.30 148.40,433.50 C147.83,432.70 146.82,431.18 145.70,430.00 C144.58,428.82 143.42,427.75 141.70,426.40 C139.98,425.05 137.48,423.38 135.40,421.90 C133.32,420.42 130.60,418.83 129.20,417.50 C127.80,416.17 127.13,415.10 127.00,413.90 C126.87,412.70 127.58,411.63 128.40,410.30 C129.22,408.97 130.48,407.52 131.90,405.90 C133.32,404.28 135.08,402.38 136.90,400.60 C138.72,398.82 141.52,396.70 142.80,395.20 C144.08,393.70 144.12,392.93 144.60,391.60 C145.08,390.27 145.33,389.13 145.70,387.20 C146.07,385.27 146.43,382.67 146.80,380.00 C147.17,377.33 147.48,374.15 147.90,371.20 C148.32,368.25 148.85,365.27 149.30,362.30 C149.75,359.33 150.25,355.78 150.60,353.40 C150.95,351.02 151.25,350.23 151.40,348.00 C151.55,345.77 151.47,343.00 151.50,340.00 C151.53,337.00 151.55,335.00 151.60,330.00 C151.65,325.00 151.83,316.33 151.80,310.00 C151.77,303.67 151.43,296.17 151.40,292.00 C151.37,287.83 151.63,288.33 151.60,285.00 C151.57,281.67 151.30,275.33 151.20,272.00 C151.10,268.67 150.90,268.67 151.00,265.00 C151.10,261.33 151.62,256.42 151.80,250.00 C151.98,243.58 152.05,230.42 152.10,226.50 Z" fill="#C1272D" stroke="#000" stroke-width="1.80" stroke-linejoin="round"/>
<line x1="152.40" y1="360.50" x2="152.40" y2="434.80" stroke="#000" stroke-width="1.7"/>
<rect x="149.10" y="390.40" width="6.60" height="25.80" fill="#C1272D" stroke="#000" stroke-width="1.7"/>
<line x1="149.10" y1="410.80" x2="155.70" y2="410.80" stroke="#000" stroke-width="3.1"/>
<circle cx="152.40" cy="226.50" r="3.40" fill="#000"/>
<circle cx="152.40" cy="264.80" r="3.40" fill="#000"/>
<circle cx="152.40" cy="270.50" r="3.40" fill="#000"/>
<circle cx="152.40" cy="292.10" r="3.40" fill="#000"/>
<circle cx="152.40" cy="337.70" r="3.40" fill="#000"/>
<path d="M207.40,310.00 C207.43,313.33 207.55,325.50 207.60,330.00 C207.65,334.50 207.68,334.17 207.70,337.00 C207.72,339.83 207.68,343.50 207.70,347.00 C207.72,350.50 207.77,354.50 207.80,358.00 C207.83,361.50 207.87,365.00 207.90,368.00 C207.93,371.00 207.58,373.27 208.00,376.00 C208.42,378.73 209.62,381.90 210.40,384.40 C211.18,386.90 211.87,388.95 212.70,391.00 C213.53,393.05 214.38,395.02 215.40,396.70 C216.42,398.38 217.22,399.62 218.80,401.10 C220.38,402.58 222.97,404.12 224.90,405.60 C226.83,407.08 229.12,408.62 230.40,410.00 C231.68,411.38 232.98,412.60 232.60,413.90 C232.22,415.20 230.13,416.42 228.10,417.80 C226.07,419.18 222.97,420.72 220.40,422.20 C217.83,423.68 214.55,425.40 212.70,426.70 C210.85,428.00 210.03,428.90 209.30,430.00 C208.57,431.10 208.50,431.92 208.30,433.30 C208.10,434.68 208.13,437.47 208.10,438.30 L206.10,438.30 C206.07,437.47 206.10,434.68 205.90,433.30 C205.70,431.92 205.63,431.10 204.90,430.00 C204.17,428.90 203.35,428.00 201.50,426.70 C199.65,425.40 196.37,423.68 193.80,422.20 C191.23,420.72 188.13,419.18 186.10,417.80 C184.07,416.42 181.98,415.20 181.60,413.90 C181.22,412.60 182.52,411.38 183.80,410.00 C185.08,408.62 187.37,407.08 189.30,405.60 C191.23,404.12 193.82,402.58 195.40,401.10 C196.98,399.62 197.78,398.38 198.80,396.70 C199.82,395.02 200.67,393.05 201.50,391.00 C202.33,388.95 203.02,386.90 203.80,384.40 C204.58,381.90 205.78,378.73 206.20,376.00 C206.62,373.27 206.27,371.00 206.30,368.00 C206.33,365.00 206.37,361.50 206.40,358.00 C206.43,354.50 206.48,350.50 206.50,347.00 C206.52,343.50 206.48,339.83 206.50,337.00 C206.52,334.17 206.55,334.50 206.60,330.00 C206.65,325.50 206.77,313.33 206.80,310.00 Z" fill="#0000A0" stroke="#000" stroke-width="1.80" stroke-linejoin="round"/>
<line x1="207.10" y1="362.00" x2="207.10" y2="436.00" stroke="#000" stroke-width="1.7"/>
<rect x="203.80" y="398.90" width="6.60" height="17.20" fill="#0000A0" stroke="#000" stroke-width="1.7"/>
<line x1="203.80" y1="411.60" x2="210.40" y2="411.60" stroke="#000" stroke-width="3.1"/>
<circle cx="207.10" cy="310.00" r="3.40" fill="#000"/>
<circle cx="207.10" cy="336.70" r="3.40" fill="#000"/>
<circle cx="207.10" cy="347.20" r="3.40" fill="#000"/>
<circle cx="207.10" cy="358.30" r="3.40" fill="#000"/>
<circle cx="207.10" cy="366.50" r="3.40" fill="#000"/>
<circle cx="207.10" cy="370.00" r="3.40" fill="#000"/>
<circle cx="207.10" cy="437.00" r="3.40" fill="#000"/>
<path d="M261.90,303.00 C261.93,305.83 261.98,313.17 262.10,320.00 C262.22,326.83 262.48,337.33 262.60,344.00 C262.72,350.67 262.77,354.55 262.80,360.00 C262.83,365.45 262.80,372.53 262.80,376.70 C262.80,380.87 262.63,382.88 262.80,385.00 C262.97,387.12 262.98,387.73 263.80,389.40 C264.62,391.07 266.30,393.13 267.70,395.00 C269.10,396.87 270.90,398.93 272.20,400.60 C273.50,402.27 274.12,403.53 275.50,405.00 C276.88,406.47 278.83,408.02 280.50,409.40 C282.17,410.78 284.38,412.27 285.50,413.30 C286.62,414.33 287.20,414.77 287.20,415.60 C287.20,416.43 287.08,417.10 285.50,418.30 C283.92,419.50 280.12,421.50 277.70,422.80 C275.28,424.10 273.18,425.08 271.00,426.10 C268.82,427.12 265.67,428.43 264.60,428.90 L258.60,428.90 C257.53,428.43 254.38,427.12 252.20,426.10 C250.02,425.08 247.92,424.10 245.50,422.80 C243.08,421.50 239.28,419.50 237.70,418.30 C236.12,417.10 236.00,416.43 236.00,415.60 C236.00,414.77 236.58,414.33 237.70,413.30 C238.82,412.27 241.03,410.78 242.70,409.40 C244.37,408.02 246.32,406.47 247.70,405.00 C249.08,403.53 249.70,402.27 251.00,400.60 C252.30,398.93 254.10,396.87 255.50,395.00 C256.90,393.13 258.58,391.07 259.40,389.40 C260.22,387.73 260.23,387.12 260.40,385.00 C260.57,382.88 260.40,380.87 260.40,376.70 C260.40,372.53 260.37,365.45 260.40,360.00 C260.43,354.55 260.48,350.67 260.60,344.00 C260.72,337.33 260.98,326.83 261.10,320.00 C261.22,313.17 261.27,305.83 261.30,303.00 Z" fill="#EBCB15" stroke="#000" stroke-width="1.80" stroke-linejoin="round"/>
<line x1="261.60" y1="395.00" x2="261.60" y2="428.90" stroke="#000" stroke-width="1.7"/>
<rect x="258.30" y="404.40" width="6.60" height="13.40" fill="#EBCB15" stroke="#000" stroke-width="1.7"/>
<line x1="258.30" y1="411.70" x2="264.90" y2="411.70" stroke="#000" stroke-width="3.1"/>
<circle cx="261.60" cy="303.00" r="3.40" fill="#000"/>
<circle cx="261.60" cy="343.90" r="3.40" fill="#000"/>
<circle cx="261.60" cy="360.00" r="3.40" fill="#000"/>
<circle cx="261.60" cy="364.40" r="3.40" fill="#000"/>
<circle cx="261.60" cy="376.70" r="3.40" fill="#000"/>
<path d="M334.80,310.30 C334.82,310.92 334.90,311.55 334.90,314.00 C334.90,316.45 334.80,320.80 334.80,325.00 C334.80,329.20 334.90,334.20 334.90,339.20 C334.90,344.20 334.80,349.87 334.80,355.00 C334.80,360.13 334.85,366.17 334.90,370.00 C334.95,373.83 334.95,375.68 335.10,378.00 C335.25,380.32 335.38,381.88 335.80,383.90 C336.22,385.92 336.85,388.32 337.60,390.10 C338.35,391.88 339.42,393.25 340.30,394.60 C341.18,395.95 342.23,397.02 342.90,398.20 C343.57,399.38 343.40,400.52 344.30,401.70 C345.20,402.88 346.60,404.12 348.30,405.30 C350.00,406.48 352.65,407.62 354.50,408.80 C356.35,409.98 358.43,411.50 359.40,412.40 C360.37,413.30 360.67,413.45 360.30,414.20 C359.93,414.95 359.05,415.87 357.20,416.90 C355.35,417.93 351.87,419.22 349.20,420.40 C346.53,421.58 343.28,422.97 341.20,424.00 C339.12,425.03 337.67,425.87 336.70,426.60 C335.73,427.33 335.72,427.00 335.40,428.40 C335.08,429.80 334.90,431.40 334.80,435.00 C334.70,438.60 334.78,445.83 334.80,450.00 C334.82,454.17 334.92,456.08 334.90,460.00 C334.88,463.92 334.73,471.25 334.70,473.50 L333.90,473.50 C333.87,471.25 333.72,463.92 333.70,460.00 C333.68,456.08 333.78,454.17 333.80,450.00 C333.82,445.83 333.90,438.60 333.80,435.00 C333.70,431.40 333.52,429.80 333.20,428.40 C332.88,427.00 332.87,427.33 331.90,426.60 C330.93,425.87 329.48,425.03 327.40,424.00 C325.32,422.97 322.07,421.58 319.40,420.40 C316.73,419.22 313.25,417.93 311.40,416.90 C309.55,415.87 308.67,414.95 308.30,414.20 C307.93,413.45 308.23,413.30 309.20,412.40 C310.17,411.50 312.25,409.98 314.10,408.80 C315.95,407.62 318.60,406.48 320.30,405.30 C322.00,404.12 323.40,402.88 324.30,401.70 C325.20,400.52 325.03,399.38 325.70,398.20 C326.37,397.02 327.42,395.95 328.30,394.60 C329.18,393.25 330.25,391.88 331.00,390.10 C331.75,388.32 332.38,385.92 332.80,383.90 C333.22,381.88 333.35,380.32 333.50,378.00 C333.65,375.68 333.65,373.83 333.70,370.00 C333.75,366.17 333.80,360.13 333.80,355.00 C333.80,349.87 333.70,344.20 333.70,339.20 C333.70,334.20 333.80,329.20 333.80,325.00 C333.80,320.80 333.70,316.45 333.70,314.00 C333.70,311.55 333.78,310.92 333.80,310.30 Z" fill="#C1272D" stroke="#000" stroke-width="1.80" stroke-linejoin="round"/>
<line x1="334.30" y1="390.10" x2="334.30" y2="423.50" stroke="#000" stroke-width="1.7"/>
<rect x="331.00" y="403.30" width="6.60" height="13.60" fill="#C1272D" stroke="#000" stroke-width="1.7"/>
<line x1="331.00" y1="412.10" x2="337.60" y2="412.10" stroke="#000" stroke-width="3.1"/>
<circle cx="334.30" cy="310.30" r="3.40" fill="#000"/>
<circle cx="334.30" cy="313.80" r="3.40" fill="#000"/>
<circle cx="334.30" cy="339.20" r="3.40" fill="#000"/>
<circle cx="334.30" cy="375.00" r="3.40" fill="#000"/>
<circle cx="334.30" cy="378.50" r="3.40" fill="#000"/>
<circle cx="334.30" cy="381.20" r="3.40" fill="#000"/>
<circle cx="334.30" cy="452.90" r="3.40" fill="#000"/>
<circle cx="334.30" cy="459.70" r="3.40" fill="#000"/>
<circle cx="334.30" cy="470.80" r="3.40" fill="#000"/>
<circle cx="334.30" cy="472.80" r="3.40" fill="#000"/>
<path d="M389.50,360.40 C389.57,362.57 389.83,369.97 389.90,373.40 C389.97,376.83 389.87,378.10 389.90,381.00 C389.93,383.90 389.78,389.00 390.10,390.80 C390.42,392.60 390.85,391.30 391.80,391.80 C392.75,392.30 395.00,393.05 395.80,393.80 C396.60,394.55 396.77,395.47 396.60,396.30 C396.43,397.13 395.52,398.07 394.80,398.80 C394.08,399.53 392.00,399.88 392.30,400.70 C392.60,401.52 394.72,402.70 396.60,403.70 C398.48,404.70 401.18,405.90 403.60,406.70 C406.02,407.50 409.18,408.00 411.10,408.50 C413.02,409.00 415.50,409.00 415.10,409.70 C414.70,410.40 411.10,411.70 408.70,412.70 C406.30,413.70 403.18,414.70 400.70,415.70 C398.22,416.70 395.53,417.88 393.80,418.70 C392.07,419.52 390.95,418.72 390.30,420.60 C389.65,422.48 389.95,425.10 389.90,430.00 C389.85,434.90 390.07,442.43 390.00,450.00 C389.93,457.57 389.58,471.17 389.50,475.40 L388.70,475.40 C388.62,471.17 388.27,457.57 388.20,450.00 C388.13,442.43 388.35,434.90 388.30,430.00 C388.25,425.10 388.55,422.48 387.90,420.60 C387.25,418.72 386.13,419.52 384.40,418.70 C382.67,417.88 379.98,416.70 377.50,415.70 C375.02,414.70 371.90,413.70 369.50,412.70 C367.10,411.70 363.50,410.40 363.10,409.70 C362.70,409.00 365.18,409.00 367.10,408.50 C369.02,408.00 372.18,407.50 374.60,406.70 C377.02,405.90 379.72,404.70 381.60,403.70 C383.48,402.70 385.60,401.52 385.90,400.70 C386.20,399.88 384.12,399.53 383.40,398.80 C382.68,398.07 381.77,397.13 381.60,396.30 C381.43,395.47 381.60,394.55 382.40,393.80 C383.20,393.05 385.45,392.30 386.40,391.80 C387.35,391.30 387.78,392.60 388.10,390.80 C388.42,389.00 388.27,383.90 388.30,381.00 C388.33,378.10 388.23,376.83 388.30,373.40 C388.37,369.97 388.63,362.57 388.70,360.40 Z" fill="#0000A0" stroke="#000" stroke-width="1.80" stroke-linejoin="round"/>
<line x1="389.10" y1="397.80" x2="389.10" y2="417.70" stroke="#000" stroke-width="1.7"/>
<rect x="385.80" y="406.70" width="6.60" height="6.50" fill="#0000A0" stroke="#000" stroke-width="1.7"/>
<line x1="385.80" y1="410.70" x2="392.40" y2="410.70" stroke="#000" stroke-width="3.1"/>
<circle cx="389.10" cy="360.40" r="3.40" fill="#000"/>
<circle cx="389.10" cy="373.40" r="3.40" fill="#000"/>
<circle cx="389.10" cy="381.00" r="3.40" fill="#000"/>
<circle cx="389.10" cy="394.30" r="3.40" fill="#000"/>
<circle cx="389.10" cy="432.60" r="3.40" fill="#000"/>
<circle cx="389.10" cy="440.50" r="3.40" fill="#000"/>
<circle cx="389.10" cy="451.50" r="3.40" fill="#000"/>
<circle cx="389.10" cy="455.50" r="3.40" fill="#000"/>
<circle cx="389.10" cy="466.40" r="3.40" fill="#000"/>
<circle cx="389.10" cy="474.40" r="3.40" fill="#000"/>
<path d="M444.30,324.10 C444.37,327.73 444.63,339.73 444.70,345.90 C444.77,352.07 444.70,356.25 444.70,361.10 C444.70,365.95 444.63,370.68 444.70,375.00 C444.77,379.32 444.75,384.58 445.10,387.00 C445.45,389.42 445.47,388.55 446.80,389.50 C448.13,390.45 451.32,391.65 453.10,392.70 C454.88,393.75 456.97,394.65 457.50,395.80 C458.03,396.95 456.82,398.33 456.30,399.60 C455.78,400.87 453.67,402.13 454.40,403.40 C455.13,404.67 458.38,405.93 460.70,407.20 C463.02,408.47 466.83,410.17 468.30,411.00 C469.77,411.83 470.55,411.37 469.50,412.20 C468.45,413.03 464.73,414.73 462.00,416.00 C459.27,417.27 455.63,418.53 453.10,419.80 C450.57,421.07 448.20,422.23 446.80,423.60 C445.40,424.97 445.10,425.27 444.70,428.00 C444.30,430.73 444.45,435.50 444.40,440.00 C444.35,444.50 444.37,450.83 444.40,455.00 C444.43,459.17 444.62,461.70 444.60,465.00 C444.58,468.30 444.35,473.17 444.30,474.80 L443.50,474.80 C443.45,473.17 443.22,468.30 443.20,465.00 C443.18,461.70 443.37,459.17 443.40,455.00 C443.43,450.83 443.45,444.50 443.40,440.00 C443.35,435.50 443.50,430.73 443.10,428.00 C442.70,425.27 442.40,424.97 441.00,423.60 C439.60,422.23 437.23,421.07 434.70,419.80 C432.17,418.53 428.53,417.27 425.80,416.00 C423.07,414.73 419.35,413.03 418.30,412.20 C417.25,411.37 418.03,411.83 419.50,411.00 C420.97,410.17 424.78,408.47 427.10,407.20 C429.42,405.93 432.67,404.67 433.40,403.40 C434.13,402.13 432.02,400.87 431.50,399.60 C430.98,398.33 429.77,396.95 430.30,395.80 C430.83,394.65 432.92,393.75 434.70,392.70 C436.48,391.65 439.67,390.45 441.00,389.50 C442.33,388.55 442.35,389.42 442.70,387.00 C443.05,384.58 443.03,379.32 443.10,375.00 C443.17,370.68 443.10,365.95 443.10,361.10 C443.10,356.25 443.03,352.07 443.10,345.90 C443.17,339.73 443.43,327.73 443.50,324.10 Z" fill="#EBCB15" stroke="#000" stroke-width="1.80" stroke-linejoin="round"/>
<line x1="443.90" y1="389.50" x2="443.90" y2="423.60" stroke="#000" stroke-width="1.7"/>
<rect x="440.60" y="399.00" width="6.60" height="14.30" fill="#EBCB15" stroke="#000" stroke-width="1.7"/>
<line x1="440.60" y1="411.60" x2="447.20" y2="411.60" stroke="#000" stroke-width="3.1"/>
<circle cx="443.90" cy="324.10" r="3.40" fill="#000"/>
<circle cx="443.90" cy="345.90" r="3.40" fill="#000"/>
<circle cx="443.90" cy="361.10" r="3.40" fill="#000"/>
<circle cx="443.90" cy="470.30" r="3.40" fill="#000"/>
<circle cx="443.90" cy="474.10" r="3.40" fill="#000"/>
<path d="M517.10,300.30 C517.13,303.58 517.17,315.17 517.30,320.00 C517.43,324.83 517.80,327.23 517.90,329.30 C518.00,331.37 517.97,330.62 517.90,332.40 C517.83,334.18 517.45,337.23 517.50,340.00 C517.55,342.77 518.03,347.00 518.20,349.00 C518.37,351.00 518.33,350.83 518.50,352.00 C518.67,353.17 519.03,354.67 519.20,356.00 C519.37,357.33 519.43,358.60 519.50,360.00 C519.57,361.40 519.50,362.63 519.60,364.40 C519.70,366.17 519.75,368.70 520.10,370.60 C520.45,372.50 520.92,374.23 521.70,375.80 C522.48,377.37 523.93,378.45 524.80,380.00 C525.67,381.55 526.13,383.38 526.90,385.10 C527.67,386.82 528.12,388.75 529.40,390.30 C530.68,391.85 532.70,393.02 534.60,394.40 C536.50,395.78 539.52,397.48 540.80,398.60 C542.08,399.72 542.82,400.07 542.30,401.10 C541.78,402.13 539.85,403.50 537.70,404.80 C535.55,406.10 531.98,407.53 529.40,408.90 C526.82,410.27 523.75,411.88 522.20,413.00 C520.65,414.12 520.45,415.17 520.10,415.60 L513.30,415.60 C512.95,415.17 512.75,414.12 511.20,413.00 C509.65,411.88 506.58,410.27 504.00,408.90 C501.42,407.53 497.85,406.10 495.70,404.80 C493.55,403.50 491.62,402.13 491.10,401.10 C490.58,400.07 491.32,399.72 492.60,398.60 C493.88,397.48 496.90,395.78 498.80,394.40 C500.70,393.02 502.72,391.85 504.00,390.30 C505.28,388.75 505.73,386.82 506.50,385.10 C507.27,383.38 507.73,381.55 508.60,380.00 C509.47,378.45 510.92,377.37 511.70,375.80 C512.48,374.23 512.95,372.50 513.30,370.60 C513.65,368.70 513.70,366.17 513.80,364.40 C513.90,362.63 513.83,361.40 513.90,360.00 C513.97,358.60 514.03,357.33 514.20,356.00 C514.37,354.67 514.73,353.17 514.90,352.00 C515.07,350.83 515.03,351.00 515.20,349.00 C515.37,347.00 515.85,342.77 515.90,340.00 C515.95,337.23 515.57,334.18 515.50,332.40 C515.43,330.62 515.40,331.37 515.50,329.30 C515.60,327.23 515.97,324.83 516.10,320.00 C516.23,315.17 516.27,303.58 516.30,300.30 Z" fill="#C1272D" stroke="#000" stroke-width="1.80" stroke-linejoin="round"/>
<line x1="516.70" y1="364.40" x2="516.70" y2="415.60" stroke="#000" stroke-width="1.7"/>
<rect x="513.40" y="386.70" width="6.60" height="16.50" fill="#C1272D" stroke="#000" stroke-width="1.7"/>
<line x1="513.40" y1="398.80" x2="520.00" y2="398.80" stroke="#000" stroke-width="3.1"/>
<circle cx="516.70" cy="300.30" r="3.40" fill="#000"/>
<circle cx="516.70" cy="329.30" r="3.40" fill="#000"/>
<circle cx="516.70" cy="332.40" r="3.40" fill="#000"/>
<circle cx="516.70" cy="348.90" r="3.40" fill="#000"/>
<circle cx="516.70" cy="352.00" r="3.40" fill="#000"/>
<circle cx="516.70" cy="355.00" r="3.40" fill="#000"/>
<circle cx="516.70" cy="358.00" r="3.40" fill="#000"/>
<circle cx="516.70" cy="361.00" r="3.40" fill="#000"/>
<path d="M571.60,326.70 C571.67,328.18 571.90,332.55 572.00,335.60 C572.10,338.65 572.17,342.05 572.20,345.00 C572.23,347.95 572.20,350.25 572.20,353.30 C572.20,356.35 572.20,360.05 572.20,363.30 C572.20,366.55 572.13,370.67 572.20,372.80 C572.27,374.93 571.88,374.80 572.60,376.10 C573.32,377.40 575.10,378.93 576.50,380.60 C577.90,382.27 579.78,384.43 581.00,386.10 C582.22,387.77 583.07,389.30 583.80,390.60 C584.53,391.90 584.38,392.80 585.40,393.90 C586.42,395.00 588.23,396.08 589.90,397.20 C591.57,398.32 594.20,399.58 595.40,400.60 C596.60,401.62 597.83,402.20 597.10,403.30 C596.37,404.40 593.50,405.80 591.00,407.20 C588.50,408.60 584.88,410.22 582.10,411.70 C579.32,413.18 575.97,414.82 574.30,416.10 C572.63,417.38 572.48,416.25 572.10,419.40 C571.72,422.55 572.08,429.43 572.00,435.00 C571.92,440.57 571.67,449.83 571.60,452.80 L570.80,452.80 C570.73,449.83 570.48,440.57 570.40,435.00 C570.32,429.43 570.68,422.55 570.30,419.40 C569.92,416.25 569.77,417.38 568.10,416.10 C566.43,414.82 563.08,413.18 560.30,411.70 C557.52,410.22 553.90,408.60 551.40,407.20 C548.90,405.80 546.03,404.40 545.30,403.30 C544.57,402.20 545.80,401.62 547.00,400.60 C548.20,399.58 550.83,398.32 552.50,397.20 C554.17,396.08 555.98,395.00 557.00,393.90 C558.02,392.80 557.87,391.90 558.60,390.60 C559.33,389.30 560.18,387.77 561.40,386.10 C562.62,384.43 564.50,382.27 565.90,380.60 C567.30,378.93 569.08,377.40 569.80,376.10 C570.52,374.80 570.13,374.93 570.20,372.80 C570.27,370.67 570.20,366.55 570.20,363.30 C570.20,360.05 570.20,356.35 570.20,353.30 C570.20,350.25 570.17,347.95 570.20,345.00 C570.23,342.05 570.30,338.65 570.40,335.60 C570.50,332.55 570.73,328.18 570.80,326.70 Z" fill="#0000A0" stroke="#000" stroke-width="1.80" stroke-linejoin="round"/>
<line x1="571.20" y1="376.10" x2="571.20" y2="413.30" stroke="#000" stroke-width="1.7"/>
<rect x="567.90" y="391.10" width="6.60" height="14.50" fill="#0000A0" stroke="#000" stroke-width="1.7"/>
<line x1="567.90" y1="402.80" x2="574.50" y2="402.80" stroke="#000" stroke-width="3.1"/>
<circle cx="571.20" cy="326.70" r="3.40" fill="#000"/>
<circle cx="571.20" cy="335.60" r="3.40" fill="#000"/>
<circle cx="571.20" cy="342.80" r="3.40" fill="#000"/>
<circle cx="571.20" cy="347.20" r="3.40" fill="#000"/>
<circle cx="571.20" cy="353.30" r="3.40" fill="#000"/>
<circle cx="571.20" cy="363.30" r="3.40" fill="#000"/>
<circle cx="571.20" cy="452.20" r="3.40" fill="#000"/>
<path d="M626.40,359.50 C626.50,360.42 626.82,363.58 627.00,365.00 C627.18,366.42 627.25,366.83 627.50,368.00 C627.75,369.17 628.33,370.68 628.50,372.00 C628.67,373.32 628.45,374.92 628.50,375.90 C628.55,376.88 628.42,376.92 628.80,377.90 C629.18,378.88 630.13,380.32 630.80,381.80 C631.47,383.28 632.22,385.13 632.80,386.80 C633.38,388.47 633.48,390.47 634.30,391.80 C635.12,393.13 635.80,393.63 637.70,394.80 C639.60,395.97 643.37,397.48 645.70,398.80 C648.03,400.12 651.53,401.38 651.70,402.70 C651.87,404.02 649.03,405.37 646.70,406.70 C644.37,408.03 640.35,409.37 637.70,410.70 C635.05,412.03 632.53,413.20 630.80,414.70 C629.07,416.20 627.97,417.15 627.30,419.70 C626.63,422.25 626.88,424.12 626.80,430.00 C626.72,435.88 626.87,448.02 626.80,455.00 C626.73,461.98 626.47,469.08 626.40,471.90 L625.60,471.90 C625.53,469.08 625.27,461.98 625.20,455.00 C625.13,448.02 625.28,435.88 625.20,430.00 C625.12,424.12 625.37,422.25 624.70,419.70 C624.03,417.15 622.93,416.20 621.20,414.70 C619.47,413.20 616.95,412.03 614.30,410.70 C611.65,409.37 607.63,408.03 605.30,406.70 C602.97,405.37 600.13,404.02 600.30,402.70 C600.47,401.38 603.97,400.12 606.30,398.80 C608.63,397.48 612.40,395.97 614.30,394.80 C616.20,393.63 616.88,393.13 617.70,391.80 C618.52,390.47 618.62,388.47 619.20,386.80 C619.78,385.13 620.53,383.28 621.20,381.80 C621.87,380.32 622.82,378.88 623.20,377.90 C623.58,376.92 623.45,376.88 623.50,375.90 C623.55,374.92 623.33,373.32 623.50,372.00 C623.67,370.68 624.25,369.17 624.50,368.00 C624.75,366.83 624.82,366.42 625.00,365.00 C625.18,363.58 625.50,360.42 625.60,359.50 Z" fill="#EBCB15" stroke="#000" stroke-width="1.80" stroke-linejoin="round"/>
<line x1="626.00" y1="377.90" x2="626.00" y2="419.70" stroke="#000" stroke-width="1.7"/>
<rect x="622.70" y="393.60" width="6.60" height="12.60" fill="#EBCB15" stroke="#000" stroke-width="1.7"/>
<line x1="622.70" y1="404.20" x2="629.30" y2="404.20" stroke="#000" stroke-width="3.1"/>
<circle cx="626.00" cy="359.50" r="3.40" fill="#000"/>
<circle cx="626.00" cy="364.90" r="3.40" fill="#000"/>
<circle cx="626.00" cy="367.90" r="3.40" fill="#000"/>
<circle cx="626.00" cy="430.10" r="3.40" fill="#000"/>
<circle cx="626.00" cy="455.00" r="3.40" fill="#000"/>
<circle cx="626.00" cy="471.40" r="3.40" fill="#000"/>
<path d="M171.90,741.20 C171.95,742.45 172.47,745.90 172.20,748.70 C171.93,751.50 170.68,755.67 170.30,758.00 C169.92,760.33 169.82,761.13 169.90,762.70 C169.98,764.27 170.33,765.07 170.80,767.40 C171.27,769.73 172.08,773.58 172.70,776.70 C173.32,779.82 173.97,782.98 174.50,786.10 C175.03,789.22 175.42,792.28 175.90,795.40 C176.38,798.52 176.70,802.15 177.40,804.80 C178.10,807.45 179.02,808.97 180.10,811.30 C181.18,813.63 182.48,816.00 183.90,818.80 C185.32,821.60 187.20,825.30 188.60,828.10 C190.00,830.90 191.45,833.27 192.30,835.60 C193.15,837.93 193.52,840.00 193.70,842.10 C193.88,844.20 193.45,847.18 193.40,848.20 L145.40,848.20 C145.35,847.18 144.92,844.20 145.10,842.10 C145.28,840.00 145.65,837.93 146.50,835.60 C147.35,833.27 148.80,830.90 150.20,828.10 C151.60,825.30 153.48,821.60 154.90,818.80 C156.32,816.00 157.62,813.63 158.70,811.30 C159.78,808.97 160.70,807.45 161.40,804.80 C162.10,802.15 162.42,798.52 162.90,795.40 C163.38,792.28 163.77,789.22 164.30,786.10 C164.83,782.98 165.48,779.82 166.10,776.70 C166.72,773.58 167.53,769.73 168.00,767.40 C168.47,765.07 168.82,764.27 168.90,762.70 C168.98,761.13 168.88,760.33 168.50,758.00 C168.12,755.67 166.87,751.50 166.60,748.70 C166.33,745.90 166.85,742.45 166.90,741.20 Z" fill="#C1272D" stroke="#000" stroke-width="1.80" stroke-linejoin="round"/>
<line x1="169.40" y1="785.60" x2="169.40" y2="848.20" stroke="#000" stroke-width="1.7"/>
<rect x="166.10" y="818.80" width="6.60" height="28.50" fill="#C1272D" stroke="#000" stroke-width="1.7"/>
<line x1="166.10" y1="833.70" x2="172.70" y2="833.70" stroke="#000" stroke-width="3.1"/>
<circle cx="169.40" cy="740.70" r="3.40" fill="#000"/>
<path d="M229.40,783.80 C229.52,784.47 229.95,785.65 230.10,787.80 C230.25,789.95 230.18,793.73 230.30,796.70 C230.42,799.67 230.58,802.93 230.80,805.60 C231.02,808.27 230.93,810.47 231.60,812.70 C232.27,814.93 233.68,816.92 234.80,819.00 C235.92,821.08 236.97,822.98 238.30,825.20 C239.63,827.42 241.60,830.22 242.80,832.30 C244.00,834.38 244.88,835.92 245.50,837.70 C246.12,839.48 246.37,841.22 246.50,843.00 C246.63,844.78 246.33,847.50 246.30,848.40 L198.30,848.40 C198.27,847.50 197.97,844.78 198.10,843.00 C198.23,841.22 198.48,839.48 199.10,837.70 C199.72,835.92 200.60,834.38 201.80,832.30 C203.00,830.22 204.97,827.42 206.30,825.20 C207.63,822.98 208.68,821.08 209.80,819.00 C210.92,816.92 212.33,814.93 213.00,812.70 C213.67,810.47 213.58,808.27 213.80,805.60 C214.02,802.93 214.18,799.67 214.30,796.70 C214.42,793.73 214.35,789.95 214.50,787.80 C214.65,785.65 215.08,784.47 215.20,783.80 Z" fill="#0000A0" stroke="#000" stroke-width="1.80" stroke-linejoin="round"/>
<line x1="222.30" y1="783.80" x2="222.30" y2="848.40" stroke="#000" stroke-width="1.7"/>
<rect x="219.00" y="819.40" width="6.60" height="28.50" fill="#0000A0" stroke="#000" stroke-width="1.7"/>
<line x1="219.00" y1="836.80" x2="225.60" y2="836.80" stroke="#000" stroke-width="3.1"/>
<path d="M288.70,768.00 C289.10,768.90 290.40,771.02 291.10,773.40 C291.80,775.78 292.65,779.33 292.90,782.30 C293.15,785.27 292.87,788.23 292.60,791.20 C292.33,794.17 291.58,797.13 291.30,800.10 C291.02,803.07 290.52,806.03 290.90,809.00 C291.28,811.97 292.63,814.93 293.60,817.90 C294.57,820.87 295.82,823.83 296.70,826.80 C297.58,829.77 298.53,832.73 298.90,835.70 C299.27,838.67 298.95,842.52 298.90,844.60 C298.85,846.68 298.65,847.60 298.60,848.20 L251.60,848.20 C251.55,847.60 251.35,846.68 251.30,844.60 C251.25,842.52 250.93,838.67 251.30,835.70 C251.67,832.73 252.62,829.77 253.50,826.80 C254.38,823.83 255.63,820.87 256.60,817.90 C257.57,814.93 258.92,811.97 259.30,809.00 C259.68,806.03 259.18,803.07 258.90,800.10 C258.62,797.13 257.87,794.17 257.60,791.20 C257.33,788.23 257.05,785.27 257.30,782.30 C257.55,779.33 258.40,775.78 259.10,773.40 C259.80,771.02 261.10,768.90 261.50,768.00 Z" fill="#EBCB15" stroke="#000" stroke-width="1.80" stroke-linejoin="round"/>
<line x1="275.10" y1="768.00" x2="275.10" y2="848.20" stroke="#000" stroke-width="1.7"/>
<rect x="271.80" y="791.60" width="6.60" height="56.10" fill="#EBCB15" stroke="#000" stroke-width="1.7"/>
<line x1="271.80" y1="830.80" x2="278.40" y2="830.80" stroke="#000" stroke-width="3.1"/>
<path d="M359.50,644.50 C359.57,646.73 359.90,653.45 359.90,657.90 C359.90,662.35 359.72,666.75 359.50,671.20 C359.28,675.65 358.83,680.13 358.60,684.60 C358.37,689.07 357.90,692.30 358.10,698.00 C358.30,703.70 359.03,711.67 359.80,718.80 C360.57,725.93 361.60,733.45 362.70,740.80 C363.80,748.15 365.30,755.53 366.40,762.90 C367.50,770.27 368.57,777.65 369.30,785.00 C370.03,792.35 370.68,800.88 370.80,807.00 C370.92,813.12 370.50,816.80 370.00,821.70 C369.50,826.60 368.40,832.48 367.80,836.40 C367.20,840.32 366.70,843.23 366.40,845.20 C366.10,847.17 366.07,847.70 366.00,848.20 L325.00,848.20 C324.93,847.70 324.90,847.17 324.60,845.20 C324.30,843.23 323.80,840.32 323.20,836.40 C322.60,832.48 321.50,826.60 321.00,821.70 C320.50,816.80 320.08,813.12 320.20,807.00 C320.32,800.88 320.97,792.35 321.70,785.00 C322.43,777.65 323.50,770.27 324.60,762.90 C325.70,755.53 327.20,748.15 328.30,740.80 C329.40,733.45 330.43,725.93 331.20,718.80 C331.97,711.67 332.70,703.70 332.90,698.00 C333.10,692.30 332.63,689.07 332.40,684.60 C332.17,680.13 331.72,675.65 331.50,671.20 C331.28,666.75 331.10,662.35 331.10,657.90 C331.10,653.45 331.43,646.73 331.50,644.50 Z" fill="#C1272D" stroke="#000" stroke-width="1.80" stroke-linejoin="round"/>
<line x1="345.50" y1="644.50" x2="345.50" y2="848.20" stroke="#000" stroke-width="1.7"/>
<rect x="342.20" y="695.30" width="6.60" height="133.00" fill="#C1272D" stroke="#000" stroke-width="1.7"/>
<line x1="342.20" y1="782.70" x2="348.80" y2="782.70" stroke="#000" stroke-width="3.1"/>
<path d="M406.00,713.00 C405.95,714.57 405.82,718.57 405.70,722.40 C405.58,726.23 405.03,731.47 405.30,736.00 C405.57,740.53 406.07,745.08 407.30,749.60 C408.53,754.12 411.00,758.58 412.70,763.10 C414.40,767.62 416.13,772.18 417.50,776.70 C418.87,781.22 420.00,785.68 420.90,790.20 C421.80,794.72 422.57,799.28 422.90,803.80 C423.23,808.32 423.35,812.78 422.90,817.30 C422.45,821.82 421.10,826.83 420.20,830.90 C419.30,834.97 418.28,838.88 417.50,841.70 C416.72,844.52 415.83,846.78 415.50,847.80 L380.70,847.80 C380.37,846.78 379.48,844.52 378.70,841.70 C377.92,838.88 376.90,834.97 376.00,830.90 C375.10,826.83 373.75,821.82 373.30,817.30 C372.85,812.78 372.97,808.32 373.30,803.80 C373.63,799.28 374.40,794.72 375.30,790.20 C376.20,785.68 377.33,781.22 378.70,776.70 C380.07,772.18 381.80,767.62 383.50,763.10 C385.20,758.58 387.67,754.12 388.90,749.60 C390.13,745.08 390.63,740.53 390.90,736.00 C391.17,731.47 390.62,726.23 390.50,722.40 C390.38,718.57 390.25,714.57 390.20,713.00 Z" fill="#0000A0" stroke="#000" stroke-width="1.80" stroke-linejoin="round"/>
<line x1="398.10" y1="713.00" x2="398.10" y2="847.80" stroke="#000" stroke-width="1.7"/>
<rect x="394.80" y="778.00" width="6.60" height="49.50" fill="#0000A0" stroke="#000" stroke-width="1.7"/>
<line x1="394.80" y1="806.20" x2="401.40" y2="806.20" stroke="#000" stroke-width="3.1"/>
<path d="M453.60,589.10 C453.68,591.15 454.20,596.67 454.10,601.40 C454.00,606.13 453.35,612.13 453.00,617.50 C452.65,622.87 452.27,628.23 452.00,633.60 C451.73,638.97 451.32,644.33 451.40,649.70 C451.48,655.07 452.05,660.45 452.50,665.80 C452.95,671.15 453.65,676.45 454.10,681.80 C454.55,687.15 454.93,692.53 455.20,697.90 C455.47,703.27 455.18,707.83 455.70,714.00 C456.22,720.17 457.28,728.50 458.30,734.90 C459.32,741.30 460.43,746.58 461.80,752.40 C463.17,758.22 465.13,763.98 466.50,769.80 C467.87,775.62 468.83,781.47 470.00,787.30 C471.17,793.13 472.63,798.98 473.50,804.80 C474.37,810.62 474.92,817.35 475.20,822.20 C475.48,827.05 475.40,830.40 475.20,833.90 C475.00,837.40 474.48,840.88 474.00,843.20 C473.52,845.52 472.58,847.03 472.30,847.80 L429.90,847.80 C429.62,847.03 428.68,845.52 428.20,843.20 C427.72,840.88 427.20,837.40 427.00,833.90 C426.80,830.40 426.72,827.05 427.00,822.20 C427.28,817.35 427.83,810.62 428.70,804.80 C429.57,798.98 431.03,793.13 432.20,787.30 C433.37,781.47 434.33,775.62 435.70,769.80 C437.07,763.98 439.03,758.22 440.40,752.40 C441.77,746.58 442.88,741.30 443.90,734.90 C444.92,728.50 445.98,720.17 446.50,714.00 C447.02,707.83 446.73,703.27 447.00,697.90 C447.27,692.53 447.65,687.15 448.10,681.80 C448.55,676.45 449.25,671.15 449.70,665.80 C450.15,660.45 450.72,655.07 450.80,649.70 C450.88,644.33 450.47,638.97 450.20,633.60 C449.93,628.23 449.55,622.87 449.20,617.50 C448.85,612.13 448.20,606.13 448.10,601.40 C448.00,596.67 448.52,591.15 448.60,589.10 Z" fill="#EBCB15" stroke="#000" stroke-width="1.80" stroke-linejoin="round"/>
<line x1="451.10" y1="700.10" x2="451.10" y2="847.80" stroke="#000" stroke-width="1.7"/>
<rect x="447.80" y="780.30" width="6.60" height="65.20" fill="#EBCB15" stroke="#000" stroke-width="1.7"/>
<line x1="447.80" y1="810.00" x2="454.40" y2="810.00" stroke="#000" stroke-width="3.1"/>
<circle cx="451.10" cy="588.00" r="3.40" fill="#000"/>
<line x1="519" y1="847.6" x2="524.7" y2="847.6" stroke="#000" stroke-width="1.6"/>
<path d="M574.90,843.20 C575.30,843.43 575.90,844.17 577.30,844.60 C578.70,845.03 580.97,845.40 583.30,845.80 C585.63,846.20 588.48,846.57 591.30,847.00 C594.12,847.43 598.72,848.17 600.20,848.40 L548.40,848.40 C549.88,848.17 554.48,847.43 557.30,847.00 C560.12,846.57 562.97,846.20 565.30,845.80 C567.63,845.40 569.90,845.03 571.30,844.60 C572.70,844.17 573.30,843.43 573.70,843.20 Z" fill="#0000A0" stroke="#000" stroke-width="1.80" stroke-linejoin="round"/>
<circle cx="574.30" cy="839.60" r="3.40" fill="#000"/>
<path d="M629.80,667.00 C629.80,669.33 629.97,676.10 629.80,681.00 C629.63,685.90 629.07,691.25 628.80,696.40 C628.53,701.55 628.32,704.15 628.20,711.90 C628.08,719.65 628.05,732.57 628.10,742.90 C628.15,753.23 628.30,767.45 628.50,773.90 C628.70,780.35 628.98,779.03 629.30,781.60 C629.62,784.17 629.88,786.73 630.40,789.30 C630.92,791.87 631.55,794.42 632.40,797.00 C633.25,799.58 634.33,802.20 635.50,804.80 C636.67,807.40 638.12,810.02 639.40,812.60 C640.68,815.18 641.92,817.73 643.20,820.30 C644.48,822.87 645.93,825.42 647.10,828.00 C648.27,830.58 649.42,833.22 650.20,835.80 C650.98,838.38 651.48,841.43 651.80,843.50 C652.12,845.57 652.05,847.42 652.10,848.20 L602.50,848.20 C602.55,847.42 602.48,845.57 602.80,843.50 C603.12,841.43 603.62,838.38 604.40,835.80 C605.18,833.22 606.33,830.58 607.50,828.00 C608.67,825.42 610.12,822.87 611.40,820.30 C612.68,817.73 613.92,815.18 615.20,812.60 C616.48,810.02 617.93,807.40 619.10,804.80 C620.27,802.20 621.35,799.58 622.20,797.00 C623.05,794.42 623.68,791.87 624.20,789.30 C624.72,786.73 624.98,784.17 625.30,781.60 C625.62,779.03 625.90,780.35 626.10,773.90 C626.30,767.45 626.45,753.23 626.50,742.90 C626.55,732.57 626.52,719.65 626.40,711.90 C626.28,704.15 626.07,701.55 625.80,696.40 C625.53,691.25 624.97,685.90 624.80,681.00 C624.63,676.10 624.80,669.33 624.80,667.00 Z" fill="#EBCB15" stroke="#000" stroke-width="1.80" stroke-linejoin="round"/>
<circle cx="627.30" cy="666.30" r="3.40" fill="#000"/>
<circle cx="627.30" cy="824.60" r="3.40" fill="#000"/>
<circle cx="627.30" cy="845.80" r="3.40" fill="#000"/>
<path d="M176.60,1022.60 C176.90,1023.57 177.80,1026.70 178.40,1028.40 C179.00,1030.10 179.53,1031.32 180.20,1032.80 C180.87,1034.28 181.50,1035.82 182.40,1037.30 C183.30,1038.78 184.48,1040.22 185.60,1041.70 C186.72,1043.18 188.28,1045.02 189.10,1046.20 C189.92,1047.38 190.27,1047.92 190.50,1048.80 C190.73,1049.68 190.87,1050.53 190.50,1051.50 C190.13,1052.47 188.67,1054.08 188.30,1054.60 L146.30,1054.60 C145.93,1054.08 144.47,1052.47 144.10,1051.50 C143.73,1050.53 143.87,1049.68 144.10,1048.80 C144.33,1047.92 144.68,1047.38 145.50,1046.20 C146.32,1045.02 147.88,1043.18 149.00,1041.70 C150.12,1040.22 151.30,1038.78 152.20,1037.30 C153.10,1035.82 153.73,1034.28 154.40,1032.80 C155.07,1031.32 155.60,1030.10 156.20,1028.40 C156.80,1026.70 157.70,1023.57 158.00,1022.60 Z" fill="#C1272D" stroke="#000" stroke-width="1.80" stroke-linejoin="round"/>
<line x1="167.30" y1="1022.60" x2="167.30" y2="1054.60" stroke="#000" stroke-width="1.7"/>
<rect x="164.00" y="1037.30" width="6.60" height="16.90" fill="#C1272D" stroke="#000" stroke-width="1.7"/>
<line x1="164.00" y1="1047.10" x2="170.60" y2="1047.10" stroke="#000" stroke-width="3.1"/>
<path d="M234.30,1024.70 C234.90,1025.22 236.78,1026.55 237.90,1027.80 C239.02,1029.05 240.42,1030.72 241.00,1032.20 C241.58,1033.68 241.48,1035.20 241.40,1036.70 C241.32,1038.20 240.95,1039.57 240.50,1041.20 C240.05,1042.83 239.58,1044.43 238.70,1046.50 C237.82,1048.57 236.38,1051.37 235.20,1053.60 C234.02,1055.83 232.72,1057.97 231.60,1059.90 C230.48,1061.83 229.32,1063.80 228.50,1065.20 C227.68,1066.60 227.00,1067.78 226.70,1068.30 L209.30,1068.30 C209.00,1067.78 208.32,1066.60 207.50,1065.20 C206.68,1063.80 205.52,1061.83 204.40,1059.90 C203.28,1057.97 201.98,1055.83 200.80,1053.60 C199.62,1051.37 198.18,1048.57 197.30,1046.50 C196.42,1044.43 195.95,1042.83 195.50,1041.20 C195.05,1039.57 194.68,1038.20 194.60,1036.70 C194.52,1035.20 194.42,1033.68 195.00,1032.20 C195.58,1030.72 196.98,1029.05 198.10,1027.80 C199.22,1026.55 201.10,1025.22 201.70,1024.70 Z" fill="#0000A0" stroke="#000" stroke-width="1.80" stroke-linejoin="round"/>
<line x1="218.00" y1="1024.70" x2="218.00" y2="1068.30" stroke="#000" stroke-width="1.7"/>
<rect x="214.70" y="1033.10" width="6.60" height="19.20" fill="#0000A0" stroke="#000" stroke-width="1.7"/>
<line x1="214.70" y1="1041.30" x2="221.30" y2="1041.30" stroke="#000" stroke-width="3.1"/>
<path d="M278.10,972.10 C278.68,973.15 280.05,975.87 281.60,978.40 C283.15,980.93 285.83,984.33 287.40,987.30 C288.97,990.27 290.33,993.53 291.00,996.20 C291.67,998.87 291.48,1000.78 291.40,1003.30 C291.32,1005.82 291.17,1008.48 290.50,1011.30 C289.83,1014.12 288.58,1017.23 287.40,1020.20 C286.22,1023.17 284.58,1026.43 283.40,1029.10 C282.22,1031.77 281.05,1034.05 280.30,1036.20 C279.55,1038.35 279.13,1041.03 278.90,1042.00 L257.10,1042.00 C256.87,1041.03 256.45,1038.35 255.70,1036.20 C254.95,1034.05 253.78,1031.77 252.60,1029.10 C251.42,1026.43 249.78,1023.17 248.60,1020.20 C247.42,1017.23 246.17,1014.12 245.50,1011.30 C244.83,1008.48 244.68,1005.82 244.60,1003.30 C244.52,1000.78 244.33,998.87 245.00,996.20 C245.67,993.53 247.03,990.27 248.60,987.30 C250.17,984.33 252.85,980.93 254.40,978.40 C255.95,975.87 257.32,973.15 257.90,972.10 Z" fill="#EBCB15" stroke="#000" stroke-width="1.80" stroke-linejoin="round"/>
<line x1="268.00" y1="972.10" x2="268.00" y2="1042.00" stroke="#000" stroke-width="1.7"/>
<rect x="264.70" y="993.50" width="6.60" height="26.70" fill="#EBCB15" stroke="#000" stroke-width="1.7"/>
<line x1="264.70" y1="1006.90" x2="271.30" y2="1006.90" stroke="#000" stroke-width="3.1"/>
<path d="M355.20,1017.10 C354.97,1017.70 354.62,1019.37 353.80,1020.70 C352.98,1022.03 351.42,1023.62 350.30,1025.10 C349.18,1026.58 347.77,1028.12 347.10,1029.60 C346.43,1031.08 346.30,1032.52 346.30,1034.00 C346.30,1035.48 346.28,1037.15 347.10,1038.50 C347.92,1039.85 349.48,1040.92 351.20,1042.10 C352.92,1043.28 355.33,1044.27 357.40,1045.60 C359.47,1046.93 361.82,1048.77 363.60,1050.10 C365.38,1051.43 367.80,1052.42 368.10,1053.60 C368.40,1054.78 366.67,1056.00 365.40,1057.20 C364.13,1058.40 361.98,1059.77 360.50,1060.80 C359.02,1061.83 357.17,1062.97 356.50,1063.40 L333.70,1063.40 C333.03,1062.97 331.18,1061.83 329.70,1060.80 C328.22,1059.77 326.07,1058.40 324.80,1057.20 C323.53,1056.00 321.80,1054.78 322.10,1053.60 C322.40,1052.42 324.82,1051.43 326.60,1050.10 C328.38,1048.77 330.73,1046.93 332.80,1045.60 C334.87,1044.27 337.28,1043.28 339.00,1042.10 C340.72,1040.92 342.28,1039.85 343.10,1038.50 C343.92,1037.15 343.90,1035.48 343.90,1034.00 C343.90,1032.52 343.77,1031.08 343.10,1029.60 C342.43,1028.12 341.02,1026.58 339.90,1025.10 C338.78,1023.62 337.22,1022.03 336.40,1020.70 C335.58,1019.37 335.23,1017.70 335.00,1017.10 Z" fill="#C1272D" stroke="#000" stroke-width="1.80" stroke-linejoin="round"/>
<line x1="345.10" y1="1040.30" x2="345.10" y2="1063.40" stroke="#000" stroke-width="1.7"/>
<rect x="341.80" y="1042.50" width="6.60" height="12.90" fill="#C1272D" stroke="#000" stroke-width="1.7"/>
<line x1="341.80" y1="1054.10" x2="348.40" y2="1054.10" stroke="#000" stroke-width="3.1"/>
<path d="M413.50,1013.00 C414.17,1013.60 416.77,1015.42 417.50,1016.60 C418.23,1017.78 418.35,1018.62 417.90,1020.10 C417.45,1021.58 415.68,1023.57 414.80,1025.50 C413.92,1027.43 412.52,1029.77 412.60,1031.70 C412.68,1033.63 414.33,1035.32 415.30,1037.10 C416.27,1038.88 418.03,1040.92 418.40,1042.40 C418.77,1043.88 417.87,1044.97 417.50,1046.00 C417.13,1047.03 416.42,1048.17 416.20,1048.60 L374.80,1048.60 C374.58,1048.17 373.87,1047.03 373.50,1046.00 C373.13,1044.97 372.23,1043.88 372.60,1042.40 C372.97,1040.92 374.73,1038.88 375.70,1037.10 C376.67,1035.32 378.32,1033.63 378.40,1031.70 C378.48,1029.77 377.08,1027.43 376.20,1025.50 C375.32,1023.57 373.55,1021.58 373.10,1020.10 C372.65,1018.62 372.77,1017.78 373.50,1016.60 C374.23,1015.42 376.83,1013.60 377.50,1013.00 Z" fill="#0000A0" stroke="#000" stroke-width="1.80" stroke-linejoin="round"/>
<line x1="395.50" y1="1013.00" x2="395.50" y2="1048.60" stroke="#000" stroke-width="1.7"/>
<rect x="392.20" y="1021.00" width="6.60" height="22.30" fill="#0000A0" stroke="#000" stroke-width="1.7"/>
<line x1="392.20" y1="1031.70" x2="398.80" y2="1031.70" stroke="#000" stroke-width="3.1"/>
<path d="M453.60,1001.70 C453.90,1002.52 454.58,1005.05 455.40,1006.60 C456.22,1008.15 457.17,1009.37 458.50,1011.00 C459.83,1012.63 462.07,1014.62 463.40,1016.40 C464.73,1018.18 465.68,1019.92 466.50,1021.70 C467.32,1023.48 467.85,1025.32 468.30,1027.10 C468.75,1028.88 469.20,1030.63 469.20,1032.40 C469.20,1034.17 468.72,1036.22 468.30,1037.70 C467.88,1039.18 466.97,1040.70 466.70,1041.30 L425.30,1041.30 C425.03,1040.70 424.12,1039.18 423.70,1037.70 C423.28,1036.22 422.80,1034.17 422.80,1032.40 C422.80,1030.63 423.25,1028.88 423.70,1027.10 C424.15,1025.32 424.68,1023.48 425.50,1021.70 C426.32,1019.92 427.27,1018.18 428.60,1016.40 C429.93,1014.62 432.17,1012.63 433.50,1011.00 C434.83,1009.37 435.78,1008.15 436.60,1006.60 C437.42,1005.05 438.10,1002.52 438.40,1001.70 Z" fill="#EBCB15" stroke="#000" stroke-width="1.80" stroke-linejoin="round"/>
<line x1="446.00" y1="1001.70" x2="446.00" y2="1041.30" stroke="#000" stroke-width="1.7"/>
<rect x="442.70" y="1020.40" width="6.60" height="19.10" fill="#EBCB15" stroke="#000" stroke-width="1.7"/>
<line x1="442.70" y1="1028.10" x2="449.30" y2="1028.10" stroke="#000" stroke-width="3.1"/>
<path d="M534.50,1096.30 C535.17,1097.12 537.10,1099.35 538.50,1101.20 C539.90,1103.05 541.72,1105.18 542.90,1107.40 C544.08,1109.62 545.07,1112.13 545.60,1114.50 C546.13,1116.87 546.17,1119.22 546.10,1121.60 C546.03,1123.98 545.80,1126.27 545.20,1128.80 C544.60,1131.33 543.70,1133.98 542.50,1136.80 C541.30,1139.62 539.33,1142.73 538.00,1145.70 C536.67,1148.67 535.38,1151.63 534.50,1154.60 C533.62,1157.57 533.07,1161.20 532.70,1163.50 C532.33,1165.80 532.37,1167.58 532.30,1168.40 L513.50,1168.40 C513.43,1167.58 513.47,1165.80 513.10,1163.50 C512.73,1161.20 512.18,1157.57 511.30,1154.60 C510.42,1151.63 509.13,1148.67 507.80,1145.70 C506.47,1142.73 504.50,1139.62 503.30,1136.80 C502.10,1133.98 501.20,1131.33 500.60,1128.80 C500.00,1126.27 499.77,1123.98 499.70,1121.60 C499.63,1119.22 499.67,1116.87 500.20,1114.50 C500.73,1112.13 501.72,1109.62 502.90,1107.40 C504.08,1105.18 505.90,1103.05 507.30,1101.20 C508.70,1099.35 510.63,1097.12 511.30,1096.30 Z" fill="#C1272D" stroke="#000" stroke-width="1.80" stroke-linejoin="round"/>
<line x1="522.90" y1="1096.30" x2="522.90" y2="1168.40" stroke="#000" stroke-width="1.7"/>
<rect x="519.60" y="1113.60" width="6.60" height="25.40" fill="#C1272D" stroke="#000" stroke-width="1.7"/>
<line x1="519.60" y1="1128.30" x2="526.20" y2="1128.30" stroke="#000" stroke-width="3.1"/>
<path d="M587.50,1102.50 C588.40,1103.38 591.40,1106.02 592.90,1107.80 C594.40,1109.58 595.90,1111.42 596.50,1113.20 C597.10,1114.98 596.88,1116.43 596.50,1118.50 C596.12,1120.57 594.88,1123.23 594.20,1125.60 C593.52,1127.97 592.77,1130.32 592.40,1132.70 C592.03,1135.08 592.43,1137.67 592.00,1139.90 C591.57,1142.13 590.62,1144.32 589.80,1146.10 C588.98,1147.88 587.55,1149.85 587.10,1150.60 L559.50,1150.60 C559.05,1149.85 557.62,1147.88 556.80,1146.10 C555.98,1144.32 555.03,1142.13 554.60,1139.90 C554.17,1137.67 554.57,1135.08 554.20,1132.70 C553.83,1130.32 553.08,1127.97 552.40,1125.60 C551.72,1123.23 550.48,1120.57 550.10,1118.50 C549.72,1116.43 549.50,1114.98 550.10,1113.20 C550.70,1111.42 552.20,1109.58 553.70,1107.80 C555.20,1106.02 558.20,1103.38 559.10,1102.50 Z" fill="#0000A0" stroke="#000" stroke-width="1.80" stroke-linejoin="round"/>
<line x1="573.30" y1="1102.50" x2="573.30" y2="1150.60" stroke="#000" stroke-width="1.7"/>
<rect x="570.00" y="1115.40" width="6.60" height="24.50" fill="#0000A0" stroke="#000" stroke-width="1.7"/>
<line x1="570.00" y1="1120.70" x2="576.60" y2="1120.70" stroke="#000" stroke-width="3.1"/>
<path d="M631.50,1083.00 C631.60,1083.90 631.78,1086.77 632.10,1088.40 C632.42,1090.03 632.43,1091.17 633.40,1092.80 C634.37,1094.43 636.33,1096.27 637.90,1098.20 C639.47,1100.13 641.32,1102.03 642.80,1104.40 C644.28,1106.77 645.98,1110.03 646.80,1112.40 C647.62,1114.77 647.93,1116.52 647.70,1118.60 C647.47,1120.68 646.67,1122.97 645.40,1124.90 C644.13,1126.83 641.95,1128.42 640.10,1130.20 C638.25,1131.98 635.60,1133.97 634.30,1135.60 C633.00,1137.23 632.67,1138.82 632.30,1140.00 C631.93,1141.18 632.13,1142.25 632.10,1142.70 L615.50,1142.70 C615.47,1142.25 615.67,1141.18 615.30,1140.00 C614.93,1138.82 614.60,1137.23 613.30,1135.60 C612.00,1133.97 609.35,1131.98 607.50,1130.20 C605.65,1128.42 603.47,1126.83 602.20,1124.90 C600.93,1122.97 600.13,1120.68 599.90,1118.60 C599.67,1116.52 599.98,1114.77 600.80,1112.40 C601.62,1110.03 603.32,1106.77 604.80,1104.40 C606.28,1102.03 608.13,1100.13 609.70,1098.20 C611.27,1096.27 613.23,1094.43 614.20,1092.80 C615.17,1091.17 615.18,1090.03 615.50,1088.40 C615.82,1086.77 616.00,1083.90 616.10,1083.00 Z" fill="#EBCB15" stroke="#000" stroke-width="1.80" stroke-linejoin="round"/>
<line x1="623.80" y1="1083.00" x2="623.80" y2="1142.70" stroke="#000" stroke-width="1.7"/>
<rect x="620.50" y="1105.70" width="6.60" height="17.80" fill="#EBCB15" stroke="#000" stroke-width="1.7"/>
<line x1="620.50" y1="1117.70" x2="627.10" y2="1117.70" stroke="#000" stroke-width="3.1"/>
<rect x="117.50" y="562.50" width="562.00" height="286.00" fill="none" stroke="#444444" stroke-width="1.3"/>
<text x="107.30" y="856.70" font-size="23.0" text-anchor="end" font-weight="normal" fill="#000">0.00</text>
<text x="107.30" y="775.10" font-size="23.0" text-anchor="end" font-weight="normal" fill="#000">0.05</text>
<text x="107.30" y="693.50" font-size="23.0" text-anchor="end" font-weight="normal" fill="#000">0.10</text>
<text x="107.30" y="611.90" font-size="23.0" text-anchor="end" font-weight="normal" fill="#000">0.15</text>
<text x="0.00" y="0.00" font-size="23.5" text-anchor="middle" font-weight="normal" fill="#000" transform="translate(49.9,706) rotate(-90)">Area fraction of cavity (-)</text>
<text x="219.20" y="594.10" font-size="23.0" text-anchor="middle" font-weight="bold" fill="#000">pH 3</text>
<text x="397.40" y="594.10" font-size="23.0" text-anchor="middle" font-weight="bold" fill="#000">pH 4</text>
<text x="577.70" y="594.10" font-size="23.0" text-anchor="middle" font-weight="bold" fill="#000">pH 5</text>
<text x="148.00" y="868.40" font-size="23.0" text-anchor="start" font-weight="normal" fill="#000">n</text><rect x="168.70" y="859.35" width="11.8" height="1.5" fill="#000"/><rect x="168.70" y="864.25" width="11.8" height="1.5" fill="#000"/>
<text x="164.50" y="898.10" font-size="23.0" text-anchor="middle" font-weight="normal" fill="#000">15</text>
<text x="203.20" y="868.40" font-size="23.0" text-anchor="start" font-weight="normal" fill="#000">n</text><rect x="223.90" y="859.35" width="11.8" height="1.5" fill="#000"/><rect x="223.90" y="864.25" width="11.8" height="1.5" fill="#000"/>
<text x="219.70" y="898.10" font-size="23.0" text-anchor="middle" font-weight="normal" fill="#000">14</text>
<text x="258.00" y="868.40" font-size="23.0" text-anchor="start" font-weight="normal" fill="#000">n</text><rect x="278.70" y="859.35" width="11.8" height="1.5" fill="#000"/><rect x="278.70" y="864.25" width="11.8" height="1.5" fill="#000"/>
<text x="274.50" y="898.10" font-size="23.0" text-anchor="middle" font-weight="normal" fill="#000">13</text>
<text x="326.20" y="868.40" font-size="23.0" text-anchor="start" font-weight="normal" fill="#000">n</text><rect x="346.90" y="859.35" width="11.8" height="1.5" fill="#000"/><rect x="346.90" y="864.25" width="11.8" height="1.5" fill="#000"/>
<text x="342.70" y="898.10" font-size="23.0" text-anchor="middle" font-weight="normal" fill="#000">15</text>
<text x="381.00" y="868.40" font-size="23.0" text-anchor="start" font-weight="normal" fill="#000">n</text><rect x="401.70" y="859.35" width="11.8" height="1.5" fill="#000"/><rect x="401.70" y="864.25" width="11.8" height="1.5" fill="#000"/>
<text x="397.50" y="898.10" font-size="23.0" text-anchor="middle" font-weight="normal" fill="#000">14</text>
<text x="435.90" y="868.40" font-size="23.0" text-anchor="start" font-weight="normal" fill="#000">n</text><rect x="456.60" y="859.35" width="11.8" height="1.5" fill="#000"/><rect x="456.60" y="864.25" width="11.8" height="1.5" fill="#000"/>
<text x="452.40" y="898.10" font-size="23.0" text-anchor="middle" font-weight="normal" fill="#000">14</text>
<text x="506.30" y="868.40" font-size="23.0" text-anchor="start" font-weight="normal" fill="#000">n</text><rect x="527.00" y="859.35" width="11.8" height="1.5" fill="#000"/><rect x="527.00" y="864.25" width="11.8" height="1.5" fill="#000"/>
<text x="522.80" y="898.10" font-size="23.0" text-anchor="middle" font-weight="normal" fill="#000">14</text>
<text x="561.30" y="868.40" font-size="23.0" text-anchor="start" font-weight="normal" fill="#000">n</text><rect x="582.00" y="859.35" width="11.8" height="1.5" fill="#000"/><rect x="582.00" y="864.25" width="11.8" height="1.5" fill="#000"/>
<text x="577.80" y="898.10" font-size="23.0" text-anchor="middle" font-weight="normal" fill="#000">14</text>
<text x="616.30" y="868.40" font-size="23.0" text-anchor="start" font-weight="normal" fill="#000">n</text><rect x="637.00" y="859.35" width="11.8" height="1.5" fill="#000"/><rect x="637.00" y="864.25" width="11.8" height="1.5" fill="#000"/>
<text x="632.80" y="898.10" font-size="23.0" text-anchor="middle" font-weight="normal" fill="#000">14</text>
<rect x="112.00" y="922.50" width="567.50" height="286.00" fill="none" stroke="#444444" stroke-width="1.3"/>
<text x="106.80" y="1216.70" font-size="23.0" text-anchor="end" font-weight="normal" fill="#000">0.0000</text>
<text x="106.80" y="1145.20" font-size="23.0" text-anchor="end" font-weight="normal" fill="#000">0.0005</text>
<text x="106.80" y="1073.70" font-size="23.0" text-anchor="end" font-weight="normal" fill="#000">0.0010</text>
<text x="106.80" y="1002.20" font-size="23.0" text-anchor="end" font-weight="normal" fill="#000">0.0015</text>
<text x="106.80" y="930.70" font-size="23.0" text-anchor="end" font-weight="normal" fill="#000">0.0020</text>
<text x="0.00" y="0.00" font-size="23.5" text-anchor="middle" font-weight="normal" fill="#000" transform="translate(24.2,1065.9) rotate(-90)">Optical decay coefficient (-)</text>
<text x="216.30" y="953.40" font-size="23.0" text-anchor="middle" font-weight="bold" fill="#000">pH 3</text>
<text x="394.30" y="953.40" font-size="23.0" text-anchor="middle" font-weight="bold" fill="#000">pH 4</text>
<text x="574.50" y="953.40" font-size="23.0" text-anchor="middle" font-weight="bold" fill="#000">pH 5</text>
<text x="146.70" y="1226.90" font-size="23.0" text-anchor="start" font-weight="normal" fill="#000">n</text><rect x="167.40" y="1217.85" width="11.8" height="1.5" fill="#000"/><rect x="167.40" y="1222.75" width="11.8" height="1.5" fill="#000"/>
<text x="163.20" y="1256.20" font-size="23.0" text-anchor="middle" font-weight="normal" fill="#000">6</text>
<text x="201.50" y="1226.90" font-size="23.0" text-anchor="start" font-weight="normal" fill="#000">n</text><rect x="222.20" y="1217.85" width="11.8" height="1.5" fill="#000"/><rect x="222.20" y="1222.75" width="11.8" height="1.5" fill="#000"/>
<text x="218.00" y="1256.20" font-size="23.0" text-anchor="middle" font-weight="normal" fill="#000">8</text>
<text x="256.50" y="1226.90" font-size="23.0" text-anchor="start" font-weight="normal" fill="#000">n</text><rect x="277.20" y="1217.85" width="11.8" height="1.5" fill="#000"/><rect x="277.20" y="1222.75" width="11.8" height="1.5" fill="#000"/>
<text x="273.00" y="1256.20" font-size="23.0" text-anchor="middle" font-weight="normal" fill="#000">8</text>
<text x="324.70" y="1226.90" font-size="23.0" text-anchor="start" font-weight="normal" fill="#000">n</text><rect x="345.40" y="1217.85" width="11.8" height="1.5" fill="#000"/><rect x="345.40" y="1222.75" width="11.8" height="1.5" fill="#000"/>
<text x="341.20" y="1256.20" font-size="23.0" text-anchor="middle" font-weight="normal" fill="#000">8</text>
<text x="379.70" y="1226.90" font-size="23.0" text-anchor="start" font-weight="normal" fill="#000">n</text><rect x="400.40" y="1217.85" width="11.8" height="1.5" fill="#000"/><rect x="400.40" y="1222.75" width="11.8" height="1.5" fill="#000"/>
<text x="396.20" y="1256.20" font-size="23.0" text-anchor="middle" font-weight="normal" fill="#000">8</text>
<text x="434.80" y="1226.90" font-size="23.0" text-anchor="start" font-weight="normal" fill="#000">n</text><rect x="455.50" y="1217.85" width="11.8" height="1.5" fill="#000"/><rect x="455.50" y="1222.75" width="11.8" height="1.5" fill="#000"/>
<text x="451.30" y="1256.20" font-size="23.0" text-anchor="middle" font-weight="normal" fill="#000">8</text>
<text x="505.00" y="1226.90" font-size="23.0" text-anchor="start" font-weight="normal" fill="#000">n</text><rect x="525.70" y="1217.85" width="11.8" height="1.5" fill="#000"/><rect x="525.70" y="1222.75" width="11.8" height="1.5" fill="#000"/>
<text x="521.50" y="1256.20" font-size="23.0" text-anchor="middle" font-weight="normal" fill="#000">8</text>
<text x="559.70" y="1226.90" font-size="23.0" text-anchor="start" font-weight="normal" fill="#000">n</text><rect x="580.40" y="1217.85" width="11.8" height="1.5" fill="#000"/><rect x="580.40" y="1222.75" width="11.8" height="1.5" fill="#000"/>
<text x="576.20" y="1256.20" font-size="23.0" text-anchor="middle" font-weight="normal" fill="#000">8</text>
<text x="614.90" y="1226.90" font-size="23.0" text-anchor="start" font-weight="normal" fill="#000">n</text><rect x="635.60" y="1217.85" width="11.8" height="1.5" fill="#000"/><rect x="635.60" y="1222.75" width="11.8" height="1.5" fill="#000"/>
<text x="631.40" y="1256.20" font-size="23.0" text-anchor="middle" font-weight="normal" fill="#000">8</text>
<rect x="193.40" y="1269.8" width="32.4" height="31.6" fill="#C1272D" stroke="#000" stroke-width="1.4"/>
<text x="237.00" y="1293.70" font-size="23.0" text-anchor="start" font-weight="normal" fill="#000">1 hour</text>
<rect x="315.40" y="1269.8" width="32.4" height="31.6" fill="#0000A0" stroke="#000" stroke-width="1.4"/>
<text x="358.30" y="1293.70" font-size="23.0" text-anchor="start" font-weight="normal" fill="#000">2 hours</text>
<rect x="449.20" y="1269.8" width="32.4" height="31.6" fill="#EBCB15" stroke="#000" stroke-width="1.4"/>
<text x="492.00" y="1293.70" font-size="23.0" text-anchor="start" font-weight="normal" fill="#000">8 hours</text>
</svg>
</body></html>
